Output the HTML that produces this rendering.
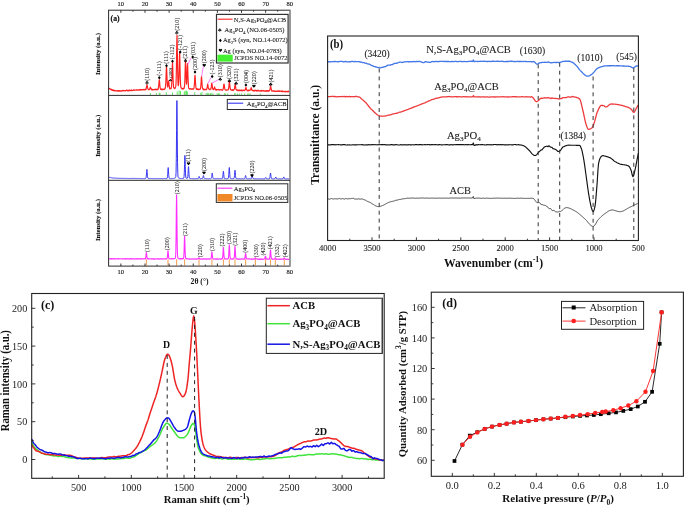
<!DOCTYPE html>
<html><head><meta charset="utf-8"><title>Figure</title>
<style>
html,body{margin:0;padding:0;background:#fff;}
body{width:685px;height:507px;overflow:hidden;font-family:"Liberation Serif",serif;}
svg{display:block;will-change:transform;}
</style></head>
<body>
<svg width="685" height="507" viewBox="0 0 685 507">
<rect x="0" y="0" width="685" height="507" fill="#fff"/>
<line x1="150.4" y1="93" x2="150.4" y2="94.9" stroke="#5fe85f" stroke-width="1.0"/>
<line x1="156.4" y1="93" x2="156.4" y2="94.9" stroke="#5fe85f" stroke-width="1.0"/>
<line x1="159.2" y1="92.6" x2="159.2" y2="94.9" stroke="#5fe85f" stroke-width="1.0"/>
<line x1="160" y1="93" x2="160" y2="94.9" stroke="#5fe85f" stroke-width="1.0"/>
<line x1="166.3" y1="92.2" x2="166.3" y2="94.9" stroke="#5fe85f" stroke-width="1.0"/>
<line x1="172.5" y1="92.4" x2="172.5" y2="94.9" stroke="#5fe85f" stroke-width="1.0"/>
<line x1="177.2" y1="91.5" x2="177.2" y2="94.9" stroke="#5fe85f" stroke-width="1.0"/>
<line x1="179.1" y1="90.4" x2="179.1" y2="94.9" stroke="#5fe85f" stroke-width="1.0"/>
<line x1="180.5" y1="91" x2="180.5" y2="94.9" stroke="#5fe85f" stroke-width="1.0"/>
<line x1="184.3" y1="91.5" x2="184.3" y2="94.9" stroke="#5fe85f" stroke-width="1.0"/>
<line x1="185.2" y1="90.6" x2="185.2" y2="94.9" stroke="#5fe85f" stroke-width="1.0"/>
<line x1="186.5" y1="90.8" x2="186.5" y2="94.9" stroke="#5fe85f" stroke-width="1.0"/>
<line x1="187.4" y1="91.6" x2="187.4" y2="94.9" stroke="#5fe85f" stroke-width="1.0"/>
<line x1="194.7" y1="92.2" x2="194.7" y2="94.9" stroke="#5fe85f" stroke-width="1.0"/>
<line x1="200.8" y1="92.8" x2="200.8" y2="94.9" stroke="#5fe85f" stroke-width="1.0"/>
<line x1="201.9" y1="92.2" x2="201.9" y2="94.9" stroke="#5fe85f" stroke-width="1.0"/>
<line x1="206.2" y1="93.2" x2="206.2" y2="94.9" stroke="#5fe85f" stroke-width="1.0"/>
<line x1="207.3" y1="93" x2="207.3" y2="94.9" stroke="#5fe85f" stroke-width="1.0"/>
<line x1="208.4" y1="93.2" x2="208.4" y2="94.9" stroke="#5fe85f" stroke-width="1.0"/>
<line x1="210" y1="93.4" x2="210" y2="94.9" stroke="#5fe85f" stroke-width="1.0"/>
<line x1="210.6" y1="93.2" x2="210.6" y2="94.9" stroke="#5fe85f" stroke-width="1.0"/>
<line x1="211.8" y1="93.3" x2="211.8" y2="94.9" stroke="#5fe85f" stroke-width="1.0"/>
<line x1="213" y1="93.4" x2="213" y2="94.9" stroke="#5fe85f" stroke-width="1.0"/>
<line x1="217.2" y1="93.3" x2="217.2" y2="94.9" stroke="#5fe85f" stroke-width="1.0"/>
<line x1="218.4" y1="93.3" x2="218.4" y2="94.9" stroke="#5fe85f" stroke-width="1.0"/>
<line x1="219.6" y1="93.5" x2="219.6" y2="94.9" stroke="#5fe85f" stroke-width="1.0"/>
<line x1="224.4" y1="93.2" x2="224.4" y2="94.9" stroke="#5fe85f" stroke-width="1.0"/>
<line x1="225.6" y1="93.5" x2="225.6" y2="94.9" stroke="#5fe85f" stroke-width="1.0"/>
<line x1="227.7" y1="93.4" x2="227.7" y2="94.9" stroke="#5fe85f" stroke-width="1.0"/>
<line x1="234.5" y1="93.4" x2="234.5" y2="94.9" stroke="#5fe85f" stroke-width="1.0"/>
<line x1="235.7" y1="93.4" x2="235.7" y2="94.9" stroke="#5fe85f" stroke-width="1.0"/>
<line x1="237.5" y1="93.5" x2="237.5" y2="94.9" stroke="#5fe85f" stroke-width="1.0"/>
<line x1="239.3" y1="93.5" x2="239.3" y2="94.9" stroke="#5fe85f" stroke-width="1.0"/>
<line x1="241.7" y1="93.4" x2="241.7" y2="94.9" stroke="#5fe85f" stroke-width="1.0"/>
<line x1="244.7" y1="93.5" x2="244.7" y2="94.9" stroke="#5fe85f" stroke-width="1.0"/>
<line x1="247.7" y1="93.5" x2="247.7" y2="94.9" stroke="#5fe85f" stroke-width="1.0"/>
<line x1="248.9" y1="93.5" x2="248.9" y2="94.9" stroke="#5fe85f" stroke-width="1.0"/>
<line x1="250.1" y1="93.5" x2="250.1" y2="94.9" stroke="#5fe85f" stroke-width="1.0"/>
<line x1="260.3" y1="93.6" x2="260.3" y2="94.9" stroke="#5fe85f" stroke-width="1.0"/>
<line x1="146.4" y1="259.2" x2="146.4" y2="265.6" stroke="#f4a257" stroke-width="1.1"/>
<line x1="168" y1="259.2" x2="168" y2="265.6" stroke="#f4a257" stroke-width="1.1"/>
<line x1="176.6" y1="259.2" x2="176.6" y2="265.6" stroke="#f4a257" stroke-width="1.1"/>
<line x1="184.6" y1="259.2" x2="184.6" y2="265.6" stroke="#f4a257" stroke-width="1.1"/>
<line x1="199" y1="259.2" x2="199" y2="265.6" stroke="#f4a257" stroke-width="1.1"/>
<line x1="211.9" y1="259.2" x2="211.9" y2="265.6" stroke="#f4a257" stroke-width="1.1"/>
<line x1="223.4" y1="259.2" x2="223.4" y2="265.6" stroke="#f4a257" stroke-width="1.1"/>
<line x1="229.3" y1="259.2" x2="229.3" y2="265.6" stroke="#f4a257" stroke-width="1.1"/>
<line x1="235" y1="259.2" x2="235" y2="265.6" stroke="#f4a257" stroke-width="1.1"/>
<line x1="245.6" y1="259.2" x2="245.6" y2="265.6" stroke="#f4a257" stroke-width="1.1"/>
<line x1="255.4" y1="259.2" x2="255.4" y2="265.6" stroke="#f4a257" stroke-width="1.1"/>
<line x1="265.5" y1="259.2" x2="265.5" y2="265.6" stroke="#f4a257" stroke-width="1.1"/>
<line x1="270.5" y1="259.2" x2="270.5" y2="265.6" stroke="#f4a257" stroke-width="1.1"/>
<line x1="275.3" y1="259.2" x2="275.3" y2="265.6" stroke="#f4a257" stroke-width="1.1"/>
<line x1="284.3" y1="259.2" x2="284.3" y2="265.6" stroke="#f4a257" stroke-width="1.1"/>
<path d="M108.8 87.97 L109.05 88.75 L109.3 88.8 L109.55 88.48 L109.8 88.83 L110.05 88.92 L110.3 89.23 L110.55 89.49 L110.8 89 L111.05 89.07 L111.3 89.93 L111.55 89.7 L111.8 90.13 L112.05 89.56 L112.3 90.03 L112.55 90.34 L112.8 89.96 L113.05 90.66 L113.3 90.69 L113.55 89.96 L113.8 90.02 L114.05 90.55 L114.3 90.97 L114.55 90.53 L114.8 90.44 L115.05 90.69 L115.3 90.4 L115.55 90.64 L115.8 90.89 L116.05 90.99 L116.3 90.75 L116.55 90.73 L116.8 90.71 L117.05 90.92 L117.3 90.75 L117.55 90.5 L117.8 91.22 L118.05 90.96 L118.3 91.03 L118.55 90.6 L118.8 91.32 L119.05 91.19 L119.3 90.51 L119.55 90.69 L119.8 91.03 L120.05 91.01 L120.3 91.2 L120.55 90.73 L120.8 91.08 L121.05 90.93 L121.3 90.59 L121.55 90.83 L121.8 91.08 L122.05 91.04 L122.3 90.72 L122.55 90.79 L122.8 90.28 L123.05 90.45 L123.3 90.94 L123.55 90.59 L123.8 90.36 L124.05 90.68 L124.3 90.81 L124.55 90.78 L124.8 90.49 L125.05 90.54 L125.3 90.59 L125.55 90.82 L125.8 90.58 L126.05 90.45 L126.3 90.53 L126.55 90.1 L126.8 90.1 L127.05 90.68 L127.3 90.92 L127.55 90.56 L127.8 90.37 L128.05 90.16 L128.3 90.44 L128.55 90.86 L128.8 90.66 L129.05 90.44 L129.3 90.72 L129.55 90.14 L129.8 90.38 L130.05 90.77 L130.3 90.42 L130.55 90.3 L130.8 90.12 L131.05 90.36 L131.3 90.71 L131.55 89.84 L131.8 90.53 L132.05 90.55 L132.3 90.6 L132.55 90.46 L132.8 90.51 L133.05 90.23 L133.3 90.26 L133.55 90.13 L133.8 89.78 L134.05 90.5 L134.3 90.22 L134.55 89.88 L134.8 90.14 L135.05 90.11 L135.3 89.98 L135.55 89.96 L135.8 90.12 L136.05 90.19 L136.3 90.16 L136.55 90.01 L136.8 89.61 L137.05 89.78 L137.3 89.72 L137.55 90.08 L137.8 90.31 L138.05 90.24 L138.3 90.23 L138.55 90.24 L138.8 89.72 L139.05 90.23 L139.3 90.07 L139.55 89.53 L139.8 89.45 L140.05 89.44 L140.3 90.1 L140.55 89.64 L140.8 89.51 L141.05 89.97 L141.3 89.71 L141.55 89.46 L141.8 89.54 L142.05 89.86 L142.3 89.53 L142.55 89.62 L142.8 90.01 L143.05 89.77 L143.3 89.64 L143.55 89.77 L143.8 89.36 L144.05 89.67 L144.3 89.69 L144.55 89.47 L144.8 89.38 L145.05 90.06 L145.3 89.68 L145.55 89.35 L145.8 89.58 L146.05 89.43 L146.3 87.88 L146.5 86.73 L146.55 86.51 L146.75 85.65 L146.8 84.85 L147 84.75 L147.05 84.76 L147.25 85.49 L147.3 85.52 L147.5 87.58 L147.55 87.73 L147.8 88.69 L148.05 89.01 L148.3 89.61 L148.55 89.45 L148.8 89.63 L149.05 89.39 L149.3 89.59 L149.55 88.85 L149.8 88.56 L149.9 88.87 L150.05 88.3 L150.15 87.47 L150.3 87.63 L150.4 87.06 L150.55 87.79 L150.65 87.87 L150.8 88.06 L150.9 88.23 L151.05 88.43 L151.3 89.66 L151.55 89.09 L151.8 89.86 L152.05 90.02 L152.3 89.67 L152.55 89.32 L152.8 89.95 L153.05 90.04 L153.3 89.8 L153.55 89.62 L153.8 89.5 L154.05 89.47 L154.3 89.34 L154.55 89.75 L154.8 89.53 L155.05 89.3 L155.3 89.21 L155.55 89.71 L155.8 89.36 L156.05 89.53 L156.3 89.36 L156.55 89.83 L156.8 89.83 L157.05 89.01 L157.3 89.13 L157.55 89.19 L157.8 89.69 L158.05 89.3 L158.3 88.36 L158.55 86.87 L158.8 84.64 L159.05 81.46 L159.3 79.81 L159.55 81.01 L159.8 84.81 L160.05 87.26 L160.3 88.44 L160.55 89.42 L160.8 88.93 L161.05 89.45 L161.3 88.92 L161.55 89.02 L161.8 89.7 L162.05 89.08 L162.3 89.57 L162.55 89.43 L162.8 89.63 L163.05 89.19 L163.3 89.15 L163.55 89.07 L163.8 89.55 L164.05 89.27 L164.3 89.52 L164.55 89.36 L164.8 88.55 L165.05 88.69 L165.3 87.74 L165.55 86.16 L165.8 82.51 L166 78.16 L166.05 76.59 L166.25 70.52 L166.3 68.77 L166.5 66.34 L166.55 66.67 L166.75 70.04 L166.8 71.65 L167 77.43 L167.05 78.71 L167.3 84.17 L167.55 87.03 L167.8 86.83 L168.05 85.68 L168.1 84.82 L168.3 82.71 L168.35 82.7 L168.55 81.54 L168.6 80.76 L168.8 82.28 L168.85 82.21 L169.05 84.3 L169.1 85.5 L169.3 86.45 L169.55 87.85 L169.8 89.01 L170.05 88.64 L170.3 88.38 L170.55 88.37 L170.8 88.32 L171.05 88.53 L171.3 87.34 L171.55 86.34 L171.8 81.64 L172 76.36 L172.05 74.58 L172.25 67.02 L172.3 65.48 L172.5 62.61 L172.55 62.48 L172.75 67.3 L172.8 68.41 L173 75.43 L173.05 77.93 L173.3 83.53 L173.55 86.8 L173.8 87.76 L174.05 87.99 L174.3 87.88 L174.55 88.65 L174.8 88.63 L175.05 88.48 L175.3 87.44 L175.55 87.03 L175.8 86.15 L176.05 82.98 L176.3 74.07 L176.5 62.47 L176.55 58.96 L176.75 44.45 L176.8 41.67 L177 35.27 L177.05 35.62 L177.25 44.16 L177.3 47.68 L177.5 62.46 L177.55 65.26 L177.8 77.88 L178.05 83.73 L178.3 85.74 L178.55 84.54 L178.8 80.74 L179.05 72.53 L179.1 70.34 L179.3 61.37 L179.35 59.18 L179.55 52.86 L179.6 52.62 L179.8 57.02 L179.85 59.11 L180.05 68.68 L180.1 70.71 L180.3 78.43 L180.55 84.4 L180.8 86.62 L181.05 87.91 L181.3 87.85 L181.55 88.05 L181.8 88.69 L182.05 88.47 L182.3 88.98 L182.55 88.74 L182.8 89.07 L183.05 88.41 L183.3 88.67 L183.55 88.85 L183.8 88.05 L184.05 88.57 L184.3 87.21 L184.55 85.91 L184.8 81.62 L185 75.32 L185.05 73.03 L185.25 65.41 L185.3 64.18 L185.5 61.27 L185.55 60.9 L185.75 65.92 L185.8 66.97 L186 74.94 L186.05 75.81 L186.3 82.08 L186.55 84.2 L186.8 81.35 L187 76.36 L187.05 74.74 L187.25 68.24 L187.3 66.81 L187.5 63.59 L187.55 64.04 L187.75 67.96 L187.8 70.05 L188 76.71 L188.05 77.9 L188.3 83.66 L188.55 87.38 L188.8 88.35 L189.05 88.55 L189.3 88.75 L189.55 89.16 L189.8 88.9 L190.05 88.92 L190.3 88.92 L190.55 88.89 L190.8 88.71 L191.05 89.3 L191.3 89.11 L191.55 89.26 L191.8 88.81 L192.05 89.08 L192.3 88.88 L192.55 88.85 L192.8 88.94 L193.05 89.41 L193.3 88.96 L193.55 88.83 L193.8 88.69 L194.05 87.42 L194.3 84.95 L194.5 82.28 L194.55 81.32 L194.75 77.68 L194.8 76.68 L195 75.25 L195.05 75.41 L195.25 77.31 L195.3 78.44 L195.5 82.25 L195.55 82.91 L195.8 86.46 L196.05 88.25 L196.3 89.18 L196.55 89.42 L196.8 88.96 L197.05 89.36 L197.3 88.87 L197.55 88.92 L197.8 89.34 L198.05 89.68 L198.3 89.05 L198.55 89.59 L198.8 89.69 L199.05 89.17 L199.3 89.49 L199.55 89.59 L199.8 89.1 L200.05 89.28 L200.3 89.02 L200.55 88.08 L200.8 86.31 L201 83.59 L201.05 82.83 L201.25 79.15 L201.3 78.08 L201.5 76.7 L201.55 76.77 L201.75 79.15 L201.8 80.11 L202 82.84 L202.05 84.19 L202.3 87.2 L202.55 88.32 L202.8 89.02 L203.05 88.91 L203.3 89.52 L203.55 88.96 L203.8 89.85 L204.05 89.72 L204.3 89.58 L204.55 89.28 L204.8 89.87 L205.05 89.91 L205.3 89.18 L205.55 89.74 L205.8 89.79 L206.05 89.6 L206.3 89.58 L206.55 89.21 L206.8 89.21 L207.05 88.27 L207.2 86.81 L207.3 86.48 L207.45 85.08 L207.55 84.28 L207.7 84.06 L207.8 84.04 L207.95 85.51 L208.05 86.25 L208.2 86.58 L208.3 87.65 L208.55 88.61 L208.8 88.87 L209.05 89.21 L209.3 89.23 L209.55 89.71 L209.8 89.04 L210.05 89.2 L210.3 89.38 L210.55 88.89 L210.8 89.1 L211.05 88.22 L211.3 86.75 L211.55 84.06 L211.8 83.02 L212.05 84.36 L212.3 86.24 L212.55 88.2 L212.8 88.77 L213.05 89.48 L213.3 89.64 L213.55 89.53 L213.8 89.27 L214 88.3 L214.05 88.08 L214.25 87.68 L214.3 87.45 L214.5 86.96 L214.55 86.82 L214.75 87.19 L214.8 87.21 L215 88.59 L215.05 88.15 L215.3 89.39 L215.55 89.54 L215.8 90.05 L216.05 89.92 L216.3 90.14 L216.55 89.41 L216.8 89.75 L217.05 89.83 L217.3 89.61 L217.55 89.79 L217.8 89.67 L218.05 89.84 L218.3 89.37 L218.55 89.77 L218.8 89.79 L219.05 89.66 L219.3 89.75 L219.55 90.1 L219.8 90.02 L220.05 89.85 L220.3 89.99 L220.55 89.75 L220.8 89.6 L221.05 89.42 L221.3 89.66 L221.55 89.94 L221.8 90.19 L222.05 90.12 L222.3 89.81 L222.55 90.18 L222.8 89.58 L223.05 89.53 L223.3 88.19 L223.5 87.19 L223.55 87.01 L223.75 84.82 L223.8 84.36 L224 84.07 L224.05 84.04 L224.25 84.86 L224.3 84.92 L224.5 86.87 L224.55 87.28 L224.8 88.68 L225.05 89.78 L225.3 89.8 L225.55 90.03 L225.8 90.22 L226.05 90.12 L226.3 89.9 L226.55 90.14 L226.8 90.05 L227.05 90.05 L227.3 90.02 L227.55 89.79 L227.8 89.94 L228.05 89.84 L228.3 89.82 L228.55 88.86 L228.8 87.12 L228.9 86.02 L229.05 84.34 L229.15 83.04 L229.3 81.59 L229.4 81.25 L229.55 82.23 L229.65 83.28 L229.8 84.69 L229.9 85.48 L230.05 87.58 L230.3 88.86 L230.55 89.54 L230.8 89.41 L231.05 89.93 L231.3 90.2 L231.55 89.95 L231.8 89.91 L232.05 90.2 L232.3 89.64 L232.55 90.09 L232.8 90.49 L233.05 90.25 L233.3 89.98 L233.55 90.21 L233.8 90.08 L234.05 89.56 L234.3 89.1 L234.55 88.62 L234.7 87.04 L234.8 86.08 L234.95 85.59 L235.05 84.69 L235.2 84.15 L235.3 84.47 L235.45 85.51 L235.55 85.77 L235.7 87.41 L235.8 88.18 L236.05 89.53 L236.3 89.63 L236.55 90.15 L236.8 89.9 L237.05 90.24 L237.3 89.92 L237.55 90.5 L237.8 90.59 L238.05 90.13 L238.3 90.05 L238.55 90.73 L238.8 90.51 L239.05 90.64 L239.3 89.92 L239.55 90.71 L239.8 90.47 L240.05 90.2 L240.3 90.31 L240.55 90.61 L240.8 90.64 L241.05 90.11 L241.3 90.51 L241.55 90.1 L241.8 90.83 L242.05 90.36 L242.3 90.78 L242.55 90.62 L242.8 90.51 L243.05 90.2 L243.3 90.44 L243.55 90.09 L243.8 90.09 L244.05 90.6 L244.3 90.27 L244.55 90.58 L244.8 90.03 L245.05 90.18 L245.3 89.58 L245.4 88.86 L245.55 88.1 L245.65 87.99 L245.8 87.67 L245.9 87.22 L246.05 87.5 L246.15 87.68 L246.3 88.75 L246.4 89.4 L246.55 89.3 L246.8 89.67 L247.05 90.51 L247.3 90.7 L247.55 90.87 L247.8 90.58 L248.05 90.35 L248.3 90.8 L248.55 90.16 L248.8 90.68 L249.05 90.15 L249.3 90.42 L249.55 90.49 L249.8 90.36 L250.05 90.1 L250.3 89.94 L250.55 89.96 L250.7 89.16 L250.8 88.89 L250.95 88.01 L251.05 88.17 L251.2 87.63 L251.3 87.96 L251.45 88.64 L251.55 89.08 L251.7 88.8 L251.8 89.81 L252.05 90.46 L252.3 90.26 L252.55 90.42 L252.8 90.64 L253.05 90.97 L253.3 90.52 L253.55 90.97 L253.8 90.87 L254.05 90.33 L254.3 91.03 L254.55 90.23 L254.8 90.35 L255.05 90.83 L255.3 90.29 L255.55 90.58 L255.8 90.37 L256.05 90.67 L256.3 91.02 L256.55 91.08 L256.8 90.3 L257.05 90.33 L257.3 91.04 L257.55 90.33 L257.8 90.54 L258.05 90.41 L258.3 90.39 L258.55 90.34 L258.8 90.89 L259.05 90.99 L259.3 90.94 L259.55 91.09 L259.8 90.93 L260.05 90.69 L260.3 90.92 L260.55 91.22 L260.8 90.93 L261.05 90.58 L261.3 90.42 L261.55 91.21 L261.8 90.91 L262.05 90.7 L262.3 90.93 L262.55 90.9 L262.8 90.87 L263.05 90.46 L263.3 90.72 L263.55 90.78 L263.8 90.59 L264.05 91.21 L264.3 90.81 L264.55 91.02 L264.8 91.08 L265.05 91.11 L265.3 91.09 L265.55 91.12 L265.8 90.68 L266.05 91.34 L266.3 90.6 L266.55 91.29 L266.8 91.24 L267.05 91.24 L267.3 90.52 L267.55 90.56 L267.8 91.2 L268.05 90.89 L268.3 90.8 L268.55 91.34 L268.8 90.48 L269.05 90.89 L269.3 90.74 L269.55 90.27 L269.8 89.98 L270.05 89.18 L270.1 89.05 L270.3 87.05 L270.35 87.21 L270.55 86.07 L270.6 86.67 L270.8 86.56 L270.85 86.77 L271.05 88.31 L271.1 88.93 L271.3 89.57 L271.55 90.15 L271.8 91.06 L272.05 91.19 L272.3 91.28 L272.55 90.82 L272.8 90.95 L273.05 90.81 L273.3 91.1 L273.55 90.91 L273.8 90.93 L274.05 91.34 L274.3 91.51 L274.55 91.18 L274.8 90.76 L275.05 91.26 L275.3 91.08 L275.55 91.58 L275.8 91.34 L276.05 91.45 L276.3 91.34 L276.55 91.2 L276.8 91.53 L277.05 91.48 L277.3 91 L277.55 90.88 L277.8 91.08 L278.05 91.23 L278.3 90.85 L278.55 91.08 L278.8 91.29 L279.05 90.82 L279.3 91.52 L279.55 91.38 L279.8 91.08 L280.05 91.08 L280.3 91.13 L280.55 91.11 L280.8 91.5 L281.05 91.28 L281.3 91.31 L281.55 90.98 L281.8 91.67 L282.05 91.15 L282.3 91.16 L282.55 90.93 L282.8 91.76 L283.05 91.31 L283.3 91.71 L283.55 91.73 L283.8 91.77 L284.05 91.64 L284.3 91.74 L284.55 91.75 L284.8 91.64 L285.05 91.05 L285.3 91.41 L285.55 91.46 L285.8 91.84 L286.05 91.66 L286.3 91.59 L286.55 91.64 L286.8 91.3 L287.05 91.83 L287.3 91.56 L287.55 91.35 L287.8 91.41 L288.05 91.88 L288.3 91.49 L288.55 91.16 L288.8 91.15 L289.05 91.64 L289.3 91.54" fill="none" stroke="#ff2020" stroke-width="1.15" stroke-linejoin="round"/>
<path d="M108.8 177.51 L109.05 177.54 L109.3 177.36 L109.55 177.4 L109.8 177.61 L110.05 177.62 L110.3 177.63 L110.55 177.58 L110.8 177.68 L111.05 177.72 L111.3 177.74 L111.55 177.67 L111.8 177.77 L112.05 177.79 L112.3 177.91 L112.55 178 L112.8 178.02 L113.05 177.96 L113.3 177.97 L113.55 177.96 L113.8 177.93 L114.05 177.96 L114.3 178.1 L114.55 178.1 L114.8 178.15 L115.05 178.29 L115.3 178.21 L115.55 178.22 L115.8 178.15 L116.05 178.1 L116.3 178.18 L116.55 178.14 L116.8 178.23 L117.05 178.35 L117.3 178.28 L117.55 178.16 L117.8 178.34 L118.05 178.32 L118.3 178.31 L118.55 178.35 L118.8 178.32 L119.05 178.33 L119.3 178.23 L119.55 178.39 L119.8 178.39 L120.05 178.2 L120.3 178.35 L120.55 178.34 L120.8 178.28 L121.05 178.3 L121.3 178.3 L121.55 178.41 L121.8 178.31 L122.05 178.39 L122.3 178.28 L122.55 178.41 L122.8 178.42 L123.05 178.32 L123.3 178.35 L123.55 178.44 L123.8 178.39 L124.05 178.34 L124.3 178.28 L124.55 178.31 L124.8 178.4 L125.05 178.28 L125.3 178.46 L125.55 178.31 L125.8 178.47 L126.05 178.33 L126.3 178.49 L126.55 178.43 L126.8 178.39 L127.05 178.4 L127.3 178.43 L127.55 178.42 L127.8 178.36 L128.05 178.34 L128.3 178.41 L128.55 178.52 L128.8 178.45 L129.05 178.32 L129.3 178.5 L129.55 178.49 L129.8 178.53 L130.05 178.37 L130.3 178.5 L130.55 178.34 L130.8 178.49 L131.05 178.4 L131.3 178.39 L131.55 178.55 L131.8 178.37 L132.05 178.48 L132.3 178.56 L132.55 178.42 L132.8 178.41 L133.05 178.58 L133.3 178.47 L133.55 178.55 L133.8 178.39 L134.05 178.47 L134.3 178.43 L134.55 178.55 L134.8 178.41 L135.05 178.63 L135.3 178.41 L135.55 178.58 L135.8 178.42 L136.05 178.48 L136.3 178.61 L136.55 178.46 L136.8 178.47 L137.05 178.6 L137.3 178.53 L137.55 178.45 L137.8 178.68 L138.05 178.48 L138.3 178.46 L138.55 178.54 L138.8 178.6 L139.05 178.64 L139.3 178.49 L139.55 178.55 L139.8 178.48 L140.05 178.58 L140.3 178.66 L140.55 178.65 L140.8 178.69 L141.05 178.66 L141.3 178.68 L141.55 178.64 L141.8 178.59 L142.05 178.53 L142.3 178.63 L142.55 178.55 L142.8 178.49 L143.05 178.58 L143.3 178.67 L143.55 178.49 L143.8 178.6 L144.05 178.55 L144.3 178.57 L144.55 178.48 L144.8 178.66 L145.05 178.48 L145.3 178.54 L145.55 178.46 L145.8 178.25 L146.05 177.89 L146.3 176.16 L146.4 175 L146.55 172.84 L146.65 171.38 L146.8 169.68 L146.9 169.43 L147.05 170.22 L147.15 171.58 L147.3 173.81 L147.4 175.22 L147.55 176.65 L147.8 178.02 L148.05 178.34 L148.3 178.51 L148.55 178.56 L148.8 178.62 L149.05 178.61 L149.3 178.51 L149.55 178.56 L149.8 178.59 L150.05 178.47 L150.3 178.48 L150.55 178.57 L150.8 178.5 L151.05 178.65 L151.3 178.54 L151.55 178.51 L151.8 178.53 L152.05 178.54 L152.3 178.54 L152.55 178.61 L152.8 178.6 L153.05 178.56 L153.3 178.64 L153.55 178.54 L153.8 178.71 L154.05 178.72 L154.3 178.67 L154.55 178.6 L154.8 178.62 L155.05 178.63 L155.3 178.51 L155.55 178.6 L155.8 178.62 L156.05 178.54 L156.3 178.52 L156.55 178.69 L156.8 178.58 L157.05 178.62 L157.3 178.72 L157.55 178.64 L157.8 178.57 L158.05 178.73 L158.3 178.59 L158.55 178.5 L158.8 178.66 L159.05 178.52 L159.3 178.57 L159.55 178.7 L159.8 178.66 L160.05 178.5 L160.3 178.61 L160.55 178.6 L160.8 178.62 L161.05 178.55 L161.3 178.64 L161.55 178.52 L161.8 178.57 L162.05 178.59 L162.3 178.72 L162.55 178.51 L162.8 178.68 L163.05 178.54 L163.3 178.63 L163.55 178.59 L163.8 178.6 L164.05 178.67 L164.3 178.58 L164.55 178.51 L164.8 178.51 L165.05 178.49 L165.3 178.67 L165.55 178.62 L165.8 178.68 L166.05 178.61 L166.3 178.43 L166.55 178.56 L166.8 178.55 L167.05 178.43 L167.3 177.93 L167.55 176.31 L167.7 174.41 L167.8 172.81 L167.95 169.99 L168.05 168.56 L168.2 167.56 L168.3 168.13 L168.45 170.12 L168.55 171.94 L168.7 174.49 L168.8 175.74 L169.05 177.67 L169.3 178.31 L169.55 178.4 L169.8 178.48 L170.05 178.56 L170.3 178.64 L170.55 178.56 L170.8 178.63 L171.05 178.45 L171.3 178.52 L171.55 178.67 L171.8 178.46 L172.05 178.52 L172.3 178.43 L172.55 178.43 L172.8 178.61 L173.05 178.62 L173.3 178.52 L173.55 178.37 L173.8 178.38 L174.05 178.33 L174.3 178.39 L174.55 178.32 L174.8 178.18 L175.05 178.08 L175.3 177.79 L175.55 177.57 L175.8 176.69 L176.05 172.53 L176.3 158.57 L176.4 148.96 L176.55 130.78 L176.65 118.04 L176.8 103.86 L176.9 100.57 L177.05 107.57 L177.15 118.07 L177.3 137.23 L177.4 149.02 L177.55 162.6 L177.8 173.71 L178.05 176.88 L178.3 177.53 L178.55 177.95 L178.8 178.19 L179.05 178.13 L179.3 178.29 L179.55 178.35 L179.8 178.37 L180.05 178.48 L180.3 178.56 L180.55 178.52 L180.8 178.48 L181.05 178.61 L181.3 178.47 L181.55 178.57 L181.8 178.55 L182.05 178.57 L182.3 178.59 L182.55 178.42 L182.8 178.5 L183.05 178.41 L183.3 178.42 L183.55 178.41 L183.8 178.04 L184.05 176.67 L184.3 172.7 L184.4 169.89 L184.55 164.55 L184.65 160.75 L184.8 156.56 L184.9 155.43 L185.05 157.7 L185.15 160.77 L185.3 166.36 L185.4 169.93 L185.55 173.95 L185.8 177.08 L186.05 178.16 L186.3 178.36 L186.55 178.29 L186.8 178.45 L187.05 178.41 L187.3 178.25 L187.55 178.06 L187.8 176.54 L188 174.07 L188.05 173.15 L188.25 169.26 L188.3 168.46 L188.5 166.63 L188.55 166.69 L188.75 169.44 L188.8 170.18 L189 173.95 L189.05 174.86 L189.3 177.5 L189.55 178.3 L189.8 178.52 L190.05 178.52 L190.3 178.6 L190.55 178.54 L190.8 178.54 L191.05 178.61 L191.3 178.51 L191.55 178.53 L191.8 178.69 L192.05 178.56 L192.3 178.7 L192.55 178.71 L192.8 178.63 L193.05 178.69 L193.3 178.72 L193.55 178.74 L193.8 178.57 L194.05 178.58 L194.3 178.63 L194.55 178.66 L194.8 178.62 L195.05 178.55 L195.3 178.68 L195.55 178.78 L195.8 178.64 L196.05 178.68 L196.3 178.64 L196.55 178.65 L196.8 178.76 L197.05 178.62 L197.3 178.7 L197.55 178.65 L197.8 178.66 L198.05 178.71 L198.3 178.36 L198.55 178.07 L198.6 177.8 L198.8 177.19 L198.85 177.05 L199.05 176.54 L199.1 176.46 L199.3 176.9 L199.35 176.88 L199.55 177.72 L199.6 177.82 L199.8 178.33 L200.05 178.66 L200.3 178.71 L200.55 178.69 L200.8 178.61 L201.05 178.6 L201.3 178.65 L201.55 178.6 L201.8 178.6 L202.05 178.76 L202.3 178.51 L202.55 178.52 L202.8 177.87 L202.9 177.48 L203.05 176.74 L203.15 176.18 L203.3 175.7 L203.4 175.51 L203.55 175.85 L203.65 176.24 L203.8 177.14 L203.9 177.62 L204.05 178.04 L204.3 178.54 L204.55 178.73 L204.8 178.62 L205.05 178.58 L205.3 178.62 L205.55 178.61 L205.8 178.73 L206.05 178.66 L206.3 178.66 L206.55 178.77 L206.8 178.63 L207.05 178.77 L207.3 178.73 L207.55 178.67 L207.8 178.78 L208.05 178.66 L208.3 178.79 L208.55 178.8 L208.8 178.7 L209.05 178.74 L209.3 178.8 L209.55 178.75 L209.8 178.75 L210.05 178.77 L210.3 178.78 L210.55 178.73 L210.8 178.76 L211.05 178.54 L211.3 178.39 L211.55 177.58 L211.7 176.51 L211.8 175.65 L211.95 174.2 L212.05 173.61 L212.2 172.96 L212.3 173.22 L212.45 174.37 L212.55 175.13 L212.7 176.65 L212.8 177.17 L213.05 178.16 L213.3 178.54 L213.55 178.61 L213.8 178.77 L214.05 178.77 L214.3 178.76 L214.55 178.68 L214.8 178.71 L215.05 178.65 L215.3 178.79 L215.55 178.69 L215.8 178.66 L216.05 178.75 L216.3 178.64 L216.55 178.68 L216.8 178.82 L217.05 178.63 L217.3 178.64 L217.55 178.65 L217.8 178.66 L218.05 178.7 L218.3 178.66 L218.55 178.69 L218.8 178.66 L219.05 178.66 L219.3 178.75 L219.55 178.68 L219.8 178.69 L220.05 178.78 L220.3 178.61 L220.55 178.63 L220.8 178.79 L221.05 178.69 L221.3 178.76 L221.55 178.6 L221.8 178.67 L222.05 178.72 L222.3 178.5 L222.55 178.21 L222.8 176.83 L222.9 175.84 L223.05 174.22 L223.15 172.86 L223.3 171.49 L223.4 171.22 L223.55 171.81 L223.65 172.96 L223.8 174.74 L223.9 175.89 L224.05 177.19 L224.3 178.39 L224.55 178.69 L224.8 178.72 L225.05 178.66 L225.3 178.66 L225.55 178.7 L225.8 178.59 L226.05 178.6 L226.3 178.82 L226.55 178.61 L226.8 178.8 L227.05 178.73 L227.3 178.77 L227.55 178.55 L227.8 178.58 L228.05 178.63 L228.3 178.19 L228.55 177.21 L228.8 174.47 L229.05 170.01 L229.3 167.5 L229.55 170.13 L229.8 174.41 L230.05 177.42 L230.3 178.35 L230.55 178.45 L230.8 178.72 L231.05 178.6 L231.3 178.67 L231.55 178.71 L231.8 178.61 L232.05 178.7 L232.3 178.6 L232.55 178.63 L232.8 178.8 L233.05 178.77 L233.3 178.68 L233.55 178.7 L233.8 178.68 L234.05 178.26 L234.3 177.37 L234.5 175.45 L234.55 174.83 L234.75 172.09 L234.8 171.5 L235 170.18 L235.05 170.31 L235.25 172.16 L235.3 172.89 L235.5 175.63 L235.55 176.2 L235.8 177.96 L236.05 178.5 L236.3 178.74 L236.55 178.6 L236.8 178.61 L237.05 178.8 L237.3 178.76 L237.55 178.67 L237.8 178.72 L238.05 178.71 L238.3 178.74 L238.55 178.74 L238.8 178.74 L239.05 178.84 L239.3 178.84 L239.55 178.79 L239.8 178.77 L240.05 178.72 L240.3 178.84 L240.55 178.89 L240.8 178.71 L241.05 178.83 L241.3 178.83 L241.55 178.82 L241.8 178.67 L242.05 178.79 L242.3 178.71 L242.55 178.7 L242.8 178.8 L243.05 178.81 L243.3 178.8 L243.55 178.83 L243.8 178.81 L244.05 178.75 L244.3 178.63 L244.55 178.76 L244.8 178.55 L245.05 177.87 L245.1 177.6 L245.3 176.46 L245.35 176.24 L245.55 175.53 L245.6 175.63 L245.8 176.09 L245.85 176.24 L246.05 177.45 L246.1 177.69 L246.3 178.37 L246.55 178.63 L246.8 178.69 L247.05 178.69 L247.3 178.85 L247.55 178.83 L247.8 178.73 L248.05 178.88 L248.3 178.8 L248.55 178.77 L248.8 178.77 L249.05 178.84 L249.3 178.78 L249.55 178.83 L249.8 178.7 L250.05 178.84 L250.3 178.73 L250.55 178.88 L250.8 178.7 L251.05 178.7 L251.3 178.62 L251.55 178.12 L251.7 177.59 L251.8 177.2 L251.95 176.25 L252.05 175.95 L252.2 175.64 L252.3 175.8 L252.45 176.3 L252.55 176.83 L252.7 177.55 L252.8 177.98 L253.05 178.5 L253.3 178.66 L253.55 178.76 L253.8 178.71 L254.05 178.79 L254.3 178.82 L254.55 178.76 L254.8 178.73 L255.05 178.83 L255.3 178.9 L255.55 178.75 L255.8 178.84 L256.05 178.85 L256.3 178.91 L256.55 178.86 L256.8 178.77 L257.05 178.75 L257.3 178.9 L257.55 178.77 L257.8 178.71 L258.05 178.91 L258.3 178.75 L258.55 178.78 L258.8 178.78 L259.05 178.77 L259.3 178.88 L259.55 178.79 L259.8 178.81 L260.05 178.81 L260.3 178.91 L260.55 178.71 L260.8 178.85 L261.05 178.74 L261.3 178.75 L261.55 178.86 L261.8 178.8 L262.05 178.73 L262.3 178.85 L262.55 178.93 L262.8 178.87 L263.05 178.83 L263.3 178.9 L263.55 178.93 L263.8 178.74 L264.05 178.78 L264.3 178.93 L264.55 178.91 L264.8 178.68 L265.05 178.59 L265.2 178.38 L265.3 178.09 L265.45 177.77 L265.55 177.53 L265.7 177.33 L265.8 177.38 L265.95 177.61 L266.05 177.99 L266.2 178.2 L266.3 178.5 L266.55 178.7 L266.8 178.78 L267.05 178.93 L267.3 178.79 L267.55 178.81 L267.8 178.79 L268.05 178.75 L268.3 178.75 L268.55 178.81 L268.8 178.87 L269.05 178.68 L269.3 178.84 L269.55 178.6 L269.8 177.79 L270 176.67 L270.05 176.17 L270.25 174.31 L270.3 173.79 L270.5 173 L270.55 173.06 L270.75 174.38 L270.8 174.79 L271 176.67 L271.05 177.07 L271.3 178.19 L271.55 178.55 L271.8 178.76 L272.05 178.71 L272.3 178.72 L272.55 178.78 L272.8 178.84 L273.05 178.86 L273.3 178.87 L273.55 178.94 L273.8 178.74 L274.05 178.85 L274.3 178.73 L274.55 178.86 L274.8 178.77 L275.05 178.53 L275.3 178.1 L275.55 177.45 L275.8 176.99 L276.05 177.52 L276.3 178.12 L276.55 178.58 L276.8 178.89 L277.05 178.86 L277.3 178.75 L277.55 178.92 L277.8 178.82 L278.05 178.97 L278.3 178.89 L278.55 178.94 L278.8 178.96 L279.05 178.87 L279.3 178.98 L279.55 178.75 L279.8 178.83 L280.05 178.95 L280.3 178.75 L280.55 178.91 L280.8 178.99 L281.05 178.92 L281.3 178.96 L281.55 178.77 L281.8 178.88 L282.05 178.89 L282.3 178.84 L282.55 178.83 L282.8 178.87 L283.05 178.53 L283.3 177.98 L283.55 177.29 L283.8 176.91 L284.05 177.34 L284.3 178.13 L284.55 178.57 L284.8 178.9 L285.05 178.74 L285.3 178.8 L285.55 178.94 L285.8 178.97 L286.05 178.86 L286.3 178.98 L286.55 178.79 L286.8 178.91 L287.05 178.78 L287.3 178.82 L287.55 178.82 L287.8 178.77 L288.05 178.87 L288.3 178.89 L288.55 178.84 L288.8 178.93 L289.05 178.79 L289.3 178.9" fill="none" stroke="#3535f2" stroke-width="1.0" stroke-linejoin="round"/>
<path d="M108.8 258.67 L109.05 258.82 L109.3 258.74 L109.55 258.85 L109.8 258.87 L110.05 258.59 L110.3 258.56 L110.55 258.97 L110.8 258.68 L111.05 258.67 L111.3 259.05 L111.55 258.79 L111.8 258.97 L112.05 258.8 L112.3 258.88 L112.55 258.63 L112.8 258.88 L113.05 258.99 L113.3 258.82 L113.55 258.93 L113.8 258.9 L114.05 258.59 L114.3 258.94 L114.55 258.86 L114.8 258.71 L115.05 258.58 L115.3 259 L115.55 258.8 L115.8 258.92 L116.05 259.01 L116.3 258.92 L116.55 259.03 L116.8 258.76 L117.05 258.97 L117.3 258.79 L117.55 259.04 L117.8 259.01 L118.05 258.62 L118.3 258.64 L118.55 258.68 L118.8 259.05 L119.05 258.79 L119.3 258.89 L119.55 258.72 L119.8 258.83 L120.05 258.77 L120.3 258.75 L120.55 258.87 L120.8 258.87 L121.05 259.03 L121.3 258.92 L121.55 259.04 L121.8 259.01 L122.05 259.07 L122.3 258.92 L122.55 258.66 L122.8 259.01 L123.05 259.06 L123.3 259.03 L123.55 258.87 L123.8 258.94 L124.05 258.69 L124.3 259 L124.55 258.87 L124.8 258.73 L125.05 258.62 L125.3 259.01 L125.55 259.08 L125.8 258.63 L126.05 258.99 L126.3 258.79 L126.55 258.66 L126.8 258.74 L127.05 258.97 L127.3 259.03 L127.55 258.61 L127.8 258.9 L128.05 258.61 L128.3 258.95 L128.55 258.76 L128.8 259.03 L129.05 259.08 L129.3 258.85 L129.55 259.09 L129.8 258.75 L130.05 258.63 L130.3 258.9 L130.55 258.61 L130.8 258.7 L131.05 258.8 L131.3 258.9 L131.55 258.68 L131.8 258.62 L132.05 259.03 L132.3 258.76 L132.55 259.08 L132.8 259.05 L133.05 258.79 L133.3 258.83 L133.55 258.86 L133.8 258.93 L134.05 258.9 L134.3 258.88 L134.55 258.92 L134.8 259.08 L135.05 258.86 L135.3 258.82 L135.55 258.97 L135.8 258.73 L136.05 258.76 L136.3 259.1 L136.55 258.87 L136.8 258.88 L137.05 258.62 L137.3 258.82 L137.55 258.9 L137.8 258.62 L138.05 258.92 L138.3 258.93 L138.55 258.64 L138.8 258.93 L139.05 258.85 L139.3 258.95 L139.55 258.79 L139.8 258.97 L140.05 258.98 L140.3 258.63 L140.55 258.65 L140.8 258.95 L141.05 259.1 L141.3 258.74 L141.55 258.84 L141.8 258.91 L142.05 258.77 L142.3 258.8 L142.55 258.77 L142.8 258.8 L143.05 258.91 L143.3 258.76 L143.55 258.79 L143.8 258.99 L144.05 258.61 L144.3 258.87 L144.55 258.95 L144.8 258.72 L145.05 258.65 L145.3 258.86 L145.55 258.25 L145.8 257.12 L145.9 256.46 L146.05 255.12 L146.15 253.81 L146.3 252.76 L146.4 252.51 L146.55 253.32 L146.65 253.98 L146.8 255.72 L146.9 256.33 L147.05 257.51 L147.3 258.57 L147.55 258.93 L147.8 258.78 L148.05 258.69 L148.3 258.65 L148.55 258.87 L148.8 258.7 L149.05 259.02 L149.3 259.04 L149.55 258.71 L149.8 258.76 L150.05 259.03 L150.3 258.95 L150.55 259.03 L150.8 258.8 L151.05 258.7 L151.3 258.78 L151.55 259.03 L151.8 258.77 L152.05 258.81 L152.3 258.85 L152.55 258.85 L152.8 258.84 L153.05 259.1 L153.3 258.72 L153.55 258.64 L153.8 259.11 L154.05 259.08 L154.3 259.14 L154.55 258.86 L154.8 259.12 L155.05 259.11 L155.3 258.76 L155.55 259.02 L155.8 259.06 L156.05 258.98 L156.3 258.91 L156.55 258.79 L156.8 258.82 L157.05 258.76 L157.3 258.68 L157.55 258.94 L157.8 258.79 L158.05 259.05 L158.3 258.67 L158.55 259.1 L158.8 259 L159.05 259.11 L159.3 259.1 L159.55 259.1 L159.8 258.94 L160.05 258.66 L160.3 259.02 L160.55 258.74 L160.8 258.8 L161.05 258.98 L161.3 258.91 L161.55 258.86 L161.8 259.12 L162.05 258.96 L162.3 258.82 L162.55 258.78 L162.8 259.08 L163.05 258.89 L163.3 259.04 L163.55 258.82 L163.8 258.75 L164.05 258.91 L164.3 259.05 L164.55 258.73 L164.8 259.03 L165.05 259.1 L165.3 259.03 L165.55 259.04 L165.8 258.62 L166.05 258.92 L166.3 259.02 L166.55 258.59 L166.8 258.64 L167.05 258.39 L167.3 257.59 L167.5 255.78 L167.55 255.21 L167.75 252.74 L167.8 251.76 L168 250.55 L168.05 250.67 L168.25 252.41 L168.3 253.03 L168.5 256.05 L168.55 256.52 L168.8 257.87 L169.05 258.64 L169.3 258.68 L169.55 258.72 L169.8 258.76 L170.05 258.92 L170.3 258.89 L170.55 258.78 L170.8 258.7 L171.05 258.77 L171.3 258.67 L171.55 258.88 L171.8 258.96 L172.05 258.78 L172.3 258.62 L172.55 258.66 L172.8 258.75 L173.05 258.85 L173.3 258.92 L173.55 258.69 L173.8 258.87 L174.05 258.74 L174.3 258.59 L174.55 258.48 L174.8 258.44 L175.05 258.37 L175.3 257.92 L175.55 256.99 L175.8 252.43 L176.05 238.65 L176.1 234.55 L176.3 214.38 L176.35 208.96 L176.55 195.42 L176.6 194.75 L176.8 204.68 L176.85 209.39 L177.05 229.78 L177.1 234.73 L177.3 248.58 L177.55 255.67 L177.8 257.68 L178.05 257.99 L178.3 258.54 L178.55 258.59 L178.8 258.79 L179.05 258.81 L179.3 258.79 L179.55 258.86 L179.8 258.8 L180.05 258.59 L180.3 258.85 L180.55 258.57 L180.8 258.64 L181.05 258.96 L181.3 258.6 L181.55 258.62 L181.8 258.62 L182.05 259 L182.3 258.64 L182.55 258.54 L182.8 258.91 L183.05 258.5 L183.3 258.75 L183.55 258.29 L183.8 256.81 L184.05 252.04 L184.1 250.35 L184.3 243.31 L184.35 241.12 L184.55 236.64 L184.6 236.28 L184.8 239.81 L184.85 241.16 L185.05 248.79 L185.1 250.54 L185.3 255.02 L185.55 257.75 L185.8 258.54 L186.05 258.85 L186.3 258.63 L186.55 258.64 L186.8 258.71 L187.05 258.92 L187.3 259 L187.55 258.84 L187.8 258.84 L188.05 258.86 L188.3 258.84 L188.55 258.88 L188.8 258.72 L189.05 258.94 L189.3 259.18 L189.55 258.9 L189.8 259.07 L190.05 258.78 L190.3 259.05 L190.55 259.08 L190.8 259.04 L191.05 258.97 L191.3 258.95 L191.55 259.03 L191.8 259.16 L192.05 258.79 L192.3 258.76 L192.55 259.09 L192.8 259.18 L193.05 258.98 L193.3 258.94 L193.55 259.08 L193.8 258.82 L194.05 258.86 L194.3 258.82 L194.55 259.02 L194.8 258.88 L195.05 258.84 L195.3 259.07 L195.55 259.2 L195.8 258.88 L196.05 259.08 L196.3 258.93 L196.55 259.16 L196.8 259.02 L197.05 258.86 L197.3 258.83 L197.55 258.73 L197.8 258.95 L198.05 258.87 L198.3 258.63 L198.5 258.46 L198.55 258.36 L198.75 258.2 L198.8 257.79 L199 258.04 L199.05 257.79 L199.25 258.11 L199.3 258.14 L199.5 258.7 L199.55 258.78 L199.8 258.9 L200.05 258.95 L200.3 259.09 L200.55 259.16 L200.8 258.94 L201.05 259.11 L201.3 259.22 L201.55 258.98 L201.8 258.86 L202.05 258.86 L202.3 259.1 L202.55 259.08 L202.8 259.23 L203.05 259.17 L203.3 258.87 L203.55 258.84 L203.8 258.88 L204.05 258.84 L204.3 259.1 L204.55 259.18 L204.8 259.2 L205.05 258.88 L205.3 259.18 L205.55 258.91 L205.8 258.96 L206.05 259.12 L206.3 258.8 L206.55 258.8 L206.8 259.17 L207.05 258.9 L207.3 258.93 L207.55 259.04 L207.8 259.09 L208.05 258.75 L208.3 258.92 L208.55 258.97 L208.8 258.99 L209.05 258.85 L209.3 259.03 L209.55 259.21 L209.8 258.92 L210.05 258.99 L210.3 258.76 L210.55 258.81 L210.8 258.91 L211.05 258.25 L211.3 257.34 L211.4 256.44 L211.55 254.32 L211.65 253.56 L211.8 251.93 L211.9 251.83 L212.05 252.47 L212.15 253.24 L212.3 255.21 L212.4 256.31 L212.55 257.67 L212.8 258.45 L213.05 258.99 L213.3 259.16 L213.55 259.04 L213.8 258.99 L214.05 258.79 L214.3 258.99 L214.55 258.93 L214.8 259.11 L215.05 259.1 L215.3 259.04 L215.55 258.85 L215.8 259.09 L216.05 259.08 L216.3 258.86 L216.55 259.21 L216.8 259.1 L217.05 258.83 L217.3 259.24 L217.55 258.84 L217.8 258.94 L218.05 259.13 L218.3 259.07 L218.55 259.05 L218.8 259.09 L219.05 259 L219.3 258.92 L219.55 258.85 L219.8 258.8 L220.05 259.12 L220.3 259.13 L220.55 259.02 L220.8 259.11 L221.05 258.91 L221.3 258.85 L221.55 258.89 L221.8 259.11 L222.05 258.65 L222.3 258.73 L222.55 257.98 L222.8 256.16 L222.9 254.5 L223.05 251.74 L223.15 249.87 L223.3 247.79 L223.4 247.42 L223.55 248.26 L223.65 250.09 L223.8 252.59 L223.9 254.45 L224.05 256.42 L224.3 258.11 L224.55 258.91 L224.8 259 L225.05 258.77 L225.3 258.79 L225.55 258.92 L225.8 259.09 L226.05 259.13 L226.3 259.1 L226.55 259.02 L226.8 258.79 L227.05 258.91 L227.3 258.79 L227.55 258.93 L227.8 258.91 L228.05 258.65 L228.3 258.35 L228.55 257.32 L228.8 253.31 L229.05 247.98 L229.3 244.78 L229.55 248.05 L229.8 253.48 L230.05 257.2 L230.3 258.52 L230.55 258.86 L230.8 259.12 L231.05 259.02 L231.3 258.85 L231.55 259.14 L231.8 258.97 L232.05 259.03 L232.3 259.09 L232.55 258.73 L232.8 259.11 L233.05 259.04 L233.3 258.93 L233.55 258.91 L233.8 258.79 L234.05 258.28 L234.3 257 L234.5 254.01 L234.55 253.31 L234.75 249.3 L234.8 248.27 L235 246.42 L235.05 246.75 L235.25 249.43 L235.3 250.06 L235.5 254.39 L235.55 255.14 L235.8 257.56 L236.05 258.59 L236.3 258.74 L236.55 258.73 L236.8 258.99 L237.05 259.21 L237.3 258.92 L237.55 259.21 L237.8 259.13 L238.05 258.86 L238.3 259.23 L238.55 259.1 L238.8 259.27 L239.05 259.17 L239.3 259.18 L239.55 258.98 L239.8 259.22 L240.05 259.28 L240.3 259.25 L240.55 259.04 L240.8 259.2 L241.05 259.06 L241.3 258.88 L241.55 258.84 L241.8 258.86 L242.05 258.92 L242.3 258.9 L242.55 259.07 L242.8 259.17 L243.05 259.08 L243.3 259.02 L243.55 259.13 L243.8 258.95 L244.05 259.02 L244.3 259.13 L244.55 258.86 L244.8 258.37 L245.05 257.53 L245.1 257.07 L245.3 255.13 L245.35 254.69 L245.55 253.57 L245.6 253.54 L245.8 254.2 L245.85 254.5 L246.05 256.41 L246.1 257.11 L246.3 258 L246.55 258.8 L246.8 258.84 L247.05 258.89 L247.3 258.89 L247.55 259.02 L247.8 258.91 L248.05 258.84 L248.3 258.89 L248.55 258.92 L248.8 259.09 L249.05 258.87 L249.3 258.86 L249.55 259.07 L249.8 259.05 L250.05 259.2 L250.3 258.88 L250.55 259.05 L250.8 259.05 L251.05 258.87 L251.3 259.34 L251.55 258.96 L251.8 258.9 L252.05 259.09 L252.3 258.94 L252.55 259.17 L252.8 259.03 L253.05 258.92 L253.3 258.88 L253.55 259.22 L253.8 258.99 L254.05 259.24 L254.3 259.06 L254.55 259.23 L254.8 258.68 L254.9 258.49 L255.05 258.19 L255.15 258.25 L255.3 257.91 L255.4 257.72 L255.55 257.71 L255.65 258.18 L255.8 258.65 L255.9 258.66 L256.05 258.6 L256.3 258.8 L256.55 258.89 L256.8 258.94 L257.05 258.88 L257.3 258.89 L257.55 259.19 L257.8 259.32 L258.05 258.97 L258.3 259.36 L258.55 259.11 L258.8 259.27 L259.05 259.33 L259.3 259.34 L259.55 258.89 L259.8 259.03 L260.05 259.18 L260.3 259.35 L260.55 258.92 L260.8 259.02 L261.05 259.3 L261.3 258.93 L261.55 259.07 L261.8 259.04 L262.05 259.22 L262.3 259.34 L262.55 258.96 L262.8 259.24 L263.05 259.24 L263.3 259.29 L263.55 259.14 L263.8 259.32 L264.05 259.03 L264.3 259.04 L264.55 258.86 L264.8 258.79 L265 258.01 L265.05 257.68 L265.25 256.69 L265.3 256.75 L265.5 256.24 L265.55 256.32 L265.75 256.79 L265.8 257.08 L266 257.84 L266.05 258.31 L266.3 258.6 L266.55 259.02 L266.8 259.21 L267.05 259.19 L267.3 258.9 L267.55 258.97 L267.8 259.27 L268.05 259.17 L268.3 259.28 L268.55 259.27 L268.8 259.04 L269.05 259.24 L269.3 259.09 L269.55 258.62 L269.8 257.59 L270 255.45 L270.05 254.95 L270.25 252.28 L270.3 251.18 L270.5 250.03 L270.55 249.9 L270.75 251.84 L270.8 252.85 L271 255.54 L271.05 256.05 L271.3 258.05 L271.55 258.93 L271.8 259.06 L272.05 258.82 L272.3 258.95 L272.55 259.33 L272.8 258.97 L273.05 259.15 L273.3 259.08 L273.55 259.27 L273.8 259.18 L274.05 259.27 L274.3 259.11 L274.55 258.82 L274.8 258.47 L275.05 257.88 L275.3 257.95 L275.55 257.9 L275.8 258.4 L276.05 259.22 L276.3 258.96 L276.55 259.34 L276.8 258.94 L277.05 259.14 L277.3 259.02 L277.55 259.32 L277.8 259.22 L278.05 259.23 L278.3 259.3 L278.55 259.35 L278.8 259.09 L279.05 259.22 L279.3 259.14 L279.55 258.98 L279.8 259.34 L280.05 259.22 L280.3 259.33 L280.55 259.03 L280.8 259.19 L281.05 259.16 L281.3 259.29 L281.55 258.96 L281.8 259.1 L282.05 259.16 L282.3 258.96 L282.55 259.2 L282.8 259.28 L283.05 259.12 L283.3 259.2 L283.55 259.06 L283.8 258.51 L284.05 258.03 L284.3 258.05 L284.55 258.03 L284.8 258.62 L285.05 258.8 L285.3 258.99 L285.55 259 L285.8 259.39 L286.05 259.29 L286.3 259.37 L286.55 259.43 L286.8 259.24 L287.05 259.4 L287.3 259.21 L287.55 259.15 L287.8 259.41 L288.05 259.39 L288.3 259.42 L288.55 259.19 L288.8 259.33 L289.05 259.15 L289.3 259.44" fill="none" stroke="#ff30ff" stroke-width="1.1" stroke-linejoin="round"/>
<rect x="108.6" y="10.2" width="181.4" height="255.9" fill="none" stroke="#2a2a2a" stroke-width="1"/>
<line x1="290.1" y1="10.2" x2="290.1" y2="266.1" stroke="#9a9a9a" stroke-width="1.7"/>
<line x1="108.6" y1="95.4" x2="290" y2="95.4" stroke="#2a2a2a" stroke-width="1"/>
<line x1="108.6" y1="180.3" x2="290" y2="180.3" stroke="#2a2a2a" stroke-width="1"/>
<line x1="120.86" y1="10.2" x2="120.86" y2="12.8" stroke="#222" stroke-width="0.9"/>
<line x1="120.86" y1="266.1" x2="120.86" y2="263.5" stroke="#222" stroke-width="0.9"/>
<line x1="132.93" y1="10.2" x2="132.93" y2="11.7" stroke="#222" stroke-width="0.9"/>
<line x1="132.93" y1="266.1" x2="132.93" y2="264.6" stroke="#222" stroke-width="0.9"/>
<line x1="145" y1="10.2" x2="145" y2="12.8" stroke="#222" stroke-width="0.9"/>
<line x1="145" y1="266.1" x2="145" y2="263.5" stroke="#222" stroke-width="0.9"/>
<line x1="157.06" y1="10.2" x2="157.06" y2="11.7" stroke="#222" stroke-width="0.9"/>
<line x1="157.06" y1="266.1" x2="157.06" y2="264.6" stroke="#222" stroke-width="0.9"/>
<line x1="169.12" y1="10.2" x2="169.12" y2="12.8" stroke="#222" stroke-width="0.9"/>
<line x1="169.12" y1="266.1" x2="169.12" y2="263.5" stroke="#222" stroke-width="0.9"/>
<line x1="181.19" y1="10.2" x2="181.19" y2="11.7" stroke="#222" stroke-width="0.9"/>
<line x1="181.19" y1="266.1" x2="181.19" y2="264.6" stroke="#222" stroke-width="0.9"/>
<line x1="193.25" y1="10.2" x2="193.25" y2="12.8" stroke="#222" stroke-width="0.9"/>
<line x1="193.25" y1="266.1" x2="193.25" y2="263.5" stroke="#222" stroke-width="0.9"/>
<line x1="205.32" y1="10.2" x2="205.32" y2="11.7" stroke="#222" stroke-width="0.9"/>
<line x1="205.32" y1="266.1" x2="205.32" y2="264.6" stroke="#222" stroke-width="0.9"/>
<line x1="217.38" y1="10.2" x2="217.38" y2="12.8" stroke="#222" stroke-width="0.9"/>
<line x1="217.38" y1="266.1" x2="217.38" y2="263.5" stroke="#222" stroke-width="0.9"/>
<line x1="229.45" y1="10.2" x2="229.45" y2="11.7" stroke="#222" stroke-width="0.9"/>
<line x1="229.45" y1="266.1" x2="229.45" y2="264.6" stroke="#222" stroke-width="0.9"/>
<line x1="241.51" y1="10.2" x2="241.51" y2="12.8" stroke="#222" stroke-width="0.9"/>
<line x1="241.51" y1="266.1" x2="241.51" y2="263.5" stroke="#222" stroke-width="0.9"/>
<line x1="253.58" y1="10.2" x2="253.58" y2="11.7" stroke="#222" stroke-width="0.9"/>
<line x1="253.58" y1="266.1" x2="253.58" y2="264.6" stroke="#222" stroke-width="0.9"/>
<line x1="265.64" y1="10.2" x2="265.64" y2="12.8" stroke="#222" stroke-width="0.9"/>
<line x1="265.64" y1="266.1" x2="265.64" y2="263.5" stroke="#222" stroke-width="0.9"/>
<line x1="277.71" y1="10.2" x2="277.71" y2="11.7" stroke="#222" stroke-width="0.9"/>
<line x1="277.71" y1="266.1" x2="277.71" y2="264.6" stroke="#222" stroke-width="0.9"/>
<text x="120.86" y="5.6" font-family="Liberation Serif" font-size="6.5" text-anchor="middle" fill="#222" stroke="#222" stroke-width="0.15">10</text>
<text x="120.86" y="273.6" font-family="Liberation Serif" font-size="6.5" text-anchor="middle" fill="#222" stroke="#222" stroke-width="0.15">10</text>
<text x="145" y="5.6" font-family="Liberation Serif" font-size="6.5" text-anchor="middle" fill="#222" stroke="#222" stroke-width="0.15">20</text>
<text x="145" y="273.6" font-family="Liberation Serif" font-size="6.5" text-anchor="middle" fill="#222" stroke="#222" stroke-width="0.15">20</text>
<text x="169.12" y="5.6" font-family="Liberation Serif" font-size="6.5" text-anchor="middle" fill="#222" stroke="#222" stroke-width="0.15">30</text>
<text x="169.12" y="273.6" font-family="Liberation Serif" font-size="6.5" text-anchor="middle" fill="#222" stroke="#222" stroke-width="0.15">30</text>
<text x="193.25" y="5.6" font-family="Liberation Serif" font-size="6.5" text-anchor="middle" fill="#222" stroke="#222" stroke-width="0.15">40</text>
<text x="193.25" y="273.6" font-family="Liberation Serif" font-size="6.5" text-anchor="middle" fill="#222" stroke="#222" stroke-width="0.15">40</text>
<text x="217.38" y="5.6" font-family="Liberation Serif" font-size="6.5" text-anchor="middle" fill="#222" stroke="#222" stroke-width="0.15">50</text>
<text x="217.38" y="273.6" font-family="Liberation Serif" font-size="6.5" text-anchor="middle" fill="#222" stroke="#222" stroke-width="0.15">50</text>
<text x="241.51" y="5.6" font-family="Liberation Serif" font-size="6.5" text-anchor="middle" fill="#222" stroke="#222" stroke-width="0.15">60</text>
<text x="241.51" y="273.6" font-family="Liberation Serif" font-size="6.5" text-anchor="middle" fill="#222" stroke="#222" stroke-width="0.15">60</text>
<text x="265.64" y="5.6" font-family="Liberation Serif" font-size="6.5" text-anchor="middle" fill="#222" stroke="#222" stroke-width="0.15">70</text>
<text x="265.64" y="273.6" font-family="Liberation Serif" font-size="6.5" text-anchor="middle" fill="#222" stroke="#222" stroke-width="0.15">70</text>
<text x="289.77" y="5.6" font-family="Liberation Serif" font-size="6.5" text-anchor="middle" fill="#222" stroke="#222" stroke-width="0.15">80</text>
<text x="289.77" y="273.6" font-family="Liberation Serif" font-size="6.5" text-anchor="middle" fill="#222" stroke="#222" stroke-width="0.15">80</text>
<text x="110.6" y="20.9" font-family="Liberation Serif" font-size="7.6" font-weight="bold" text-anchor="start" fill="#111" stroke="#111" stroke-width="0.15" textLength="9.1" lengthAdjust="spacingAndGlyphs">(a)</text>
<text x="199.6" y="284" font-family="Liberation Serif" font-size="7.7" font-weight="bold" text-anchor="middle" fill="#111">2θ (°)</text>
<text x="99.9" y="54.05" font-family="Liberation Serif" font-size="7" font-weight="bold" text-anchor="middle" fill="#111" stroke="#111" stroke-width="0.15" textLength="42.1" lengthAdjust="spacingAndGlyphs" transform="rotate(-90 99.9 54.05)">Intensity (a.u.)</text>
<text x="99.9" y="135.75" font-family="Liberation Serif" font-size="7" font-weight="bold" text-anchor="middle" fill="#111" stroke="#111" stroke-width="0.15" textLength="42.1" lengthAdjust="spacingAndGlyphs" transform="rotate(-90 99.9 135.75)">Intensity (a.u.)</text>
<text x="99.9" y="220" font-family="Liberation Serif" font-size="7" font-weight="bold" text-anchor="middle" fill="#111" stroke="#111" stroke-width="0.15" textLength="42.1" lengthAdjust="spacingAndGlyphs" transform="rotate(-90 99.9 220)">Intensity (a.u.)</text>
<rect x="216.5" y="14.4" width="71.6" height="48.6" fill="#fff" stroke="#333" stroke-width="1.2"/>
<line x1="217.7" y1="19.2" x2="232.5" y2="19.2" stroke="#ff2020" stroke-width="1.1"/>
<text x="233.8" y="21.6" font-family="Liberation Serif" font-size="7" text-anchor="start" fill="#222" stroke="#222" stroke-width="0.1" textLength="52.4" lengthAdjust="spacingAndGlyphs">N,S-Ag<tspan dy="1.54" font-size="4.76">3</tspan><tspan dy="-1.54">PO</tspan><tspan dy="1.54" font-size="4.76">4</tspan><tspan dy="-1.54">@ACB</tspan></text>
<g fill="#000"><circle cx="219.8" cy="29.19" r="0.81"/><circle cx="218.9" cy="30.27" r="0.81"/><circle cx="220.7" cy="30.27" r="0.81"/><path d="M219.35 31.71 L219.8 29.82 L220.25 31.71Z"/></g>
<text x="224.6" y="32.3" font-family="Liberation Serif" font-size="7" text-anchor="start" fill="#222" stroke="#222" stroke-width="0.1" textLength="59.9" lengthAdjust="spacingAndGlyphs">Ag<tspan dy="1.54" font-size="4.76">3</tspan><tspan dy="-1.54">PO</tspan><tspan dy="1.54" font-size="4.76">4</tspan><tspan dy="-1.54"> (NO.06-0505)</tspan></text>
<path d="M220.35 38.7 L221.75 40.45 L220.35 42.2 L218.95 40.45Z" fill="#000"/>
<text x="222.9" y="42.4" font-family="Liberation Serif" font-size="7" text-anchor="start" fill="#222" stroke="#222" stroke-width="0.1" textLength="64.9" lengthAdjust="spacingAndGlyphs">Ag<tspan dy="1.54" font-size="4.76">2</tspan><tspan dy="-1.54">S (syn, NO.14-0072)</tspan></text>
<path d="M220.4 51.95 L218.75 50.13 A0.82 0.82 0 0 1 220.4 49.39 A0.82 0.82 0 0 1 222.05 50.13Z" fill="#000"/>
<text x="222.9" y="52.7" font-family="Liberation Serif" font-size="7" text-anchor="start" fill="#222" stroke="#222" stroke-width="0.1" textLength="58.9" lengthAdjust="spacingAndGlyphs">Ag (syn, NO.04-0783)</text>
<rect x="217.4" y="54.7" width="15.3" height="6.9" fill="#44f030" stroke="none" stroke-width="0"/>
<text x="234.2" y="60.4" font-family="Liberation Serif" font-size="7" text-anchor="start" fill="#222" stroke="#222" stroke-width="0.1" textLength="53.3" lengthAdjust="spacingAndGlyphs">JCPDS NO.14-0072</text>
<rect x="227.3" y="99.4" width="60.3" height="10.1" fill="#fff" stroke="#2a2a2a" stroke-width="1.0"/>
<line x1="228.1" y1="103.2" x2="243.2" y2="103.2" stroke="#3535f2" stroke-width="1.1"/>
<text x="246.8" y="106" font-family="Liberation Serif" font-size="7" text-anchor="start" fill="#222" stroke="#222" stroke-width="0.1" textLength="39.9" lengthAdjust="spacingAndGlyphs">Ag<tspan dy="1.54" font-size="4.76">3</tspan><tspan dy="-1.54">PO</tspan><tspan dy="1.54" font-size="4.76">4</tspan><tspan dy="-1.54">@ACB</tspan></text>
<rect x="216.3" y="183.8" width="71.5" height="18.6" fill="#fff" stroke="#2a2a2a" stroke-width="1.0"/>
<line x1="217.4" y1="188.2" x2="232.3" y2="188.2" stroke="#ff30ff" stroke-width="1.1"/>
<text x="233.8" y="190.7" font-family="Liberation Serif" font-size="7" text-anchor="start" fill="#222" stroke="#222" stroke-width="0.1" textLength="21.2" lengthAdjust="spacingAndGlyphs">Ag<tspan dy="1.54" font-size="4.76">3</tspan><tspan dy="-1.54">PO</tspan><tspan dy="1.54" font-size="4.76">4</tspan></text>
<rect x="217.4" y="194" width="15.1" height="7.4" fill="#f08828" stroke="none" stroke-width="0"/>
<text x="233.8" y="200.3" font-family="Liberation Serif" font-size="7" text-anchor="start" fill="#222" stroke="#222" stroke-width="0.1" textLength="53.7" lengthAdjust="spacingAndGlyphs">JCPDS NO.06-0505</text>
<line x1="187.6" y1="64.8" x2="191.2" y2="57.8" stroke="#ff44ff" stroke-width="0.7"/>
<line x1="201.6" y1="76.4" x2="203.4" y2="66.5" stroke="#ff44ff" stroke-width="0.7"/>
<line x1="207.9" y1="83.6" x2="211" y2="77.5" stroke="#ff44ff" stroke-width="0.7"/>
<line x1="212.2" y1="83" x2="218.6" y2="79.6" stroke="#ff44ff" stroke-width="0.7"/>
<g fill="#000"><circle cx="147" cy="81.89" r="0.81"/><circle cx="146.1" cy="82.97" r="0.81"/><circle cx="147.9" cy="82.97" r="0.81"/><path d="M146.55 84.41 L147 82.52 L147.45 84.41Z"/></g>
<text x="147" y="80.7" font-family="Liberation Serif" font-size="6" text-anchor="start" fill="#222" stroke="#222" stroke-width="0.05" transform="rotate(-90 147 80.7)" dominant-baseline="central">(110)</text>
<path d="M159.3 75.95 L160.7 77.7 L159.3 79.45 L157.9 77.7Z" fill="#000"/>
<text x="159.3" y="75.7" font-family="Liberation Serif" font-size="6" text-anchor="start" fill="#222" stroke="#222" stroke-width="0.05" transform="rotate(-90 159.3 75.7)" dominant-baseline="central">(-111)</text>
<path d="M166.5 63.95 L167.9 65.7 L166.5 67.45 L165.1 65.7Z" fill="#000"/>
<text x="166.5" y="63.7" font-family="Liberation Serif" font-size="6" text-anchor="start" fill="#222" stroke="#222" stroke-width="0.05" transform="rotate(-90 166.5 63.7)" dominant-baseline="central">(111)</text>
<g fill="#000"><circle cx="170.4" cy="79.55" r="0.65"/><circle cx="169.68" cy="80.42" r="0.65"/><circle cx="171.12" cy="80.42" r="0.65"/><path d="M170.04 81.57 L170.4 80.06 L170.76 81.57Z"/></g>
<text x="170.4" y="78.2" font-family="Liberation Serif" font-size="4.8" text-anchor="start" fill="#222" stroke="#222" stroke-width="0.05" transform="rotate(-90 170.4 78.2)" dominant-baseline="central">(200)</text>
<path d="M172.5 59.45 L173.9 61.2 L172.5 62.95 L171.1 61.2Z" fill="#000"/>
<text x="172.5" y="59.2" font-family="Liberation Serif" font-size="6" text-anchor="start" fill="#222" stroke="#222" stroke-width="0.05" transform="rotate(-90 172.5 59.2)" dominant-baseline="central">(-112)</text>
<g fill="#000"><circle cx="176.8" cy="31.89" r="0.81"/><circle cx="175.9" cy="32.97" r="0.81"/><circle cx="177.7" cy="32.97" r="0.81"/><path d="M176.35 34.41 L176.8 32.52 L177.25 34.41Z"/></g>
<text x="176.8" y="30.7" font-family="Liberation Serif" font-size="6" text-anchor="start" fill="#222" stroke="#222" stroke-width="0.05" transform="rotate(-90 176.8 30.7)" dominant-baseline="central">(210)</text>
<path d="M180.2 50.25 L181.6 52 L180.2 53.75 L178.8 52Z" fill="#000"/>
<text x="180.2" y="50" font-family="Liberation Serif" font-size="6" text-anchor="start" fill="#222" stroke="#222" stroke-width="0.05" transform="rotate(-90 180.2 50)" dominant-baseline="central">(-121)</text>
<g fill="#000"><circle cx="185.5" cy="59.89" r="0.81"/><circle cx="184.6" cy="60.97" r="0.81"/><circle cx="186.4" cy="60.97" r="0.81"/><path d="M185.05 62.41 L185.5 60.52 L185.95 62.41Z"/></g>
<text x="185.5" y="58.7" font-family="Liberation Serif" font-size="6" text-anchor="start" fill="#222" stroke="#222" stroke-width="0.05" transform="rotate(-90 185.5 58.7)" dominant-baseline="central">(211)</text>
<path d="M192.7 55.15 L194.1 56.9 L192.7 58.65 L191.3 56.9Z" fill="#000"/>
<text x="192.7" y="54.9" font-family="Liberation Serif" font-size="6" text-anchor="start" fill="#222" stroke="#222" stroke-width="0.05" transform="rotate(-90 192.7 54.9)" dominant-baseline="central">(031)</text>
<path d="M195 70.35 L196.4 72.1 L195 73.85 L193.6 72.1Z" fill="#000"/>
<text x="195" y="70.1" font-family="Liberation Serif" font-size="6" text-anchor="start" fill="#222" stroke="#222" stroke-width="0.05" transform="rotate(-90 195 70.1)" dominant-baseline="central">(200)</text>
<path d="M204.2 66.95 L202.55 65.13 A0.82 0.82 0 0 1 204.2 64.39 A0.82 0.82 0 0 1 205.85 65.13Z" fill="#000"/>
<text x="204.2" y="63.3" font-family="Liberation Serif" font-size="6" text-anchor="start" fill="#222" stroke="#222" stroke-width="0.05" transform="rotate(-90 204.2 63.3)" dominant-baseline="central">(200)</text>
<path d="M212.2 74.75 L213.6 76.5 L212.2 78.25 L210.8 76.5Z" fill="#000"/>
<text x="212.2" y="74.5" font-family="Liberation Serif" font-size="6" text-anchor="start" fill="#222" stroke="#222" stroke-width="0.05" transform="rotate(-90 212.2 74.5)" dominant-baseline="central">(-123)</text>
<g fill="#000"><circle cx="220.2" cy="78.39" r="0.81"/><circle cx="219.3" cy="79.47" r="0.81"/><circle cx="221.1" cy="79.47" r="0.81"/><path d="M219.75 80.91 L220.2 79.02 L220.65 80.91Z"/></g>
<text x="220.2" y="77.2" font-family="Liberation Serif" font-size="6" text-anchor="start" fill="#222" stroke="#222" stroke-width="0.05" transform="rotate(-90 220.2 77.2)" dominant-baseline="central">(310)</text>
<g fill="#000"><circle cx="229.4" cy="80.09" r="0.81"/><circle cx="228.5" cy="81.17" r="0.81"/><circle cx="230.3" cy="81.17" r="0.81"/><path d="M228.95 82.61 L229.4 80.72 L229.85 82.61Z"/></g>
<text x="229.4" y="78.9" font-family="Liberation Serif" font-size="6" text-anchor="start" fill="#222" stroke="#222" stroke-width="0.05" transform="rotate(-90 229.4 78.9)" dominant-baseline="central">(320)</text>
<g fill="#000"><circle cx="236.1" cy="82.59" r="0.81"/><circle cx="235.2" cy="83.67" r="0.81"/><circle cx="237" cy="83.67" r="0.81"/><path d="M235.65 85.11 L236.1 83.22 L236.55 85.11Z"/></g>
<text x="236.1" y="81.4" font-family="Liberation Serif" font-size="6" text-anchor="start" fill="#222" stroke="#222" stroke-width="0.05" transform="rotate(-90 236.1 81.4)" dominant-baseline="central">(321)</text>
<path d="M245.9 83.15 L247.3 84.9 L245.9 86.65 L244.5 84.9Z" fill="#000"/>
<text x="245.9" y="82.9" font-family="Liberation Serif" font-size="6" text-anchor="start" fill="#222" stroke="#222" stroke-width="0.05" transform="rotate(-90 245.9 82.9)" dominant-baseline="central">(004)</text>
<path d="M253.9 87.85 L252.25 86.03 A0.82 0.82 0 0 1 253.9 85.29 A0.82 0.82 0 0 1 255.55 86.03Z" fill="#000"/>
<text x="253.9" y="84.2" font-family="Liberation Serif" font-size="6" text-anchor="start" fill="#222" stroke="#222" stroke-width="0.05" transform="rotate(-90 253.9 84.2)" dominant-baseline="central">(220)</text>
<g fill="#000"><circle cx="270.7" cy="83.59" r="0.81"/><circle cx="269.8" cy="84.67" r="0.81"/><circle cx="271.6" cy="84.67" r="0.81"/><path d="M270.25 86.11 L270.7 84.22 L271.15 86.11Z"/></g>
<text x="270.7" y="82.4" font-family="Liberation Serif" font-size="6" text-anchor="start" fill="#222" stroke="#222" stroke-width="0.05" transform="rotate(-90 270.7 82.4)" dominant-baseline="central">(421)</text>
<path d="M188.5 165.35 L186.85 163.53 A0.82 0.82 0 0 1 188.5 162.79 A0.82 0.82 0 0 1 190.15 163.53Z" fill="#000"/>
<text x="188.5" y="161.7" font-family="Liberation Serif" font-size="6" text-anchor="start" fill="#222" stroke="#222" stroke-width="0.05" transform="rotate(-90 188.5 161.7)" dominant-baseline="central">(111)</text>
<path d="M204 174.55 L202.35 172.73 A0.82 0.82 0 0 1 204 171.99 A0.82 0.82 0 0 1 205.65 172.73Z" fill="#000"/>
<text x="204" y="170.9" font-family="Liberation Serif" font-size="6" text-anchor="start" fill="#222" stroke="#222" stroke-width="0.05" transform="rotate(-90 204 170.9)" dominant-baseline="central">(200)</text>
<path d="M252 177.15 L250.35 175.34 A0.82 0.82 0 0 1 252 174.59 A0.82 0.82 0 0 1 253.65 175.34Z" fill="#000"/>
<text x="252" y="173.5" font-family="Liberation Serif" font-size="6" text-anchor="start" fill="#222" stroke="#222" stroke-width="0.05" transform="rotate(-90 252 173.5)" dominant-baseline="central">(220)</text>
<text x="146.7" y="252" font-family="Liberation Serif" font-size="6" text-anchor="start" fill="#222" stroke="#222" stroke-width="0.05" transform="rotate(-90 146.7 252)" dominant-baseline="central">(110)</text>
<text x="166.8" y="250.2" font-family="Liberation Serif" font-size="6" text-anchor="start" fill="#222" stroke="#222" stroke-width="0.05" transform="rotate(-90 166.8 250.2)" dominant-baseline="central">(200)</text>
<text x="176.6" y="194.2" font-family="Liberation Serif" font-size="6" text-anchor="start" fill="#222" stroke="#222" stroke-width="0.05" transform="rotate(-90 176.6 194.2)" dominant-baseline="central">(210)</text>
<text x="185.3" y="236" font-family="Liberation Serif" font-size="6" text-anchor="start" fill="#222" stroke="#222" stroke-width="0.05" transform="rotate(-90 185.3 236)" dominant-baseline="central">(211)</text>
<text x="200" y="257.3" font-family="Liberation Serif" font-size="6" text-anchor="start" fill="#222" stroke="#222" stroke-width="0.05" transform="rotate(-90 200 257.3)" dominant-baseline="central">(220)</text>
<text x="211.9" y="251" font-family="Liberation Serif" font-size="6" text-anchor="start" fill="#222" stroke="#222" stroke-width="0.05" transform="rotate(-90 211.9 251)" dominant-baseline="central">(310)</text>
<text x="222.5" y="246.6" font-family="Liberation Serif" font-size="6" text-anchor="start" fill="#222" stroke="#222" stroke-width="0.05" transform="rotate(-90 222.5 246.6)" dominant-baseline="central">(222)</text>
<text x="228.7" y="244" font-family="Liberation Serif" font-size="6" text-anchor="start" fill="#222" stroke="#222" stroke-width="0.05" transform="rotate(-90 228.7 244)" dominant-baseline="central">(320)</text>
<text x="235.5" y="245.7" font-family="Liberation Serif" font-size="6" text-anchor="start" fill="#222" stroke="#222" stroke-width="0.05" transform="rotate(-90 235.5 245.7)" dominant-baseline="central">(321)</text>
<text x="245.3" y="252.8" font-family="Liberation Serif" font-size="6" text-anchor="start" fill="#222" stroke="#222" stroke-width="0.05" transform="rotate(-90 245.3 252.8)" dominant-baseline="central">(400)</text>
<text x="255.7" y="257.3" font-family="Liberation Serif" font-size="6" text-anchor="start" fill="#222" stroke="#222" stroke-width="0.05" transform="rotate(-90 255.7 257.3)" dominant-baseline="central">(330)</text>
<text x="263.4" y="255.5" font-family="Liberation Serif" font-size="6" text-anchor="start" fill="#222" stroke="#222" stroke-width="0.05" transform="rotate(-90 263.4 255.5)" dominant-baseline="central">(420)</text>
<text x="270.5" y="249.3" font-family="Liberation Serif" font-size="6" text-anchor="start" fill="#222" stroke="#222" stroke-width="0.05" transform="rotate(-90 270.5 249.3)" dominant-baseline="central">(421)</text>
<text x="277.1" y="257.3" font-family="Liberation Serif" font-size="6" text-anchor="start" fill="#222" stroke="#222" stroke-width="0.05" transform="rotate(-90 277.1 257.3)" dominant-baseline="central">(332)</text>
<text x="284.7" y="257.3" font-family="Liberation Serif" font-size="6" text-anchor="start" fill="#222" stroke="#222" stroke-width="0.05" transform="rotate(-90 284.7 257.3)" dominant-baseline="central">(422)</text>
<path d="M327.6 61.67 L328 61.69 L328.41 61.71 L328.81 61.74 L329.22 61.82 L329.62 61.9 L330.03 61.97 L330.43 61.86 L330.84 61.75 L331.24 61.65 L331.65 61.66 L332.05 61.67 L332.46 61.67 L332.86 61.69 L333.27 61.71 L333.67 61.7 L334.07 61.6 L334.48 61.51 L334.88 61.44 L335.29 61.52 L335.69 61.59 L336.1 61.65 L336.5 61.68 L336.91 61.7 L337.31 61.73 L337.72 61.77 L338.12 61.8 L338.53 61.78 L338.93 61.61 L339.33 61.44 L339.74 61.35 L340.14 61.4 L340.55 61.44 L340.95 61.45 L341.36 61.4 L341.76 61.35 L342.17 61.39 L342.57 61.56 L342.98 61.73 L343.38 61.81 L343.79 61.78 L344.19 61.75 L344.6 61.66 L345 61.51 L345.41 61.35 L345.81 61.4 L346.22 61.62 L346.62 61.84 L347.03 61.94 L347.43 61.94 L347.84 61.94 L348.24 61.9 L348.65 61.83 L349.05 61.77 L349.46 61.74 L349.86 61.74 L350.27 61.74 L350.68 61.67 L351.08 61.57 L351.49 61.47 L351.89 61.42 L352.3 61.4 L352.7 61.38 L353.11 61.47 L353.51 61.61 L353.92 61.74 L354.32 61.69 L354.73 61.59 L355.14 61.5 L355.54 61.52 L355.95 61.57 L356.35 61.61 L356.76 61.64 L357.16 61.67 L357.57 61.7 L357.97 61.68 L358.38 61.64 L358.78 61.61 L359.19 61.73 L359.59 61.85 L360 61.97 L360.4 62 L360.8 62.03 L361.2 62.07 L361.6 62.22 L362 62.38 L362.4 62.54 L362.8 62.55 L363.2 62.56 L363.6 62.58 L364 62.71 L364.4 62.85 L364.8 62.99 L365.2 63.07 L365.6 63.15 L366 63.24 L366.4 63.41 L366.8 63.57 L367.2 63.74 L367.6 63.82 L368 63.9 L368.4 63.98 L368.8 64.06 L369.2 64.14 L369.6 64.22 L370 64.51 L370.42 64.82 L370.84 65.13 L371.25 65.29 L371.67 65.47 L372.09 65.64 L372.51 65.8 L372.93 65.95 L373.35 66.12 L373.76 66.29 L374.18 66.46 L374.6 66.59 L375.02 66.68 L375.44 66.77 L375.85 66.89 L376.27 67.04 L376.69 67.16 L377.11 67.3 L377.53 67.42 L377.95 67.53 L378.36 67.55 L378.78 67.54 L379.2 67.5 L379.6 67.65 L380 67.79 L380.4 67.9 L380.8 67.76 L381.2 67.6 L381.6 67.43 L382 67.44 L382.4 67.43 L382.8 67.42 L383.2 67.19 L383.6 66.95 L384 66.71 L384.4 66.71 L384.8 66.7 L385.2 66.69 L385.6 66.53 L386 66.37 L386.4 66.21 L386.8 65.88 L387.2 65.57 L387.6 65.25 L388 65.2 L388.4 65.15 L388.8 65.09 L389.2 65.15 L389.6 65.2 L390 65.25 L390.4 65.04 L390.8 64.82 L391.2 64.6 L391.6 64.6 L392 64.6 L392.4 64.61 L392.8 64.35 L393.2 64.1 L393.6 63.85 L394 63.65 L394.4 63.46 L394.8 63.28 L395.2 63.3 L395.6 63.32 L396 63.34 L396.4 63.27 L396.8 63.21 L397.2 63.15 L397.6 62.94 L398 62.73 L398.4 62.53 L398.8 62.41 L399.2 62.29 L399.6 62.18 L400 62.18 L400.4 62.18 L400.8 62.19 L401.2 62.29 L401.6 62.41 L402 62.52 L402.4 62.45 L402.8 62.38 L403.2 62.31 L403.6 62.14 L404 61.97 L404.4 61.79 L404.8 61.8 L405.2 61.81 L405.6 61.82 L406 61.77 L406.4 61.71 L406.8 61.66 L407.2 61.63 L407.6 61.6 L408 61.58 L408.4 61.73 L408.8 61.88 L409.2 62.04 L409.6 61.88 L410 61.72 L410.4 61.56 L410.8 61.63 L411.2 61.71 L411.6 61.79 L412 61.75 L412.4 61.71 L412.8 61.67 L413.2 61.6 L413.6 61.53 L414 61.46 L414.4 61.58 L414.8 61.69 L415.2 61.81 L415.6 61.66 L416 61.52 L416.4 61.37 L416.8 61.48 L417.2 61.6 L417.6 61.71 L418 61.59 L418.4 61.46 L418.8 61.33 L419.2 61.4 L419.6 61.47 L420 61.57 L420.43 61.59 L420.86 61.71 L421.29 61.88 L421.71 62.1 L422.14 62.3 L422.57 62.49 L423 62.65 L423.42 62.68 L423.83 62.54 L424.25 62.3 L424.67 62.06 L425.08 61.84 L425.5 61.7 L425.9 61.66 L426.3 61.75 L426.7 61.91 L427.1 62.08 L427.5 62.14 L427.9 62.15 L428.3 62.16 L428.7 62.23 L429.1 62.31 L429.5 62.35 L429.92 62.35 L430.33 62.27 L430.75 62.14 L431.17 61.93 L431.58 61.75 L432 61.66 L432.4 61.58 L432.8 61.5 L433.21 61.43 L433.61 61.54 L434.01 61.66 L434.41 61.76 L434.81 61.66 L435.22 61.55 L435.62 61.44 L436.02 61.45 L436.42 61.45 L436.82 61.46 L437.23 61.52 L437.63 61.59 L438.03 61.64 L438.43 61.58 L438.83 61.52 L439.24 61.46 L439.64 61.46 L440.04 61.45 L440.44 61.44 L440.84 61.41 L441.25 61.38 L441.65 61.35 L442.05 61.35 L442.45 61.35 L442.85 61.36 L443.26 61.43 L443.66 61.49 L444.06 61.54 L444.46 61.49 L444.86 61.45 L445.27 61.42 L445.67 61.46 L446.07 61.51 L446.47 61.54 L446.87 61.51 L447.28 61.48 L447.68 61.46 L448.08 61.47 L448.48 61.48 L448.88 61.5 L449.29 61.57 L449.69 61.64 L450.09 61.67 L450.49 61.61 L450.89 61.55 L451.3 61.5 L451.7 61.51 L452.1 61.53 L452.5 61.54 L452.9 61.58 L453.3 61.62 L453.71 61.63 L454.11 61.53 L454.51 61.44 L454.91 61.38 L455.31 61.37 L455.72 61.37 L456.12 61.39 L456.52 61.49 L456.92 61.6 L457.32 61.66 L457.73 61.65 L458.13 61.64 L458.53 61.6 L458.93 61.52 L459.33 61.45 L459.74 61.39 L460.14 61.38 L460.54 61.38 L460.94 61.4 L461.34 61.47 L461.75 61.54 L462.15 61.59 L462.55 61.62 L462.95 61.65 L463.35 61.62 L463.76 61.52 L464.16 61.42 L464.56 61.4 L464.96 61.5 L465.36 61.59 L465.77 61.65 L466.17 61.63 L466.57 61.62 L466.97 61.6 L467.37 61.56 L467.78 61.52 L468.18 61.48 L468.58 61.45 L468.98 61.43 L469.38 61.39 L469.79 61.34 L470.19 61.3 L470.59 61.26 L470.99 61.25 L471.39 61.24 L471.8 61.29 L472.2 61.41 L472.6 61.52 L473.3 59.96 L474 61.5 L474.5 61.47 L475 61.45 L475.4 61.45 L475.8 61.39 L476.2 61.33 L476.6 61.34 L477 61.42 L477.4 61.49 L477.8 61.51 L478.21 61.48 L478.61 61.45 L479.01 61.42 L479.41 61.38 L479.81 61.34 L480.21 61.31 L480.61 61.29 L481.01 61.28 L481.41 61.31 L481.81 61.38 L482.21 61.45 L482.61 61.44 L483.01 61.36 L483.41 61.27 L483.82 61.24 L484.22 61.26 L484.62 61.28 L485.02 61.32 L485.42 61.36 L485.82 61.4 L486.22 61.45 L486.62 61.49 L487.02 61.52 L487.42 61.53 L487.82 61.49 L488.22 61.46 L488.62 61.42 L489.02 61.38 L489.42 61.33 L489.83 61.36 L490.23 61.45 L490.63 61.53 L491.03 61.52 L491.43 61.42 L491.83 61.33 L492.23 61.27 L492.63 61.25 L493.03 61.22 L493.43 61.23 L493.83 61.26 L494.23 61.3 L494.63 61.33 L495.03 61.35 L495.43 61.37 L495.84 61.35 L496.24 61.3 L496.64 61.25 L497.04 61.24 L497.44 61.26 L497.84 61.27 L498.24 61.29 L498.64 61.32 L499.04 61.35 L499.44 61.37 L499.84 61.4 L500.24 61.43 L500.64 61.4 L501.04 61.35 L501.45 61.29 L501.85 61.28 L502.25 61.31 L502.65 61.35 L503.05 61.4 L503.45 61.47 L503.85 61.54 L504.25 61.58 L504.65 61.59 L505.05 61.6 L505.45 61.58 L505.85 61.54 L506.25 61.5 L506.65 61.48 L507.05 61.49 L507.46 61.49 L507.86 61.49 L508.26 61.47 L508.66 61.46 L509.06 61.42 L509.46 61.36 L509.86 61.3 L510.26 61.27 L510.66 61.26 L511.06 61.24 L511.46 61.24 L511.86 61.24 L512.26 61.24 L512.66 61.32 L513.07 61.44 L513.47 61.56 L513.87 61.58 L514.27 61.55 L514.67 61.52 L515.07 61.54 L515.47 61.57 L515.87 61.61 L516.27 61.54 L516.67 61.41 L517.07 61.29 L517.47 61.31 L517.87 61.39 L518.27 61.47 L518.67 61.48 L519.08 61.47 L519.48 61.45 L519.88 61.46 L520.28 61.5 L520.68 61.53 L521.08 61.51 L521.48 61.45 L521.88 61.4 L522.28 61.45 L522.68 61.54 L523.08 61.63 L523.48 61.57 L523.88 61.45 L524.28 61.33 L524.68 61.34 L525.09 61.4 L525.49 61.47 L525.89 61.5 L526.29 61.53 L526.69 61.56 L527.09 61.58 L527.49 61.61 L527.89 61.63 L528.29 61.62 L528.69 61.6 L529.09 61.58 L529.49 61.57 L529.89 61.57 L530.29 61.67 L530.7 61.69 L531.1 61.72 L531.5 61.75 L531.9 61.78 L532.3 61.82 L532.7 61.86 L533.1 61.75 L533.5 61.58 L533.91 61.48 L534.32 61.74 L534.73 62.15 L535.14 62.61 L535.56 63.07 L535.97 63.5 L536.38 63.87 L536.79 64.07 L537.2 64.14 L537.62 64.07 L538.04 63.79 L538.47 63.45 L538.89 63.12 L539.31 62.99 L539.73 62.88 L540.16 62.76 L540.58 62.64 L541 62.62 L541.41 62.58 L541.82 62.49 L542.23 62.4 L542.64 62.38 L543.04 62.39 L543.45 62.41 L543.86 62.37 L544.27 62.3 L544.68 62.23 L545.09 62.25 L545.5 62.31 L545.91 62.38 L546.32 62.4 L546.72 62.41 L547.13 62.42 L547.54 62.29 L547.95 62.13 L548.36 61.97 L548.77 62.12 L549.18 62.29 L549.59 62.46 L550 62.58 L550.4 62.69 L550.81 62.8 L551.22 62.77 L551.63 62.73 L552.04 62.7 L552.45 62.66 L552.86 62.62 L553.27 62.56 L553.68 62.46 L554.08 62.36 L554.49 62.31 L554.9 62.42 L555.31 62.52 L555.72 62.59 L556.13 62.54 L556.54 62.5 L556.95 62.45 L557.36 62.41 L557.76 62.37 L558.17 62.4 L558.58 62.52 L558.99 62.64 L559.4 62.59 L559.82 62.33 L560.24 62.25 L560.65 62.15 L561.07 62.08 L561.49 61.98 L561.91 61.81 L562.33 61.62 L562.75 61.44 L563.16 61.36 L563.58 61.32 L564 61.32 L564.42 61.3 L564.83 61.27 L565.25 61.25 L565.67 61.22 L566.08 61.2 L566.5 61.18 L566.92 61.21 L567.33 61.23 L567.75 61.24 L568.17 61.22 L568.58 61.21 L569 61.2 L569.43 61.24 L569.86 61.34 L570.29 61.49 L570.71 61.67 L571.14 61.88 L571.57 62.04 L572 62.2 L572.44 62.37 L572.88 62.62 L573.31 62.9 L573.75 63.22 L574.19 63.59 L574.62 63.98 L575.06 64.39 L575.5 64.8 L575.92 65.23 L576.35 65.65 L576.77 66.1 L577.19 66.57 L577.62 67.1 L578.04 67.64 L578.46 68.19 L578.88 68.78 L579.31 69.37 L579.73 69.91 L580.15 70.38 L580.58 70.82 L581 71.22 L581.41 71.6 L581.81 71.99 L582.22 72.42 L582.62 72.87 L583.03 73.32 L583.44 73.72 L583.84 74.09 L584.25 74.44 L584.66 74.8 L585.06 75.15 L585.47 75.47 L585.88 75.71 L586.28 75.89 L586.69 76.02 L587.09 76.12 L587.5 76.17 L587.91 76.15 L588.32 76.09 L588.73 75.99 L589.14 75.84 L589.55 75.64 L589.95 75.42 L590.36 75.17 L590.77 74.9 L591.18 74.62 L591.59 74.35 L592 74.04 L592.4 73.72 L592.8 73.34 L593.2 72.96 L593.6 72.54 L594 72.09 L594.4 71.59 L594.8 71.08 L595.2 70.57 L595.6 70.08 L596 69.61 L596.4 69.17 L596.8 68.8 L597.2 68.48 L597.6 68.22 L598 68.02 L598.41 67.86 L598.82 67.71 L599.24 67.54 L599.65 67.38 L600.06 67.23 L600.47 67.07 L600.88 66.92 L601.29 66.79 L601.71 66.68 L602.12 66.59 L602.53 66.48 L602.94 66.34 L603.35 66.21 L603.76 66.11 L604.18 66.04 L604.59 65.98 L605 65.94 L605.41 65.93 L605.83 65.91 L606.24 65.88 L606.66 65.84 L607.07 65.8 L607.49 65.76 L607.9 65.74 L608.31 65.71 L608.73 65.7 L609.14 65.7 L609.56 65.7 L609.97 65.7 L610.39 65.71 L610.8 65.73 L611.21 65.72 L611.61 65.71 L612.02 65.7 L612.43 65.69 L612.83 65.68 L613.24 65.68 L613.65 65.72 L614.05 65.75 L614.46 65.79 L614.87 65.81 L615.27 65.82 L615.68 65.83 L616.08 65.8 L616.49 65.77 L616.9 65.75 L617.3 65.73 L617.71 65.72 L618.12 65.71 L618.52 65.71 L618.93 65.72 L619.34 65.75 L619.74 65.82 L620.15 65.89 L620.56 65.92 L620.96 65.88 L621.37 65.84 L621.78 65.85 L622.18 65.91 L622.59 65.97 L623 66.01 L623.4 66.02 L623.81 66.03 L624.22 66.04 L624.62 66.05 L625.03 66.05 L625.43 66.09 L625.84 66.15 L626.25 66.2 L626.65 66.21 L627.06 66.19 L627.47 66.16 L627.87 66.18 L628.28 66.22 L628.69 66.26 L629.09 66.31 L629.5 66.36 L629.91 66.46 L630.32 66.59 L630.73 66.75 L631.14 66.94 L631.56 67.2 L631.97 67.47 L632.38 67.7 L632.79 67.78 L633.2 67.79 L633.67 67.65 L634.13 67.39 L634.6 67.04 L635.07 66.66 L635.53 66.33 L636 66.11 L636.48 66.03 L636.96 65.97 L637.44 65.9 L637.92 65.8 L638.4 65.69" fill="none" stroke="#4478e8" stroke-width="1.35" stroke-linejoin="round"/>
<path d="M327.6 96.58 L328 96.62 L328.4 96.66 L328.8 96.7 L329.21 96.7 L329.61 96.7 L330.01 96.7 L330.41 96.6 L330.81 96.5 L331.21 96.39 L331.61 96.37 L332.01 96.34 L332.42 96.32 L332.82 96.4 L333.22 96.47 L333.62 96.54 L334.02 96.52 L334.42 96.5 L334.82 96.49 L335.23 96.6 L335.63 96.7 L336.03 96.8 L336.43 96.78 L336.83 96.76 L337.23 96.73 L337.63 96.72 L338.03 96.7 L338.44 96.68 L338.84 96.68 L339.24 96.67 L339.64 96.66 L340.04 96.68 L340.44 96.71 L340.84 96.71 L341.25 96.61 L341.65 96.51 L342.05 96.42 L342.45 96.48 L342.85 96.54 L343.25 96.59 L343.65 96.53 L344.05 96.48 L344.46 96.45 L344.86 96.6 L345.26 96.75 L345.66 96.86 L346.06 96.69 L346.46 96.52 L346.86 96.4 L347.27 96.56 L347.67 96.71 L348.07 96.81 L348.47 96.66 L348.87 96.52 L349.27 96.42 L349.67 96.54 L350.07 96.67 L350.48 96.75 L350.88 96.69 L351.28 96.62 L351.68 96.57 L352.08 96.58 L352.48 96.6 L352.88 96.63 L353.29 96.72 L353.69 96.81 L354.09 96.84 L354.49 96.68 L354.89 96.52 L355.29 96.39 L355.69 96.41 L356.09 96.42 L356.5 96.47 L356.9 96.64 L357.3 96.82 L357.7 96.93 L358.11 96.88 L358.51 96.88 L358.92 96.93 L359.32 97.02 L359.73 97.16 L360.13 97.48 L360.54 97.89 L360.94 98.32 L361.35 98.74 L361.76 99.09 L362.16 99.46 L362.57 99.8 L362.97 100.08 L363.38 100.37 L363.78 100.72 L364.19 101.15 L364.59 101.58 L365 101.95 L365.41 102.29 L365.82 102.67 L366.24 103.12 L366.65 103.61 L367.06 104.13 L367.47 104.67 L367.88 105.23 L368.29 105.79 L368.71 106.28 L369.12 106.74 L369.53 107.19 L369.94 107.75 L370.35 108.31 L370.76 108.84 L371.18 109.21 L371.59 109.53 L372 109.82 L372.41 110.2 L372.82 110.58 L373.23 110.98 L373.64 111.45 L374.05 111.93 L374.45 112.38 L374.86 112.7 L375.27 113.02 L375.68 113.34 L376.09 113.7 L376.5 114.04 L376.91 114.38 L377.32 114.71 L377.73 115.02 L378.14 115.29 L378.55 115.51 L378.95 115.7 L379.36 115.86 L379.77 115.98 L380.18 116.07 L380.59 116.11 L381 116.08 L381.4 116.03 L381.8 116.04 L382.2 116.12 L382.6 116.19 L383 116.22 L383.4 116.22 L383.8 116.21 L384.2 116.18 L384.6 116.12 L385 116.07 L385.4 115.98 L385.8 115.88 L386.2 115.76 L386.6 115.65 L387 115.53 L387.4 115.41 L387.8 115.3 L388.2 115.21 L388.6 115.12 L389 115.05 L389.4 115 L389.8 114.95 L390.2 114.87 L390.6 114.77 L391 114.67 L391.4 114.53 L391.8 114.35 L392.2 114.18 L392.6 114.05 L393 113.96 L393.4 113.88 L393.8 113.79 L394.2 113.71 L394.6 113.63 L395 113.56 L395.41 113.48 L395.81 113.4 L396.22 113.33 L396.62 113.26 L397.03 113.19 L397.43 113.08 L397.84 112.92 L398.24 112.76 L398.65 112.59 L399.05 112.41 L399.46 112.22 L399.86 112.14 L400.27 112.13 L400.67 112.1 L401.08 111.97 L401.48 111.79 L401.89 111.6 L402.29 111.46 L402.7 111.33 L403.1 111.21 L403.51 111.04 L403.91 110.85 L404.32 110.67 L404.72 110.54 L405.13 110.42 L405.53 110.3 L405.94 110.16 L406.34 110 L406.75 109.85 L407.16 109.74 L407.56 109.64 L407.97 109.54 L408.37 109.31 L408.78 109.06 L409.18 108.82 L409.59 108.71 L409.99 108.62 L410.4 108.52 L410.8 108.32 L411.21 108.11 L411.61 107.91 L412.02 107.82 L412.42 107.73 L412.83 107.63 L413.23 107.39 L413.64 107.14 L414.04 106.91 L414.45 106.78 L414.85 106.66 L415.26 106.53 L415.66 106.39 L416.07 106.24 L416.47 106.1 L416.88 105.99 L417.28 105.88 L417.69 105.74 L418.09 105.51 L418.5 105.28 L418.9 105.08 L419.3 104.99 L419.71 104.88 L420.11 104.75 L420.51 104.56 L420.91 104.36 L421.32 104.17 L421.72 104.01 L422.12 103.85 L422.52 103.69 L422.92 103.54 L423.33 103.39 L423.73 103.25 L424.13 103.13 L424.53 103.02 L424.93 102.86 L425.34 102.62 L425.74 102.37 L426.14 102.17 L426.54 102.06 L426.95 101.94 L427.35 101.76 L427.75 101.48 L428.15 101.2 L428.55 101 L428.96 100.93 L429.36 100.86 L429.76 100.72 L430.16 100.48 L430.57 100.25 L430.97 100.03 L431.37 99.85 L431.77 99.68 L432.17 99.55 L432.58 99.47 L432.98 99.41 L433.38 99.32 L433.78 99.21 L434.18 99.1 L434.59 98.94 L434.99 98.7 L435.39 98.46 L435.79 98.31 L436.2 98.24 L436.6 98.18 L437 98.14 L437.41 98.12 L437.83 98.1 L438.24 98 L438.65 97.85 L439.07 97.7 L439.48 97.58 L439.89 97.48 L440.3 97.38 L440.72 97.27 L441.13 97.15 L441.54 97.04 L441.96 96.96 L442.37 96.9 L442.78 96.83 L443.2 96.85 L443.61 96.87 L444.02 96.9 L444.43 96.91 L444.85 96.92 L445.26 96.93 L445.67 96.91 L446.09 96.9 L446.5 96.88 L446.9 96.82 L447.3 96.75 L447.7 96.69 L448.11 96.62 L448.51 96.56 L448.91 96.52 L449.31 96.56 L449.71 96.6 L450.11 96.65 L450.52 96.72 L450.92 96.78 L451.32 96.83 L451.72 96.83 L452.12 96.84 L452.52 96.84 L452.92 96.81 L453.33 96.79 L453.73 96.76 L454.13 96.7 L454.53 96.65 L454.93 96.63 L455.33 96.67 L455.73 96.71 L456.14 96.74 L456.54 96.73 L456.94 96.73 L457.34 96.73 L457.74 96.76 L458.14 96.78 L458.55 96.78 L458.95 96.73 L459.35 96.68 L459.75 96.69 L460.15 96.78 L460.55 96.88 L460.95 96.93 L461.36 96.93 L461.76 96.92 L462.16 96.88 L462.56 96.79 L462.96 96.69 L463.36 96.64 L463.77 96.66 L464.17 96.68 L464.57 96.73 L464.97 96.81 L465.37 96.88 L465.77 96.9 L466.17 96.82 L466.58 96.74 L466.98 96.74 L467.38 96.83 L467.78 96.92 L468.18 96.94 L468.58 96.89 L468.98 96.83 L469.39 96.81 L469.79 96.84 L470.19 96.86 L470.59 96.88 L470.99 96.88 L471.39 96.88 L471.8 96.85 L472.2 96.78 L472.6 96.72 L473 96.69 L473.5 95.5 L474 96.81 L474.4 96.81 L474.8 96.81 L475.2 96.8 L475.6 96.86 L476 96.92 L476.4 96.97 L476.8 96.97 L477.2 96.97 L477.6 96.98 L478 96.9 L478.4 96.83 L478.8 96.75 L479.2 96.85 L479.6 96.95 L480 97.05 L480.4 96.99 L480.8 96.92 L481.2 96.86 L481.6 96.84 L482 96.81 L482.4 96.79 L482.8 96.81 L483.2 96.84 L483.6 96.86 L484 96.93 L484.4 97.01 L484.8 97.08 L485.2 97.02 L485.6 96.96 L486 96.91 L486.4 96.91 L486.8 96.92 L487.2 96.93 L487.6 96.97 L488 97.01 L488.4 97.04 L488.8 97.05 L489.2 97.05 L489.6 97.06 L490 97.03 L490.4 97 L490.8 96.97 L491.2 96.93 L491.6 96.88 L492 96.83 L492.4 96.85 L492.8 96.88 L493.2 96.9 L493.6 96.94 L494 96.98 L494.4 97.02 L494.8 97 L495.2 96.99 L495.6 96.97 L496 96.94 L496.4 96.91 L496.8 96.88 L497.2 96.85 L497.6 96.82 L498 96.79 L498.4 96.79 L498.8 96.79 L499.2 96.79 L499.6 96.84 L500 96.89 L500.4 96.93 L500.8 96.91 L501.2 96.88 L501.6 96.86 L502 96.79 L502.4 96.71 L502.8 96.64 L503.2 96.73 L503.6 96.82 L504 96.91 L504.4 96.94 L504.8 96.96 L505.2 96.99 L505.6 96.97 L506 96.96 L506.4 96.94 L506.8 96.95 L507.2 96.96 L507.6 96.98 L508 96.98 L508.4 96.98 L508.8 96.98 L509.2 96.93 L509.6 96.88 L510 96.83 L510.4 96.86 L510.8 96.89 L511.2 96.93 L511.6 96.87 L512 96.81 L512.4 96.76 L512.8 96.72 L513.2 96.68 L513.6 96.64 L514 96.68 L514.4 96.71 L514.8 96.74 L515.2 96.74 L515.6 96.73 L516 96.73 L516.4 96.81 L516.8 96.89 L517.2 96.97 L517.6 96.94 L518 96.91 L518.4 96.88 L518.8 96.86 L519.2 96.84 L519.6 96.82 L520 96.83 L520.41 96.84 L520.81 96.85 L521.22 96.78 L521.63 96.71 L522.04 96.66 L522.44 96.72 L522.85 96.78 L523.26 96.83 L523.66 96.86 L524.07 96.88 L524.48 96.9 L524.89 96.86 L525.29 96.83 L525.7 96.8 L526.11 96.78 L526.51 96.77 L526.92 96.77 L527.33 96.8 L527.74 96.83 L528.14 96.85 L528.55 96.85 L528.96 96.85 L529.36 96.88 L529.77 96.94 L530.18 97.06 L530.59 97.06 L530.99 96.91 L531.4 96.76 L531.8 96.76 L532.2 96.96 L532.6 97.26 L533 97.69 L533.4 98.21 L533.8 98.77 L534.2 99.37 L534.6 99.97 L535 100.54 L535.4 101 L535.8 101.33 L536.2 101.55 L536.6 101.62 L537.02 101.5 L537.45 101.23 L537.88 100.93 L538.3 100.62 L538.73 100.29 L539.15 99.76 L539.58 99.26 L540 98.88 L540.4 98.66 L540.8 98.44 L541.2 98.23 L541.6 98.26 L542 98.29 L542.4 98.34 L542.8 98.24 L543.2 98.14 L543.6 98.06 L544 97.92 L544.4 97.79 L544.8 97.67 L545.2 97.78 L545.6 97.91 L546 98.05 L546.4 97.95 L546.81 97.86 L547.21 97.78 L547.61 97.77 L548.02 97.76 L548.42 97.75 L548.82 97.81 L549.23 97.87 L549.63 97.94 L550.03 98.17 L550.44 98.39 L550.84 98.57 L551.24 98.33 L551.65 98.09 L552.05 97.9 L552.45 98.05 L552.85 98.2 L553.26 98.33 L553.66 98.35 L554.06 98.36 L554.47 98.38 L554.87 98.39 L555.27 98.4 L555.68 98.43 L556.08 98.53 L556.48 98.62 L556.89 98.68 L557.29 98.64 L557.69 98.59 L558.1 98.6 L558.5 98.81 L558.91 99.01 L559.31 99.1 L559.72 98.92 L560.12 98.73 L560.53 98.58 L560.94 98.55 L561.34 98.51 L561.75 98.38 L562.16 98.11 L562.56 97.84 L562.97 97.67 L563.38 97.66 L563.78 97.65 L564.19 97.63 L564.59 97.6 L565 97.57 L565.42 97.58 L565.83 97.59 L566.25 97.6 L566.67 97.45 L567.08 97.2 L567.5 96.96 L567.92 96.9 L568.33 96.91 L568.75 96.92 L569.17 96.99 L569.58 97.07 L570 97.15 L570.42 97.1 L570.83 97.07 L571.25 97.01 L571.67 96.8 L572.08 96.6 L572.5 96.48 L572.91 96.58 L573.32 96.7 L573.74 96.82 L574.15 96.94 L574.56 97.07 L574.97 97.14 L575.38 97.07 L575.79 97.15 L576.21 97.27 L576.62 97.42 L577.03 97.6 L577.44 97.77 L577.85 97.95 L578.26 98.15 L578.68 98.38 L579.09 98.62 L579.5 98.89 L579.94 99.41 L580.38 100.41 L580.81 101.79 L581.25 103.49 L581.69 105.37 L582.12 107.32 L582.56 109.21 L583 110.98 L583.43 112.77 L583.86 114.78 L584.29 116.88 L584.71 118.93 L585.14 120.85 L585.57 122.55 L586 123.98 L586.42 125.21 L586.83 126.46 L587.25 127.58 L587.67 128.51 L588.08 129.14 L588.5 129.37 L588.91 129.34 L589.33 129.25 L589.74 129.11 L590.15 128.94 L590.56 128.72 L590.97 128.49 L591.39 128.23 L591.8 127.96 L592.25 127.48 L592.7 126.71 L593.15 125.68 L593.6 124.49 L594.05 123.22 L594.5 121.93 L594.92 120.57 L595.33 118.95 L595.75 117.26 L596.17 115.59 L596.58 114.06 L597 112.81 L597.44 111.71 L597.88 110.67 L598.32 109.69 L598.76 108.76 L599.2 107.85 L599.64 107.04 L600.08 106.35 L600.52 105.83 L600.96 105.5 L601.4 105.39 L601.82 105.43 L602.24 105.48 L602.66 105.51 L603.08 105.54 L603.5 105.58 L603.96 105.73 L604.42 106.06 L604.88 106.45 L605.34 106.8 L605.8 106.93 L606.2 106.89 L606.6 106.79 L607 106.61 L607.4 106.36 L607.8 106.06 L608.2 105.73 L608.6 105.39 L609 105.04 L609.4 104.71 L609.8 104.43 L610.2 104.23 L610.6 104.1 L611 104.04 L611.4 104.02 L611.8 104 L612.2 104.01 L612.6 104.04 L613 104.07 L613.4 104.09 L613.8 104.09 L614.2 104.1 L614.6 104.13 L615 104.18 L615.4 104.23 L615.8 104.28 L616.2 104.33 L616.6 104.38 L617 104.44 L617.4 104.5 L617.8 104.57 L618.2 104.64 L618.6 104.71 L619 104.79 L619.4 104.88 L619.8 104.99 L620.2 105.1 L620.6 105.18 L621 105.23 L621.4 105.28 L621.8 105.36 L622.2 105.46 L622.6 105.57 L623 105.68 L623.4 105.79 L623.8 105.91 L624.2 106.05 L624.6 106.21 L625 106.38 L625.4 106.51 L625.8 106.61 L626.2 106.71 L626.6 106.8 L627 106.91 L627.4 107.01 L627.8 107.16 L628.2 107.35 L628.6 107.54 L629.01 107.74 L629.43 107.97 L629.84 108.23 L630.26 108.53 L630.67 108.85 L631.09 109.2 L631.5 109.54 L631.96 110.07 L632.42 110.79 L632.88 111.58 L633.34 112.2 L633.8 112.43 L634.24 112.17 L634.68 111.53 L635.12 110.68 L635.56 109.77 L636 108.93 L636.44 108.21 L636.88 107.45 L637.32 106.65 L637.76 105.8 L638.2 104.97" fill="none" stroke="#ee3a3c" stroke-width="1.3" stroke-linejoin="round"/>
<path d="M327.6 144.81 L328 144.89 L328.4 144.89 L328.8 144.89 L329.2 144.91 L329.6 144.94 L330 144.97 L330.4 144.84 L330.8 144.71 L331.2 144.65 L331.61 144.65 L332.01 144.66 L332.41 144.65 L332.81 144.63 L333.21 144.63 L333.61 144.64 L334.01 144.66 L334.41 144.76 L334.81 144.86 L335.21 144.85 L335.61 144.73 L336.01 144.61 L336.41 144.69 L336.81 144.77 L337.21 144.78 L337.61 144.71 L338.01 144.65 L338.41 144.67 L338.82 144.68 L339.22 144.71 L339.62 144.73 L340.02 144.76 L340.42 144.84 L340.82 144.92 L341.22 144.94 L341.62 144.89 L342.02 144.84 L342.42 144.72 L342.82 144.6 L343.22 144.58 L343.62 144.63 L344.02 144.68 L344.42 144.65 L344.82 144.63 L345.22 144.7 L345.62 144.84 L346.03 144.97 L346.43 144.96 L346.83 144.95 L347.23 144.94 L347.63 144.94 L348.03 144.94 L348.43 144.95 L348.83 144.95 L349.23 144.94 L349.63 144.93 L350.03 144.91 L350.43 144.95 L350.83 145 L351.23 144.99 L351.63 144.96 L352.03 144.93 L352.43 144.82 L352.83 144.71 L353.24 144.74 L353.64 144.85 L354.04 144.96 L354.44 144.88 L354.84 144.81 L355.24 144.81 L355.64 144.87 L356.04 144.91 L356.44 144.87 L356.84 144.83 L357.24 144.8 L357.64 144.77 L358.04 144.75 L358.44 144.74 L358.84 144.72 L359.24 144.73 L359.64 144.74 L360.04 144.75 L360.45 144.72 L360.85 144.7 L361.25 144.67 L361.65 144.63 L362.05 144.61 L362.45 144.75 L362.85 144.89 L363.25 144.94 L363.65 144.94 L364.05 144.94 L364.45 144.98 L364.85 145.01 L365.25 144.99 L365.65 144.93 L366.05 144.88 L366.45 144.85 L366.85 144.82 L367.25 144.84 L367.66 144.87 L368.06 144.89 L368.46 144.77 L368.86 144.64 L369.26 144.67 L369.66 144.78 L370.06 144.86 L370.46 144.82 L370.86 144.77 L371.26 144.72 L371.66 144.67 L372.06 144.62 L372.46 144.63 L372.86 144.63 L373.26 144.68 L373.66 144.74 L374.06 144.78 L374.46 144.73 L374.87 144.68 L375.27 144.69 L375.67 144.73 L376.07 144.77 L376.47 144.8 L376.87 144.82 L377.27 144.81 L377.67 144.76 L378.07 144.72 L378.47 144.67 L378.87 144.61 L379.27 144.64 L379.67 144.72 L380.07 144.77 L380.47 144.72 L380.87 144.66 L381.27 144.65 L381.67 144.65 L382.08 144.65 L382.48 144.64 L382.88 144.63 L383.28 144.65 L383.68 144.69 L384.08 144.7 L384.48 144.64 L384.88 144.58 L385.28 144.65 L385.68 144.76 L386.08 144.87 L386.48 144.93 L386.88 144.99 L387.28 144.93 L387.68 144.81 L388.08 144.74 L388.48 144.8 L388.88 144.87 L389.29 144.92 L389.69 144.96 L390.09 144.96 L390.49 144.78 L390.89 144.6 L391.29 144.56 L391.69 144.58 L392.09 144.63 L392.49 144.76 L392.89 144.89 L393.29 144.93 L393.69 144.94 L394.09 144.94 L394.49 144.9 L394.89 144.86 L395.29 144.78 L395.69 144.68 L396.09 144.62 L396.5 144.67 L396.9 144.72 L397.3 144.8 L397.7 144.89 L398.1 144.96 L398.5 144.96 L398.9 144.97 L399.3 144.96 L399.7 144.94 L400.1 144.9 L400.5 144.78 L400.9 144.66 L401.3 144.72 L401.7 144.85 L402.1 144.93 L402.5 144.83 L402.9 144.73 L403.3 144.76 L403.7 144.83 L404.11 144.85 L404.51 144.73 L404.91 144.62 L405.31 144.72 L405.71 144.89 L406.11 144.99 L406.51 144.91 L406.91 144.84 L407.31 144.84 L407.71 144.87 L408.11 144.85 L408.51 144.75 L408.91 144.65 L409.31 144.69 L409.71 144.77 L410.11 144.83 L410.51 144.82 L410.91 144.81 L411.32 144.81 L411.72 144.81 L412.12 144.8 L412.52 144.76 L412.92 144.71 L413.32 144.76 L413.72 144.83 L414.12 144.86 L414.52 144.78 L414.92 144.7 L415.32 144.68 L415.72 144.67 L416.12 144.66 L416.52 144.63 L416.92 144.6 L417.32 144.68 L417.72 144.79 L418.12 144.82 L418.53 144.71 L418.93 144.59 L419.33 144.59 L419.73 144.61 L420.13 144.62 L420.53 144.59 L420.93 144.56 L421.33 144.64 L421.73 144.76 L422.13 144.83 L422.53 144.81 L422.93 144.79 L423.33 144.79 L423.73 144.79 L424.13 144.75 L424.53 144.65 L424.93 144.55 L425.33 144.6 L425.74 144.68 L426.14 144.72 L426.54 144.71 L426.94 144.69 L427.34 144.64 L427.74 144.59 L428.14 144.55 L428.54 144.53 L428.94 144.51 L429.34 144.68 L429.74 144.88 L430.14 144.95 L430.54 144.77 L430.94 144.59 L431.34 144.6 L431.74 144.63 L432.14 144.66 L432.54 144.65 L432.95 144.64 L433.35 144.7 L433.75 144.76 L434.15 144.77 L434.55 144.66 L434.95 144.56 L435.35 144.61 L435.75 144.69 L436.15 144.73 L436.55 144.71 L436.95 144.69 L437.35 144.77 L437.75 144.86 L438.15 144.86 L438.55 144.69 L438.95 144.52 L439.35 144.56 L439.75 144.63 L440.16 144.68 L440.56 144.71 L440.96 144.74 L441.36 144.83 L441.76 144.92 L442.16 144.95 L442.56 144.85 L442.96 144.76 L443.36 144.75 L443.76 144.74 L444.16 144.75 L444.56 144.79 L444.96 144.82 L445.36 144.76 L445.76 144.69 L446.16 144.62 L446.56 144.57 L446.96 144.51 L447.37 144.59 L447.77 144.69 L448.17 144.77 L448.57 144.86 L448.97 144.94 L449.37 144.91 L449.77 144.88 L450.17 144.82 L450.57 144.72 L450.97 144.62 L451.37 144.69 L451.77 144.78 L452.17 144.84 L452.57 144.87 L452.97 144.91 L453.37 144.8 L453.77 144.68 L454.17 144.64 L454.58 144.71 L454.98 144.77 L455.38 144.73 L455.78 144.68 L456.18 144.65 L456.58 144.62 L456.98 144.6 L457.38 144.61 L457.78 144.62 L458.18 144.61 L458.58 144.59 L458.98 144.58 L459.38 144.6 L459.78 144.63 L460.18 144.62 L460.58 144.56 L460.98 144.49 L461.38 144.56 L461.79 144.63 L462.19 144.64 L462.59 144.58 L462.99 144.51 L463.39 144.64 L463.79 144.77 L464.19 144.83 L464.59 144.8 L464.99 144.77 L465.39 144.65 L465.79 144.53 L466.19 144.54 L466.59 144.69 L466.99 144.84 L467.39 144.73 L467.79 144.61 L468.19 144.58 L468.59 144.64 L469 144.7 L469.4 144.71 L469.8 144.73 L470.2 144.71 L470.6 144.67 L471 144.62 L471.4 144.61 L471.8 144.6 L472.2 144.61 L472.6 144.64 L473.3 142.92 L474 145.42 L474.5 145.44 L475 145.38 L475.5 145.02 L476 144.68 L476.5 144.78 L476.9 144.92 L477.31 144.86 L477.71 144.74 L478.11 144.65 L478.51 144.67 L478.92 144.68 L479.32 144.7 L479.72 144.71 L480.13 144.7 L480.53 144.63 L480.93 144.55 L481.33 144.55 L481.74 144.57 L482.14 144.6 L482.54 144.64 L482.95 144.69 L483.35 144.7 L483.75 144.72 L484.16 144.76 L484.56 144.85 L484.96 144.93 L485.36 144.96 L485.77 144.98 L486.17 144.91 L486.57 144.72 L486.98 144.53 L487.38 144.61 L487.78 144.7 L488.18 144.72 L488.59 144.64 L488.99 144.55 L489.39 144.68 L489.8 144.82 L490.2 144.84 L490.6 144.74 L491 144.64 L491.41 144.76 L491.81 144.87 L492.21 144.89 L492.62 144.81 L493.02 144.74 L493.42 144.66 L493.83 144.57 L494.23 144.52 L494.63 144.49 L495.03 144.48 L495.44 144.52 L495.84 144.57 L496.24 144.67 L496.65 144.79 L497.05 144.88 L497.45 144.74 L497.85 144.59 L498.26 144.58 L498.66 144.65 L499.06 144.7 L499.47 144.68 L499.87 144.65 L500.27 144.64 L500.67 144.64 L501.08 144.65 L501.48 144.74 L501.88 144.83 L502.29 144.77 L502.69 144.65 L503.09 144.59 L503.5 144.69 L503.9 144.79 L504.3 144.81 L504.7 144.8 L505.11 144.8 L505.51 144.86 L505.91 144.91 L506.32 144.86 L506.72 144.77 L507.12 144.74 L507.52 144.82 L507.93 144.9 L508.33 144.83 L508.73 144.74 L509.14 144.68 L509.54 144.71 L509.94 144.73 L510.34 144.75 L510.75 144.76 L511.15 144.78 L511.55 144.82 L511.96 144.87 L512.36 144.88 L512.76 144.89 L513.17 144.83 L513.57 144.68 L513.97 144.52 L514.37 144.51 L514.78 144.52 L515.18 144.55 L515.58 144.63 L515.99 144.71 L516.39 144.77 L516.79 144.83 L517.19 144.83 L517.6 144.77 L518 144.72 L518.4 144.68 L518.8 144.65 L519.2 144.72 L519.6 144.9 L520 145.08 L520.4 144.91 L520.8 144.97 L521.2 145.04 L521.6 145.12 L522 145.2 L522.43 145.31 L522.86 145.46 L523.29 145.65 L523.71 145.86 L524.14 146.09 L524.57 146.34 L525 146.6 L525.43 146.89 L525.86 147.23 L526.29 147.6 L526.71 148 L527.14 148.41 L527.57 148.81 L528 149.2 L528.41 149.58 L528.82 150.01 L529.24 150.46 L529.65 150.93 L530.06 151.42 L530.47 151.91 L530.88 152.4 L531.29 152.89 L531.71 153.35 L532.12 153.79 L532.53 154.2 L532.94 154.56 L533.35 154.88 L533.76 155.14 L534.18 155.33 L534.59 155.46 L535 155.5 L535.42 155.43 L535.83 155.25 L536.25 154.96 L536.67 154.6 L537.08 154.17 L537.5 153.69 L537.92 153.2 L538.33 152.69 L538.75 152.2 L539.17 151.74 L539.58 151.34 L540 150.96 L540.42 150.54 L540.84 150.11 L541.26 149.93 L541.68 149.91 L542.1 149.77 L542.51 149.25 L542.93 148.74 L543.35 148.17 L543.77 147.6 L544.19 147.17 L544.61 146.91 L545.03 146.66 L545.45 146.55 L545.87 146.45 L546.29 146.32 L546.7 146.18 L547.12 146.16 L547.54 146.39 L547.96 146.66 L548.38 146.26 L548.8 145.84 L549.22 145.87 L549.64 146.33 L550.06 146.79 L550.48 147 L550.9 147.24 L551.32 147.3 L551.74 147.3 L552.16 147.54 L552.58 148.13 L553 148.69 L553.43 148.78 L553.85 148.89 L554.28 149.01 L554.71 149.12 L555.13 149.26 L555.56 149.42 L555.99 149.57 L556.41 149.96 L556.84 150.34 L557.27 150.79 L557.69 151.26 L558.12 151.56 L558.55 151.47 L558.97 151.34 L559.4 151.16 L559.8 150.84 L560.2 150.77 L560.6 150.28 L561 149.68 L561.4 149.03 L561.8 148.38 L562.2 147.77 L562.6 147.27 L563 146.94 L563.4 146.77 L563.8 146.61 L564.2 146.42 L564.6 146.2 L565 145.99 L565.4 145.9 L565.8 145.82 L566.2 145.7 L566.6 145.53 L567 145.38 L567.4 145.29 L567.8 145.21 L568.2 145.18 L568.6 145.19 L569 145.22 L569.4 145.2 L569.81 145.17 L570.21 145.19 L570.62 145.24 L571.02 145.28 L571.42 145.25 L571.83 145.22 L572.23 145.21 L572.63 145.22 L573.04 145.23 L573.44 145.26 L573.85 145.29 L574.25 145.27 L574.65 145.23 L575.06 145.2 L575.46 145.25 L575.87 145.3 L576.27 145.32 L576.67 145.33 L577.08 145.33 L577.48 145.33 L577.88 145.32 L578.29 145.36 L578.69 145.42 L579.1 145.45 L579.5 145.4 L579.9 145.55 L580.3 146.14 L580.7 147.02 L581.1 148.03 L581.5 149 L581.9 150.19 L582.3 151.85 L582.7 153.8 L583.1 155.91 L583.5 158 L583.92 160.36 L584.33 163.05 L584.75 165.94 L585.17 168.96 L585.58 172.02 L586 175 L586.43 178.07 L586.86 181.26 L587.29 184.42 L587.71 187.52 L588.14 190.52 L588.57 193.39 L589 196 L589.42 198.37 L589.83 200.68 L590.25 202.86 L590.67 204.83 L591.08 206.55 L591.5 207.98 L591.92 209.28 L592.35 210.44 L592.78 211.28 L593.2 211.62 L593.65 211.18 L594.1 209.93 L594.55 208.13 L595 206.05 L595.4 203.37 L595.8 199.52 L596.2 194.91 L596.6 189.92 L597 184.94 L597.5 177.4 L598 169.22 L598.5 163.98 L598.9 162.06 L599.3 160.46 L599.7 159.18 L600.1 158.21 L600.5 157.53 L600.95 156.91 L601.4 156.33 L601.85 155.91 L602.3 155.71 L602.71 155.67 L603.12 155.67 L603.54 155.78 L603.95 155.9 L604.36 155.98 L604.77 156.06 L605.18 156.15 L605.59 156.25 L606.01 156.35 L606.42 156.47 L606.83 156.6 L607.24 156.73 L607.65 156.85 L608.06 156.99 L608.48 157.14 L608.89 157.29 L609.3 157.44 L609.71 157.61 L610.11 157.82 L610.52 158.06 L610.93 158.33 L611.33 158.61 L611.74 158.91 L612.15 159.22 L612.55 159.56 L612.96 159.9 L613.37 160.28 L613.77 160.67 L614.18 161.01 L614.59 161.3 L614.99 161.57 L615.4 161.78 L615.84 161.98 L616.28 162.24 L616.72 162.53 L617.16 162.79 L617.6 163.01 L618.04 163.21 L618.48 163.4 L618.92 163.58 L619.36 163.77 L619.8 163.94 L620.2 164.08 L620.6 164.2 L621 164.31 L621.4 164.36 L621.8 164.4 L622.2 164.46 L622.6 164.57 L623 164.66 L623.4 164.7 L623.8 164.73 L624.2 164.78 L624.6 164.85 L625 164.92 L625.4 164.98 L625.8 165.05 L626.2 165.16 L626.6 165.3 L627 165.46 L627.4 165.55 L627.8 165.66 L628.2 165.82 L628.6 166.05 L629.08 166.47 L629.56 167.08 L630.04 167.9 L630.52 168.94 L631 170.03 L631.4 171.31 L631.8 173.04 L632.2 174.78 L632.6 176.11 L633 176.64 L633.4 176.18 L633.8 175.03 L634.2 173.43 L634.6 171.64 L635 169.92 L635.4 168.21 L635.8 166.27 L636.2 164.19 L636.6 162.05 L637 159.98 L637.47 157.69 L637.93 155.39 L638.4 153.06" fill="none" stroke="#111" stroke-width="1.15" stroke-linejoin="round"/>
<path d="M327.6 198.76 L328 199.04 L328.41 199.02 L328.81 198.99 L329.22 199.06 L329.62 199.2 L330.03 199.3 L330.44 198.98 L330.84 198.65 L331.25 198.52 L331.65 198.51 L332.06 198.54 L332.46 198.77 L332.87 199 L333.27 199.06 L333.68 199.02 L334.08 198.96 L334.49 198.78 L334.89 198.61 L335.3 198.7 L335.7 198.88 L336.11 198.98 L336.51 198.85 L336.92 198.71 L337.32 198.82 L337.73 199.01 L338.13 199.03 L338.54 198.71 L338.94 198.39 L339.35 198.39 L339.75 198.44 L340.16 198.59 L340.56 198.92 L340.97 199.25 L341.37 199.04 L341.78 198.78 L342.18 198.61 L342.59 198.56 L342.99 198.51 L343.4 198.77 L343.8 199.03 L344.2 199.12 L344.61 199.04 L345.01 198.95 L345.42 198.72 L345.82 198.48 L346.23 198.49 L346.63 198.69 L347.04 198.87 L347.44 198.92 L347.85 198.98 L348.25 198.84 L348.66 198.6 L349.06 198.44 L349.47 198.67 L349.88 198.91 L350.28 198.8 L350.69 198.55 L351.09 198.37 L351.5 198.47 L351.9 198.58 L352.31 198.51 L352.71 198.39 L353.12 198.32 L353.52 198.38 L353.93 198.43 L354.33 198.75 L354.74 199.13 L355.14 199.28 L355.55 199 L355.95 198.72 L356.36 198.93 L356.76 199.22 L357.17 199.28 L357.57 199.01 L357.98 198.74 L358.38 198.8 L358.79 198.89 L359.19 198.99 L359.6 199.12 L360 199.25 L360.4 199.17 L360.8 199.11 L361.2 198.98 L361.6 198.77 L362 198.89 L362.4 199.07 L362.8 199.26 L363.2 199.44 L363.6 199.59 L364 199.75 L364.4 199.84 L364.8 199.94 L365.2 200.07 L365.6 200.24 L366 200.42 L366.4 200.74 L366.8 201.06 L367.2 201.29 L367.6 201.43 L368 201.57 L368.4 201.72 L368.8 201.86 L369.2 202.04 L369.6 202.26 L370 202.48 L370.42 202.63 L370.84 202.81 L371.26 203.09 L371.68 203.44 L372.1 203.77 L372.52 203.99 L372.94 204.22 L373.36 204.44 L373.78 204.65 L374.2 204.95 L374.62 205.33 L375.04 205.68 L375.46 205.8 L375.88 205.89 L376.3 206.07 L376.72 206.27 L377.14 206.41 L377.56 206.47 L377.98 206.49 L378.4 206.63 L378.8 206.73 L379.2 206.7 L379.6 206.54 L380 206.35 L380.4 206.32 L380.8 206.26 L381.2 206.12 L381.6 205.9 L382 205.67 L382.4 205.55 L382.8 205.42 L383.2 205.27 L383.6 205.1 L384 204.92 L384.4 204.68 L384.8 204.44 L385.2 204.2 L385.6 203.97 L386 203.74 L386.4 203.53 L386.8 203.32 L387.2 203.11 L387.6 202.91 L388 202.72 L388.4 202.56 L388.8 202.43 L389.2 202.25 L389.6 202.03 L390 201.84 L390.4 201.79 L390.8 201.74 L391.21 201.64 L391.61 201.5 L392.01 201.35 L392.41 201.34 L392.81 201.33 L393.22 201.28 L393.62 201.18 L394.02 201.08 L394.42 200.83 L394.82 200.58 L395.23 200.42 L395.63 200.33 L396.03 200.24 L396.43 200.23 L396.83 200.22 L397.24 200.14 L397.64 200.02 L398.04 199.89 L398.44 199.71 L398.84 199.52 L399.25 199.47 L399.65 199.48 L400.05 199.5 L400.45 199.45 L400.86 199.4 L401.26 199.28 L401.66 199.12 L402.06 198.97 L402.46 198.89 L402.87 198.8 L403.27 198.75 L403.67 198.73 L404.07 198.7 L404.47 198.7 L404.88 198.71 L405.28 198.6 L405.68 198.45 L406.08 198.32 L406.48 198.28 L406.89 198.25 L407.29 198.21 L407.69 198.16 L408.09 198.14 L408.49 198.19 L408.9 198.25 L409.3 198.24 L409.7 198.21 L410.1 198.18 L410.5 198.14 L410.9 198.1 L411.3 198.11 L411.7 198.13 L412.1 198.12 L412.5 198.06 L412.91 198.01 L413.31 198.02 L413.71 198.07 L414.11 198.12 L414.51 198.23 L414.91 198.34 L415.31 198.31 L415.71 198.24 L416.11 198.18 L416.51 198.13 L416.91 198.08 L417.31 198.15 L417.71 198.25 L418.11 198.3 L418.51 198.21 L418.91 198.11 L419.32 198.08 L419.72 198.06 L420.12 198.03 L420.52 198 L420.92 197.96 L421.32 197.97 L421.72 197.99 L422.12 198 L422.52 198.01 L422.92 198.01 L423.32 198.02 L423.72 198.02 L424.12 198.06 L424.52 198.16 L424.92 198.26 L425.32 198.2 L425.73 198.1 L426.13 198.03 L426.53 198.03 L426.93 198.03 L427.33 198.07 L427.73 198.13 L428.13 198.18 L428.53 198.23 L428.93 198.28 L429.33 198.21 L429.73 198.11 L430.13 198.06 L430.53 198.14 L430.93 198.21 L431.33 198.17 L431.74 198.11 L432.14 198.08 L432.54 198.11 L432.94 198.14 L433.34 198.15 L433.74 198.15 L434.14 198.18 L434.54 198.23 L434.94 198.29 L435.34 198.27 L435.74 198.24 L436.14 198.21 L436.54 198.17 L436.94 198.13 L437.34 198.17 L437.74 198.22 L438.15 198.23 L438.55 198.15 L438.95 198.07 L439.35 198.06 L439.75 198.07 L440.15 198.1 L440.55 198.2 L440.95 198.29 L441.35 198.24 L441.75 198.17 L442.15 198.15 L442.55 198.18 L442.95 198.22 L443.35 198.16 L443.75 198.08 L444.15 198.08 L444.56 198.17 L444.96 198.27 L445.36 198.24 L445.76 198.19 L446.16 198.13 L446.56 198.07 L446.96 198.02 L447.36 198.11 L447.76 198.22 L448.16 198.25 L448.56 198.18 L448.96 198.1 L449.36 198.08 L449.76 198.06 L450.16 198.04 L450.56 198.02 L450.97 198.01 L451.37 197.99 L451.77 197.96 L452.17 197.95 L452.57 197.97 L452.97 197.98 L453.37 198.05 L453.77 198.13 L454.17 198.14 L454.57 198.05 L454.97 197.96 L455.37 197.97 L455.77 197.99 L456.17 198.01 L456.57 198.04 L456.98 198.07 L457.38 198.08 L457.78 198.1 L458.18 198.09 L458.58 198.07 L458.98 198.04 L459.38 198.1 L459.78 198.16 L460.18 198.16 L460.58 198.07 L460.98 197.98 L461.38 198 L461.78 198.01 L462.18 198.02 L462.58 198.03 L462.98 198.04 L463.39 197.99 L463.79 197.94 L464.19 197.92 L464.59 197.93 L464.99 197.95 L465.39 197.93 L465.79 197.92 L466.19 197.95 L466.59 198.04 L466.99 198.13 L467.39 198.04 L467.79 197.95 L468.19 197.94 L468.59 198.02 L468.99 198.1 L469.39 198.02 L469.8 197.95 L470.2 197.94 L470.6 198.01 L471 198.07 L471.4 198.07 L471.8 198.07 L472.2 198.04 L472.6 197.99 L473.3 196.41 L474 198.77 L474.5 198.52 L475 198.26 L475.4 198.25 L475.8 198.23 L476.2 198.18 L476.6 198.1 L477 198.02 L477.4 198.08 L477.8 198.13 L478.2 198.15 L478.6 198.13 L479 198.11 L479.4 198.14 L479.8 198.17 L480.2 198.23 L480.6 198.3 L481 198.37 L481.4 198.36 L481.8 198.35 L482.2 198.28 L482.6 198.15 L483 198.03 L483.4 198.12 L483.8 198.22 L484.2 198.29 L484.6 198.33 L485 198.37 L485.4 198.31 L485.8 198.25 L486.2 198.18 L486.6 198.11 L487 198.04 L487.4 198.16 L487.8 198.29 L488.2 198.31 L488.6 198.24 L489 198.17 L489.4 198.26 L489.8 198.35 L490.2 198.39 L490.6 198.37 L491 198.35 L491.4 198.35 L491.8 198.34 L492.2 198.34 L492.6 198.36 L493 198.38 L493.4 198.24 L493.8 198.1 L494.2 198.09 L494.6 198.21 L495 198.32 L495.4 198.24 L495.8 198.17 L496.2 198.11 L496.6 198.09 L497 198.06 L497.4 198.1 L497.8 198.14 L498.2 198.18 L498.6 198.21 L499 198.24 L499.4 198.15 L499.8 198.06 L500.2 198.05 L500.6 198.12 L501 198.19 L501.4 198.24 L501.8 198.3 L502.2 198.3 L502.6 198.26 L503 198.21 L503.4 198.22 L503.8 198.22 L504.2 198.21 L504.6 198.17 L505 198.13 L505.4 198.24 L505.8 198.35 L506.2 198.35 L506.6 198.23 L507 198.12 L507.4 198.19 L507.8 198.26 L508.2 198.29 L508.6 198.29 L509 198.28 L509.4 198.18 L509.8 198.08 L510.2 198.1 L510.6 198.26 L511 198.42 L511.4 198.3 L511.8 198.18 L512.2 198.18 L512.6 198.3 L513 198.43 L513.4 198.42 L513.8 198.41 L514.2 198.4 L514.6 198.4 L515 198.4 L515.4 198.39 L515.8 198.38 L516.2 198.34 L516.6 198.27 L517 198.2 L517.4 198.21 L517.8 198.22 L518.2 198.21 L518.6 198.2 L519 198.18 L519.4 198.28 L519.8 198.38 L520.2 198.35 L520.6 198.21 L521 198.06 L521.4 198.08 L521.8 198.1 L522.2 198.18 L522.6 198.31 L523 198.44 L523.4 198.42 L523.8 198.4 L524.2 198.38 L524.6 198.36 L525 198.35 L525.4 198.39 L525.8 198.43 L526.2 198.42 L526.6 198.35 L527 198.28 L527.4 198.33 L527.8 198.39 L528.2 198.38 L528.6 198.32 L529 198.26 L529.4 198.33 L529.8 198.41 L530.2 198.38 L530.6 198.25 L531 198.12 L531.4 198.18 L531.8 198.24 L532.2 198.28 L532.6 198.31 L533 198.33 L533.47 198.54 L533.93 199.01 L534.4 199.56 L534.87 200.14 L535.33 200.76 L535.8 201.41 L536.21 201.88 L536.62 202.34 L537.03 202.75 L537.44 202.65 L537.85 202.53 L538.25 202.53 L538.66 202.61 L539.07 202.68 L539.48 202.77 L539.89 202.86 L540.3 203.42 L540.71 204.15 L541.12 204.65 L541.53 204.58 L541.94 204.51 L542.35 204.6 L542.75 204.72 L543.16 204.9 L543.57 205.17 L543.98 205.44 L544.39 205.39 L544.8 205.32 L545.2 205.43 L545.61 205.7 L546.01 205.98 L546.41 206.22 L546.82 206.46 L547.22 206.7 L547.62 206.95 L548.02 207.23 L548.43 207.87 L548.83 208.5 L549.23 208.68 L549.64 208.53 L550.04 208.41 L550.44 208.55 L550.85 208.68 L551.25 209.19 L551.65 209.91 L552.06 210.53 L552.46 210.54 L552.86 210.54 L553.27 210.44 L553.67 210.28 L554.07 210.24 L554.48 210.81 L554.88 211.36 L555.28 211.62 L555.68 211.73 L556.09 211.82 L556.49 211.87 L556.89 211.9 L557.3 211.99 L557.7 212.08 L558.16 212.04 L558.62 211.75 L559.08 211.47 L559.54 211.27 L560 211.44 L560.43 211.39 L560.85 211.26 L561.28 211.03 L561.71 210.72 L562.13 210.39 L562.56 210.04 L562.99 209.67 L563.41 209.25 L563.84 208.84 L564.27 208.49 L564.69 208.2 L565.12 207.96 L565.55 207.79 L565.97 207.68 L566.4 207.61 L566.81 207.6 L567.22 207.64 L567.63 207.71 L568.04 207.81 L568.45 207.9 L568.86 208.01 L569.27 208.16 L569.68 208.33 L570.09 208.51 L570.5 208.65 L570.9 208.81 L571.31 209.01 L571.72 209.23 L572.13 209.46 L572.54 209.7 L572.95 209.95 L573.36 210.14 L573.77 210.32 L574.18 210.52 L574.59 210.73 L575 210.94 L575.4 211.19 L575.8 211.46 L576.2 211.7 L576.6 211.92 L577 212.16 L577.4 212.5 L577.8 212.85 L578.2 213.16 L578.6 213.43 L579 213.71 L579.4 214.09 L579.8 214.47 L580.2 214.82 L580.6 215.14 L581 215.46 L581.4 215.79 L581.8 216.11 L582.2 216.47 L582.6 216.86 L583 217.25 L583.4 217.62 L583.8 217.98 L584.2 218.33 L584.6 218.67 L585 219 L585.41 219.38 L585.82 219.8 L586.23 220.23 L586.64 220.67 L587.05 221.14 L587.46 221.68 L587.87 222.23 L588.28 222.7 L588.69 223.13 L589.1 223.57 L589.51 224.09 L589.92 224.58 L590.33 224.95 L590.74 225.27 L591.15 225.58 L591.56 225.9 L591.97 226.18 L592.38 226.32 L592.79 226.39 L593.2 226.42 L593.64 226.31 L594.07 226.01 L594.51 225.58 L594.95 225.01 L595.38 224.34 L595.82 223.61 L596.25 222.8 L596.69 221.96 L597.13 221.19 L597.56 220.53 L598 219.98 L598.4 219.54 L598.8 219.1 L599.2 218.68 L599.6 218.26 L600 217.85 L600.4 217.42 L600.8 217 L601.2 216.61 L601.6 216.23 L602 215.87 L602.4 215.56 L602.8 215.26 L603.2 214.95 L603.6 214.62 L604 214.31 L604.4 214.01 L604.8 213.71 L605.2 213.42 L605.6 213.17 L606 212.91 L606.4 212.63 L606.8 212.36 L607.2 212.06 L607.6 211.75 L608 211.44 L608.4 211.16 L608.8 210.9 L609.2 210.68 L609.6 210.52 L610 210.37 L610.4 210.28 L610.8 210.21 L611.2 210.12 L611.6 210.01 L612 209.93 L612.41 209.95 L612.82 209.99 L613.23 210.08 L613.64 210.21 L614.05 210.34 L614.46 210.4 L614.87 210.46 L615.28 210.62 L615.69 210.81 L616.11 210.97 L616.52 211.06 L616.93 211.13 L617.34 211.25 L617.75 211.38 L618.16 211.49 L618.57 211.59 L618.98 211.67 L619.39 211.67 L619.8 211.64 L620.2 211.64 L620.61 211.65 L621.01 211.64 L621.42 211.53 L621.82 211.39 L622.22 211.27 L622.63 211.15 L623.03 211.01 L623.43 210.84 L623.84 210.65 L624.24 210.41 L624.65 210.15 L625.05 209.89 L625.45 209.72 L625.86 209.55 L626.26 209.33 L626.67 209.09 L627.07 208.84 L627.47 208.55 L627.88 208.27 L628.28 208.04 L628.68 207.84 L629.09 207.63 L629.49 207.38 L629.9 207.14 L630.3 206.96 L630.71 206.8 L631.12 206.63 L631.53 206.45 L631.94 206.27 L632.36 206.04 L632.77 205.81 L633.18 205.6 L633.59 205.41 L634 205.22 L634.41 204.99 L634.82 204.75 L635.23 204.57 L635.64 204.43 L636.06 204.28 L636.47 204.05 L636.88 203.83 L637.29 203.64 L637.7 203.45" fill="none" stroke="#444" stroke-width="1.0" stroke-linejoin="round"/>
<line x1="379.2" y1="68.5" x2="379.2" y2="240.5" stroke="#333" stroke-width="1.0" stroke-dasharray="4 3.9"/>
<line x1="538.2" y1="64.3" x2="538.2" y2="240.5" stroke="#333" stroke-width="1.0" stroke-dasharray="4 3.9"/>
<line x1="559.7" y1="62.8" x2="559.7" y2="240.5" stroke="#333" stroke-width="1.0" stroke-dasharray="4 3.9"/>
<line x1="593.1" y1="76.5" x2="593.1" y2="240.5" stroke="#333" stroke-width="1.0" stroke-dasharray="4 3.9"/>
<line x1="633.8" y1="68" x2="633.8" y2="240.5" stroke="#333" stroke-width="1.0" stroke-dasharray="4 3.9"/>
<rect x="327.6" y="36" width="310.8" height="204.5" fill="none" stroke="#222" stroke-width="1.1"/>
<line x1="616.2" y1="240.5" x2="616.2" y2="238.7" stroke="#222" stroke-width="0.9"/>
<line x1="594" y1="240.5" x2="594" y2="237.3" stroke="#222" stroke-width="0.9"/>
<line x1="571.8" y1="240.5" x2="571.8" y2="238.7" stroke="#222" stroke-width="0.9"/>
<line x1="549.6" y1="240.5" x2="549.6" y2="237.3" stroke="#222" stroke-width="0.9"/>
<line x1="527.4" y1="240.5" x2="527.4" y2="238.7" stroke="#222" stroke-width="0.9"/>
<line x1="505.2" y1="240.5" x2="505.2" y2="237.3" stroke="#222" stroke-width="0.9"/>
<line x1="483" y1="240.5" x2="483" y2="238.7" stroke="#222" stroke-width="0.9"/>
<line x1="460.8" y1="240.5" x2="460.8" y2="237.3" stroke="#222" stroke-width="0.9"/>
<line x1="438.6" y1="240.5" x2="438.6" y2="238.7" stroke="#222" stroke-width="0.9"/>
<line x1="416.4" y1="240.5" x2="416.4" y2="237.3" stroke="#222" stroke-width="0.9"/>
<line x1="394.2" y1="240.5" x2="394.2" y2="238.7" stroke="#222" stroke-width="0.9"/>
<line x1="372" y1="240.5" x2="372" y2="237.3" stroke="#222" stroke-width="0.9"/>
<line x1="349.8" y1="240.5" x2="349.8" y2="238.7" stroke="#222" stroke-width="0.9"/>
<text x="638.4" y="251.2" font-family="Liberation Serif" font-size="8.6" text-anchor="middle" fill="#222" stroke="#222" stroke-width="0.1">500</text>
<text x="594" y="251.2" font-family="Liberation Serif" font-size="8.6" text-anchor="middle" fill="#222" stroke="#222" stroke-width="0.1">1000</text>
<text x="549.6" y="251.2" font-family="Liberation Serif" font-size="8.6" text-anchor="middle" fill="#222" stroke="#222" stroke-width="0.1">1500</text>
<text x="505.2" y="251.2" font-family="Liberation Serif" font-size="8.6" text-anchor="middle" fill="#222" stroke="#222" stroke-width="0.1">2000</text>
<text x="460.8" y="251.2" font-family="Liberation Serif" font-size="8.6" text-anchor="middle" fill="#222" stroke="#222" stroke-width="0.1">2500</text>
<text x="416.4" y="251.2" font-family="Liberation Serif" font-size="8.6" text-anchor="middle" fill="#222" stroke="#222" stroke-width="0.1">3000</text>
<text x="372" y="251.2" font-family="Liberation Serif" font-size="8.6" text-anchor="middle" fill="#222" stroke="#222" stroke-width="0.1">3500</text>
<text x="327.6" y="251.2" font-family="Liberation Serif" font-size="8.6" text-anchor="middle" fill="#222" stroke="#222" stroke-width="0.1">4000</text>
<text x="330" y="48.2" font-family="Liberation Serif" font-size="11.8" font-weight="bold" text-anchor="start" fill="#111" textLength="13.2" lengthAdjust="spacingAndGlyphs">(b)</text>
<text x="377.1" y="57" font-family="Liberation Serif" font-size="9.5" text-anchor="middle" fill="#222" stroke="#222" stroke-width="0.1">(3420)</text>
<text x="532.5" y="54.2" font-family="Liberation Serif" font-size="9.5" text-anchor="middle" fill="#222" stroke="#222" stroke-width="0.1">(1630)</text>
<text x="589.9" y="61.3" font-family="Liberation Serif" font-size="9.5" text-anchor="middle" fill="#222" stroke="#222" stroke-width="0.1">(1010)</text>
<text x="626.6" y="60.1" font-family="Liberation Serif" font-size="9.5" text-anchor="middle" fill="#222" stroke="#222" stroke-width="0.1">(545)</text>
<text x="573.2" y="139.4" font-family="Liberation Serif" font-size="9.5" text-anchor="middle" fill="#222" stroke="#222" stroke-width="0.1">(1384)</text>
<text x="468.5" y="52.6" font-family="Liberation Serif" font-size="10.5" text-anchor="middle" fill="#222" stroke="#222" stroke-width="0.1" textLength="84.7" lengthAdjust="spacingAndGlyphs">N,S-Ag<tspan dy="2.31" font-size="7.14">3</tspan><tspan dy="-2.31">PO</tspan><tspan dy="2.31" font-size="7.14">4</tspan><tspan dy="-2.31">@ACB</tspan></text>
<text x="466.5" y="89.8" font-family="Liberation Serif" font-size="10.5" text-anchor="middle" fill="#222" stroke="#222" stroke-width="0.1" textLength="64.5" lengthAdjust="spacingAndGlyphs">Ag<tspan dy="2.31" font-size="7.14">3</tspan><tspan dy="-2.31">PO</tspan><tspan dy="2.31" font-size="7.14">4</tspan><tspan dy="-2.31">@ACB</tspan></text>
<text x="463.9" y="138.6" font-family="Liberation Serif" font-size="10.5" text-anchor="middle" fill="#222" stroke="#222" stroke-width="0.1" textLength="34" lengthAdjust="spacingAndGlyphs">Ag<tspan dy="2.31" font-size="7.14">3</tspan><tspan dy="-2.31">PO</tspan><tspan dy="2.31" font-size="7.14">4</tspan></text>
<text x="460.2" y="194.4" font-family="Liberation Serif" font-size="10.3" text-anchor="middle" fill="#222" stroke="#222" stroke-width="0.1" textLength="21.5" lengthAdjust="spacingAndGlyphs">ACB</text>
<text x="493.6" y="266.9" font-family="Liberation Serif" font-size="11.7" font-weight="bold" text-anchor="middle" fill="#111" textLength="99.3" lengthAdjust="spacingAndGlyphs">Wavenumber (cm<tspan dy="-4.45" font-size="7.96">-1</tspan><tspan dy="4.45">)</tspan></text>
<text x="319" y="134.85" font-family="Liberation Serif" font-size="11.8" font-weight="bold" text-anchor="middle" fill="#111" textLength="99.9" lengthAdjust="spacingAndGlyphs" transform="rotate(-90 319 134.85)">Transmittance (a.u.)</text>
<path d="M31.7 441.58 L32.15 442.68 L32.6 443.74 L33.05 444.75 L33.5 445.6 L33.92 446.27 L34.33 446.87 L34.75 447.42 L35.17 447.92 L35.58 448.38 L36 448.79 L36.4 449.13 L36.8 449.45 L37.2 449.75 L37.6 450.02 L38 450.29 L38.4 450.65 L38.8 451.01 L39.2 451.35 L39.6 451.68 L40 452 L40.42 452.26 L40.83 452.51 L41.25 452.76 L41.67 453.01 L42.08 453.24 L42.5 453.42 L42.92 453.6 L43.33 453.75 L43.75 453.9 L44.17 454.04 L44.58 454.18 L45 454.31 L45.4 454.41 L45.8 454.51 L46.2 454.59 L46.6 454.64 L47 454.69 L47.4 454.74 L47.8 454.78 L48.2 454.82 L48.6 454.87 L49 454.91 L49.4 454.94 L49.8 454.97 L50.2 455.05 L50.6 455.16 L51 455.27 L51.4 455.38 L51.8 455.49 L52.2 455.58 L52.6 455.66 L53 455.74 L53.4 455.82 L53.8 455.9 L54.2 455.93 L54.6 455.9 L55 455.88 L55.4 455.85 L55.8 455.82 L56.2 455.88 L56.6 456.02 L57 456.16 L57.4 456.3 L57.8 456.44 L58.2 456.48 L58.6 456.44 L59 456.39 L59.4 456.35 L59.8 456.3 L60.2 456.29 L60.6 456.32 L61 456.36 L61.4 456.39 L61.8 456.42 L62.2 456.44 L62.6 456.45 L63 456.45 L63.4 456.46 L63.8 456.47 L64.2 456.57 L64.6 456.74 L65 456.91 L65.41 457.09 L65.81 457.28 L66.22 457.37 L66.62 457.39 L67.03 457.41 L67.44 457.43 L67.84 457.45 L68.25 457.51 L68.66 457.6 L69.06 457.68 L69.47 457.76 L69.88 457.85 L70.28 457.9 L70.69 457.92 L71.09 457.95 L71.5 457.98 L71.91 458.01 L72.31 458 L72.72 457.98 L73.12 457.96 L73.53 457.93 L73.94 457.91 L74.34 457.98 L74.75 458.07 L75.16 458.16 L75.56 458.25 L75.97 458.33 L76.38 458.4 L76.78 458.45 L77.19 458.51 L77.59 458.56 L78 458.6 L78.4 458.56 L78.8 458.52 L79.2 458.49 L79.6 458.45 L80 458.41 L80.4 458.54 L80.8 458.68 L81.2 458.81 L81.6 458.94 L82 459.07 L82.4 459 L82.8 458.93 L83.2 458.87 L83.6 458.8 L84 458.73 L84.4 458.71 L84.8 458.7 L85.2 458.68 L85.6 458.66 L86 458.64 L86.4 458.75 L86.8 458.85 L87.2 458.95 L87.6 459.06 L88 459.16 L88.4 459.07 L88.8 458.99 L89.2 458.9 L89.6 458.81 L90 458.72 L90.4 458.84 L90.8 458.97 L91.2 459.09 L91.6 459.21 L92 459.33 L92.4 459.27 L92.8 459.21 L93.2 459.15 L93.6 459.09 L94 459.02 L94.4 459.04 L94.8 459.06 L95.2 459.08 L95.6 459.1 L96 459.12 L96.4 459.09 L96.8 459.07 L97.2 459.04 L97.6 459.01 L98 458.99 L98.4 459.01 L98.8 459.03 L99.2 459.05 L99.6 459.07 L100 459.09 L100.41 459.05 L100.81 459 L101.22 458.96 L101.62 458.92 L102.03 458.87 L102.43 458.85 L102.84 458.83 L103.24 458.8 L103.65 458.78 L104.05 458.77 L104.46 458.89 L104.87 459 L105.27 459.11 L105.68 459.23 L106.08 459.3 L106.49 459.2 L106.89 459.11 L107.3 459.01 L107.7 458.91 L108.11 458.86 L108.52 458.93 L108.92 459 L109.33 459.07 L109.73 459.14 L110.14 459.15 L110.54 459.06 L110.95 458.97 L111.35 458.88 L111.76 458.79 L112.16 458.77 L112.57 458.87 L112.98 458.96 L113.38 459.06 L113.79 459.15 L114.19 459.19 L114.6 459.17 L115 459.14 L115.41 459.11 L115.81 459.09 L116.22 459.06 L116.62 459.02 L117.03 458.98 L117.44 458.95 L117.84 458.91 L118.25 458.89 L118.65 458.87 L119.06 458.85 L119.46 458.83 L119.87 458.81 L120.27 458.78 L120.68 458.73 L121.08 458.68 L121.49 458.63 L121.9 458.58 L122.3 458.57 L122.71 458.57 L123.11 458.57 L123.52 458.56 L123.92 458.56 L124.33 458.47 L124.73 458.36 L125.14 458.24 L125.55 458.13 L125.95 458.02 L126.36 458.02 L126.76 458.04 L127.17 458.07 L127.57 458.09 L127.98 458.11 L128.38 458.13 L128.79 458.14 L129.19 458.16 L129.6 458.18 L130 458.19 L130.4 458.03 L130.8 457.86 L131.2 457.67 L131.6 457.45 L132 457.23 L132.4 457.17 L132.8 457.1 L133.2 457.02 L133.6 456.92 L134 456.82 L134.4 456.6 L134.8 456.37 L135.2 456.13 L135.6 455.89 L136 455.64 L136.4 455.33 L136.8 455.02 L137.2 454.71 L137.6 454.39 L138 454.08 L138.4 453.84 L138.8 453.59 L139.2 453.36 L139.6 453.13 L140 452.91 L140.41 452.7 L140.83 452.5 L141.25 452.29 L141.66 452.09 L142.07 451.88 L142.49 451.65 L142.91 451.41 L143.32 451.18 L143.74 450.94 L144.15 450.74 L144.56 450.6 L144.98 450.45 L145.4 450.29 L145.81 450.13 L146.23 449.87 L146.64 449.52 L147.06 449.17 L147.47 448.81 L147.89 448.44 L148.3 448.08 L148.72 447.74 L149.13 447.38 L149.55 447.03 L149.96 446.67 L150.38 446.36 L150.79 446.04 L151.21 445.72 L151.62 445.4 L152.03 445.06 L152.45 444.8 L152.87 444.52 L153.28 444.22 L153.69 443.92 L154.11 443.58 L154.53 443.2 L154.94 442.79 L155.35 442.37 L155.77 441.94 L156.19 441.43 L156.6 440.84 L157.03 440.19 L157.45 439.46 L157.88 438.67 L158.3 437.89 L158.72 437.08 L159.15 436.24 L159.57 435.37 L160 434.49 L160.42 433.56 L160.84 432.52 L161.26 431.46 L161.68 430.44 L162.1 429.54 L162.5 428.79 L162.9 428.07 L163.3 427.39 L163.7 426.76 L164.1 426.17 L164.5 425.58 L164.9 425.02 L165.3 424.44 L165.7 423.91 L166.1 423.48 L166.5 423.27 L166.9 423.23 L167.43 423.37 L167.97 423.63 L168.5 423.87 L168.97 424.23 L169.45 424.8 L169.93 425.47 L170.4 426.15 L170.81 426.72 L171.22 427.34 L171.63 427.98 L172.04 428.63 L172.45 429.23 L172.86 429.82 L173.27 430.41 L173.68 430.97 L174.09 431.52 L174.5 432.07 L174.92 432.64 L175.34 433.23 L175.76 433.83 L176.18 434.44 L176.6 435.03 L177.02 435.59 L177.44 436.08 L177.86 436.5 L178.28 436.86 L178.7 437.14 L179.11 437.34 L179.52 437.53 L179.93 437.71 L180.34 437.75 L180.75 437.75 L181.16 437.73 L181.57 437.71 L181.98 437.66 L182.39 437.72 L182.8 437.76 L183.22 437.76 L183.64 437.69 L184.06 437.53 L184.48 437.25 L184.9 436.92 L185.32 436.55 L185.74 436.14 L186.16 435.71 L186.58 435.26 L187 434.79 L187.45 434.17 L187.9 433.34 L188.35 432.38 L188.8 431.33 L189.25 430.25 L189.7 429.2 L190.15 428.1 L190.6 426.96 L191.05 425.89 L191.5 425.09 L191.97 424.44 L192.43 423.79 L192.9 423.51 L193.45 423.71 L194 424.19 L194.5 425.16 L195 426.85 L195.53 430.24 L196.07 434.99 L196.6 439.18 L197.02 441.64 L197.44 443.96 L197.86 446.04 L198.28 447.75 L198.7 449.03 L199.14 450.05 L199.57 450.98 L200.01 451.82 L200.45 452.6 L200.89 453.27 L201.32 453.85 L201.76 454.33 L202.2 454.68 L202.62 454.95 L203.05 455.19 L203.47 455.41 L203.89 455.6 L204.32 455.71 L204.74 455.78 L205.16 455.84 L205.58 455.89 L206.01 455.94 L206.43 456.15 L206.85 456.35 L207.28 456.56 L207.7 456.78 L208.12 456.98 L208.54 457.11 L208.96 457.25 L209.38 457.39 L209.8 457.53 L210.22 457.64 L210.64 457.72 L211.06 457.79 L211.48 457.86 L211.9 457.92 L212.32 458.04 L212.74 458.17 L213.16 458.29 L213.58 458.39 L214 458.47 L214.4 458.44 L214.8 458.41 L215.21 458.38 L215.61 458.36 L216.01 458.33 L216.41 458.34 L216.81 458.35 L217.22 458.35 L217.62 458.36 L218.02 458.37 L218.42 458.38 L218.82 458.38 L219.23 458.39 L219.63 458.39 L220.03 458.4 L220.43 458.51 L220.84 458.63 L221.24 458.74 L221.64 458.84 L222.04 458.93 L222.44 458.85 L222.85 458.77 L223.25 458.69 L223.65 458.61 L224.05 458.54 L224.45 458.55 L224.86 458.55 L225.26 458.56 L225.66 458.56 L226.06 458.59 L226.46 458.71 L226.87 458.83 L227.27 458.95 L227.67 459.07 L228.07 459.17 L228.47 459.18 L228.88 459.19 L229.28 459.2 L229.68 459.21 L230.08 459.21 L230.49 459.18 L230.89 459.16 L231.29 459.13 L231.69 459.1 L232.09 459.1 L232.5 459.16 L232.9 459.22 L233.3 459.28 L233.7 459.34 L234.1 459.36 L234.51 459.26 L234.91 459.16 L235.31 459.06 L235.71 458.96 L236.11 458.9 L236.52 458.94 L236.92 458.98 L237.32 459.02 L237.72 459.06 L238.12 459.09 L238.53 459.1 L238.93 459.11 L239.33 459.12 L239.73 459.14 L240.14 459.15 L240.54 459.18 L240.94 459.2 L241.34 459.23 L241.74 459.25 L242.15 459.26 L242.55 459.23 L242.95 459.2 L243.35 459.17 L243.75 459.14 L244.16 459.12 L244.56 459.11 L244.96 459.1 L245.36 459.09 L245.76 459.08 L246.17 459.09 L246.57 459.13 L246.97 459.17 L247.37 459.21 L247.77 459.25 L248.18 459.31 L248.58 459.39 L248.98 459.47 L249.38 459.55 L249.79 459.63 L250.19 459.68 L250.59 459.69 L250.99 459.71 L251.39 459.72 L251.8 459.73 L252.2 459.72 L252.6 459.69 L253 459.65 L253.41 459.62 L253.81 459.58 L254.22 459.54 L254.62 459.49 L255.03 459.45 L255.43 459.4 L255.84 459.35 L256.24 459.3 L256.65 459.26 L257.05 459.21 L257.46 459.16 L257.86 459.11 L258.27 459.15 L258.67 459.23 L259.07 459.31 L259.48 459.39 L259.88 459.46 L260.29 459.43 L260.69 459.34 L261.1 459.26 L261.5 459.17 L261.91 459.08 L262.31 459.07 L262.72 459.07 L263.12 459.07 L263.53 459.07 L263.93 459.07 L264.33 458.97 L264.74 458.84 L265.14 458.71 L265.55 458.58 L265.95 458.46 L266.36 458.44 L266.76 458.44 L267.17 458.44 L267.57 458.43 L267.98 458.43 L268.38 458.49 L268.79 458.55 L269.19 458.61 L269.6 458.67 L270 458.74 L270.4 458.7 L270.8 458.67 L271.2 458.64 L271.6 458.61 L272 458.57 L272.4 458.56 L272.8 458.54 L273.2 458.52 L273.6 458.51 L274 458.49 L274.4 458.42 L274.8 458.35 L275.2 458.28 L275.6 458.21 L276 458.14 L276.4 458.09 L276.8 458.03 L277.2 457.97 L277.6 457.92 L278 457.86 L278.4 457.85 L278.8 457.83 L279.2 457.82 L279.6 457.81 L280 457.8 L280.4 457.8 L280.8 457.8 L281.2 457.81 L281.6 457.81 L282 457.81 L282.4 457.7 L282.8 457.59 L283.2 457.47 L283.6 457.36 L284 457.25 L284.4 457.24 L284.8 457.24 L285.2 457.23 L285.6 457.22 L286 457.22 L286.4 457.14 L286.8 457.07 L287.2 456.99 L287.6 456.92 L288 456.84 L288.4 456.87 L288.8 456.9 L289.2 456.93 L289.6 456.96 L290 456.99 L290.41 456.84 L290.81 456.69 L291.22 456.54 L291.62 456.38 L292.03 456.24 L292.43 456.29 L292.84 456.33 L293.24 456.38 L293.65 456.42 L294.05 456.45 L294.46 456.44 L294.86 456.42 L295.27 456.4 L295.68 456.39 L296.08 456.34 L296.49 456.15 L296.89 455.96 L297.3 455.77 L297.7 455.59 L298.11 455.46 L298.51 455.48 L298.92 455.51 L299.32 455.54 L299.73 455.57 L300.14 455.57 L300.54 455.53 L300.95 455.48 L301.35 455.44 L301.76 455.4 L302.16 455.38 L302.57 455.36 L302.97 455.35 L303.38 455.34 L303.78 455.33 L304.19 455.29 L304.59 455.22 L305 455.15 L305.41 455.08 L305.81 455.02 L306.22 454.95 L306.62 454.87 L307.03 454.8 L307.43 454.72 L307.84 454.65 L308.24 454.61 L308.65 454.61 L309.05 454.6 L309.46 454.6 L309.86 454.59 L310.27 454.62 L310.68 454.68 L311.08 454.73 L311.49 454.79 L311.89 454.84 L312.3 454.83 L312.7 454.8 L313.11 454.77 L313.51 454.75 L313.92 454.72 L314.32 454.61 L314.73 454.48 L315.14 454.35 L315.54 454.22 L315.95 454.09 L316.35 454.06 L316.76 454.04 L317.16 454.02 L317.57 454 L317.97 453.98 L318.38 453.96 L318.78 453.95 L319.19 453.94 L319.59 453.93 L320 453.92 L320.41 453.9 L320.81 453.88 L321.22 453.86 L321.63 453.84 L322.03 453.82 L322.44 453.87 L322.85 453.93 L323.25 453.98 L323.66 454.03 L324.06 454.06 L324.47 454.01 L324.88 453.96 L325.28 453.91 L325.69 453.86 L326.1 453.84 L326.5 453.94 L326.91 454.03 L327.32 454.13 L327.72 454.23 L328.13 454.28 L328.54 454.25 L328.94 454.21 L329.35 454.18 L329.75 454.14 L330.16 454.09 L330.57 454.01 L330.97 453.93 L331.38 453.86 L331.79 453.78 L332.19 453.77 L332.6 453.83 L333 453.89 L333.4 453.96 L333.81 454.03 L334.21 454.07 L334.61 454.07 L335.01 454.08 L335.41 454.09 L335.82 454.11 L336.22 454.16 L336.62 454.25 L337.02 454.34 L337.43 454.43 L337.83 454.53 L338.23 454.59 L338.63 454.63 L339.03 454.68 L339.44 454.73 L339.84 454.78 L340.24 454.85 L340.64 454.94 L341.04 455.03 L341.45 455.12 L341.85 455.22 L342.25 455.32 L342.65 455.42 L343.06 455.53 L343.46 455.63 L343.86 455.74 L344.26 455.86 L344.66 455.99 L345.07 456.12 L345.47 456.25 L345.87 456.38 L346.27 456.52 L346.67 456.67 L347.08 456.81 L347.48 456.95 L347.88 457.08 L348.28 457.17 L348.69 457.23 L349.09 457.29 L349.49 457.34 L349.89 457.39 L350.29 457.41 L350.7 457.4 L351.1 457.39 L351.5 457.37 L351.9 457.35 L352.3 457.45 L352.7 457.6 L353.1 457.74 L353.51 457.88 L353.91 458.02 L354.31 458.11 L354.71 458.18 L355.11 458.25 L355.51 458.32 L355.91 458.38 L356.31 458.42 L356.72 458.45 L357.12 458.48 L357.52 458.51 L357.92 458.54 L358.32 458.58 L358.72 458.62 L359.12 458.66 L359.52 458.71 L359.93 458.75 L360.33 458.7 L360.73 458.63 L361.13 458.55 L361.53 458.48 L361.93 458.41 L362.33 458.48 L362.73 458.58 L363.14 458.68 L363.54 458.78 L363.94 458.88 L364.34 458.88 L364.74 458.86 L365.14 458.84 L365.54 458.82 L365.94 458.8 L366.35 458.91 L366.75 459.04 L367.15 459.17 L367.55 459.3 L367.95 459.44 L368.35 459.41 L368.75 459.36 L369.15 459.31 L369.56 459.26 L369.96 459.21 L370.36 459.3 L370.76 459.41 L371.16 459.52 L371.56 459.62 L371.96 459.73 L372.36 459.71 L372.77 459.68 L373.17 459.65 L373.57 459.62 L373.97 459.58 L374.37 459.67 L374.77 459.76 L375.17 459.86 L375.57 459.95 L375.98 460.05 L376.38 460.03 L376.78 460.01 L377.18 459.99 L377.58 459.97 L377.98 459.95 L378.38 459.94 L378.78 459.94 L379.19 459.93 L379.59 459.93 L379.99 459.93 L380.39 460.01 L380.79 460.09 L381.19 460.17 L381.59 460.26 L381.99 460.34 L382.4 460.37 L382.8 460.39 L383.2 460.42 L383.6 460.44 L384 460.47" fill="none" stroke="#3fe33a" stroke-width="1.5" stroke-linejoin="round"/>
<path d="M31.7 444.81 L32.15 445.49 L32.6 446.29 L33.05 447.03 L33.5 447.64 L33.92 448.1 L34.33 448.66 L34.75 449.22 L35.17 449.75 L35.58 450.24 L36 450.7 L36.4 450.83 L36.8 450.96 L37.2 451.07 L37.6 451.16 L38 451.25 L38.4 451.44 L38.8 451.62 L39.2 451.79 L39.6 451.95 L40 452.1 L40.42 452.34 L40.83 452.59 L41.25 452.83 L41.67 453.07 L42.08 453.27 L42.5 453.36 L42.92 453.44 L43.33 453.5 L43.75 453.56 L44.17 453.66 L44.58 453.83 L45 453.99 L45.4 454.14 L45.8 454.28 L46.2 454.33 L46.6 454.27 L47 454.22 L47.4 454.16 L47.8 454.1 L48.2 454.15 L48.6 454.31 L49 454.46 L49.4 454.62 L49.8 454.77 L50.2 454.81 L50.6 454.74 L51 454.67 L51.4 454.6 L51.8 454.52 L52.2 454.52 L52.6 454.59 L53 454.66 L53.4 454.73 L53.8 454.8 L54.2 454.87 L54.6 454.94 L55 455.01 L55.41 455.09 L55.82 455.16 L56.24 455.17 L56.65 455.15 L57.06 455.12 L57.47 455.09 L57.88 455.06 L58.3 455.09 L58.71 455.14 L59.12 455.18 L59.53 455.23 L59.95 455.28 L60.36 455.26 L60.77 455.23 L61.18 455.2 L61.59 455.18 L62.01 455.15 L62.42 455.05 L62.83 454.94 L63.24 454.84 L63.65 454.74 L64.07 454.69 L64.48 454.83 L64.89 454.98 L65.3 455.13 L65.72 455.28 L66.13 455.38 L66.54 455.34 L66.95 455.31 L67.36 455.28 L67.78 455.25 L68.19 455.23 L68.6 455.2 L69 455.19 L69.4 455.2 L69.8 455.23 L70.2 455.29 L70.6 455.37 L71 455.46 L71.4 455.56 L71.8 455.67 L72.2 455.84 L72.6 456.08 L73 456.32 L73.4 456.56 L73.8 456.79 L74.2 456.94 L74.6 457.01 L75 457.07 L75.42 457.13 L75.83 457.2 L76.25 457.34 L76.67 457.52 L77.08 457.7 L77.5 457.88 L77.92 458.05 L78.33 458.13 L78.75 458.19 L79.17 458.22 L79.58 458.23 L80 458.22 L80.4 458.25 L80.8 458.28 L81.2 458.31 L81.6 458.34 L82 458.37 L82.4 458.3 L82.8 458.24 L83.2 458.17 L83.6 458.11 L84 458.04 L84.4 458.06 L84.8 458.08 L85.2 458.1 L85.6 458.12 L86 458.14 L86.4 458.12 L86.8 458.1 L87.2 458.09 L87.6 458.07 L88 458.05 L88.4 457.99 L88.8 457.93 L89.2 457.87 L89.6 457.81 L90 457.75 L90.4 457.86 L90.8 457.97 L91.2 458.07 L91.6 458.18 L92 458.29 L92.4 458.18 L92.8 458.07 L93.2 457.96 L93.6 457.85 L94 457.75 L94.4 457.82 L94.8 457.88 L95.2 457.95 L95.6 458.02 L96 458.09 L96.4 458.11 L96.8 458.13 L97.2 458.16 L97.6 458.18 L98 458.2 L98.4 458.14 L98.8 458.09 L99.2 458.03 L99.6 457.98 L100 457.92 L100.4 457.83 L100.8 457.74 L101.21 457.65 L101.61 457.55 L102.01 457.46 L102.41 457.56 L102.81 457.65 L103.22 457.74 L103.62 457.83 L104.02 457.91 L104.42 457.86 L104.82 457.82 L105.23 457.77 L105.63 457.71 L106.03 457.66 L106.43 457.55 L106.83 457.45 L107.24 457.34 L107.64 457.23 L108.04 457.12 L108.44 457.07 L108.84 457.01 L109.25 456.96 L109.65 456.9 L110.05 456.85 L110.45 456.9 L110.86 456.94 L111.26 456.97 L111.66 457.01 L112.06 457.03 L112.46 456.91 L112.87 456.79 L113.27 456.66 L113.67 456.54 L114.07 456.46 L114.47 456.56 L114.88 456.66 L115.28 456.76 L115.68 456.86 L116.08 456.92 L116.48 456.81 L116.89 456.7 L117.29 456.59 L117.69 456.48 L118.09 456.38 L118.49 456.34 L118.9 456.3 L119.3 456.25 L119.7 456.21 L120.12 456.16 L120.54 456.1 L120.96 456.03 L121.38 455.96 L121.8 455.89 L122.22 455.85 L122.64 455.84 L123.06 455.82 L123.48 455.8 L123.9 455.78 L124.32 455.76 L124.74 455.73 L125.16 455.7 L125.58 455.67 L126 455.63 L126.45 455.43 L126.9 455.23 L127.35 455.02 L127.8 454.79 L128.25 454.63 L128.7 454.5 L129.15 454.35 L129.6 454.19 L130.01 454 L130.42 453.79 L130.83 453.53 L131.24 453.23 L131.65 452.91 L132.06 452.54 L132.47 452.09 L132.88 451.62 L133.29 451.15 L133.7 450.67 L134.12 450.2 L134.54 449.77 L134.97 449.32 L135.39 448.84 L135.81 448.33 L136.23 447.77 L136.66 447.15 L137.08 446.51 L137.5 445.84 L137.91 445.16 L138.32 444.43 L138.73 443.66 L139.14 442.86 L139.56 442.02 L139.97 441.15 L140.38 440.3 L140.79 439.44 L141.2 438.56 L141.6 437.67 L142 436.73 L142.4 435.69 L142.8 434.61 L143.2 433.51 L143.6 432.39 L144 431.26 L144.4 430.07 L144.8 428.88 L145.23 427.59 L145.67 426.27 L146.1 424.98 L146.53 423.86 L146.97 422.72 L147.4 421.58 L147.83 420.44 L148.27 419.13 L148.7 417.72 L149.12 416.34 L149.54 414.96 L149.97 413.57 L150.39 412.29 L150.81 411.02 L151.23 409.75 L151.66 408.48 L152.08 407.21 L152.5 405.94 L152.91 404.72 L153.32 403.52 L153.73 402.33 L154.14 401.18 L154.56 400.08 L154.97 398.96 L155.38 397.81 L155.79 396.63 L156.2 395.35 L156.63 393.91 L157.06 392.42 L157.49 390.89 L157.91 389.31 L158.34 387.63 L158.77 385.9 L159.2 384.15 L159.65 382.27 L160.1 380.35 L160.55 378.42 L161 376.46 L161.45 374.46 L161.9 372.42 L162.32 370.4 L162.74 368.25 L163.16 366.09 L163.58 364.03 L164 362.18 L164.53 360.24 L165.07 358.49 L165.6 357.19 L166.03 356.37 L166.45 355.37 L166.88 354.61 L167.3 354.24 L167.8 354.22 L168.3 354.54 L168.8 355.06 L169.3 355.89 L169.8 357.14 L170.3 358.51 L170.74 359.81 L171.18 361.31 L171.62 363.01 L172.06 364.86 L172.5 366.88 L172.9 369.04 L173.3 371.59 L173.7 374.25 L174.1 376.77 L174.5 378.87 L174.9 380.61 L175.3 382.23 L175.7 383.72 L176.1 385.07 L176.5 386.27 L176.9 387.33 L177.34 388.38 L177.79 389.35 L178.23 390.24 L178.67 391.07 L179.11 391.82 L179.56 392.51 L180 393.13 L180.4 393.79 L180.8 394.48 L181.2 395.14 L181.6 395.74 L182 396.24 L182.4 396.57 L182.8 396.71 L183.25 396.63 L183.7 396.31 L184.15 395.76 L184.6 395 L185.05 394.12 L185.5 393.15 L185.93 391.85 L186.37 389.92 L186.8 387.46 L187.23 384.55 L187.67 381.29 L188.1 377.78 L188.5 373.54 L188.9 368.17 L189.3 363.02 L189.8 357.62 L190.3 352.08 L190.9 344.48 L191.5 336.77 L192.1 329.15 L192.7 322.74 L193.2 318.23 L193.7 315.89 L194.2 317.91 L194.7 322.05 L195.25 329.14 L195.8 338.23 L196.3 346.4 L196.8 355.29 L197.35 366.52 L197.9 378.33 L198.33 387.52 L198.77 396.66 L199.2 405.12 L199.67 413.73 L200.13 421.78 L200.6 428.06 L201.13 433.09 L201.67 437.1 L202.2 440.25 L202.6 442.2 L203 443.93 L203.4 445.39 L203.8 446.53 L204.24 447.56 L204.68 448.5 L205.12 449.3 L205.56 449.97 L206 450.52 L206.4 450.95 L206.8 451.34 L207.2 451.7 L207.6 452.04 L208 452.35 L208.4 452.69 L208.8 453.01 L209.2 453.31 L209.6 453.6 L210 453.89 L210.4 454.05 L210.82 454.23 L211.24 454.4 L211.65 454.56 L212.07 454.72 L212.49 454.88 L212.91 455.03 L213.32 455.17 L213.74 455.3 L214.16 455.46 L214.58 455.66 L214.99 455.86 L215.41 456.04 L215.83 456.21 L216.25 456.33 L216.66 456.41 L217.08 456.48 L217.5 456.53 L217.91 456.57 L218.31 456.59 L218.72 456.59 L219.13 456.6 L219.53 456.6 L219.94 456.61 L220.35 456.71 L220.76 456.83 L221.16 456.94 L221.57 457.06 L221.98 457.18 L222.38 457.23 L222.79 457.28 L223.2 457.32 L223.6 457.37 L224.01 457.41 L224.42 457.42 L224.83 457.42 L225.23 457.42 L225.64 457.42 L226.05 457.43 L226.45 457.51 L226.86 457.6 L227.27 457.68 L227.67 457.76 L228.08 457.8 L228.49 457.68 L228.9 457.55 L229.3 457.42 L229.71 457.29 L230.12 457.22 L230.52 457.32 L230.93 457.42 L231.34 457.51 L231.74 457.6 L232.15 457.67 L232.56 457.7 L232.97 457.73 L233.37 457.76 L233.78 457.79 L234.19 457.78 L234.59 457.74 L235 457.69 L235.41 457.64 L235.82 457.59 L236.23 457.56 L236.64 457.53 L237.05 457.5 L237.46 457.47 L237.87 457.45 L238.27 457.49 L238.68 457.58 L239.09 457.66 L239.5 457.75 L239.91 457.84 L240.32 457.82 L240.73 457.78 L241.14 457.74 L241.55 457.69 L241.96 457.65 L242.37 457.62 L242.78 457.6 L243.19 457.57 L243.6 457.54 L244 457.51 L244.41 457.48 L244.82 457.44 L245.23 457.4 L245.64 457.37 L246.05 457.35 L246.46 457.5 L246.87 457.66 L247.28 457.81 L247.69 457.96 L248.1 458.05 L248.51 457.95 L248.92 457.85 L249.33 457.75 L249.73 457.65 L250.14 457.57 L250.55 457.53 L250.96 457.49 L251.37 457.45 L251.78 457.41 L252.19 457.4 L252.6 457.42 L253 457.43 L253.41 457.45 L253.81 457.46 L254.22 457.47 L254.62 457.47 L255.03 457.47 L255.43 457.47 L255.84 457.47 L256.24 457.52 L256.65 457.61 L257.05 457.7 L257.46 457.78 L257.86 457.87 L258.27 457.82 L258.67 457.69 L259.07 457.56 L259.48 457.44 L259.88 457.31 L260.29 457.27 L260.69 457.26 L261.1 457.26 L261.5 457.25 L261.91 457.24 L262.31 457.2 L262.72 457.15 L263.12 457.09 L263.53 457.04 L263.93 456.98 L264.33 457 L264.74 457.03 L265.14 457.06 L265.55 457.09 L265.95 457.12 L266.36 457.06 L266.76 456.99 L267.17 456.91 L267.57 456.83 L267.98 456.76 L268.38 456.74 L268.79 456.72 L269.19 456.71 L269.6 456.69 L270 456.68 L270.41 456.69 L270.82 456.69 L271.23 456.67 L271.64 456.63 L272.05 456.58 L272.46 456.48 L272.87 456.37 L273.28 456.25 L273.69 456.12 L274.1 455.97 L274.51 455.77 L274.92 455.56 L275.33 455.35 L275.74 455.13 L276.15 454.86 L276.56 454.52 L276.97 454.17 L277.38 453.82 L277.79 453.47 L278.2 453.2 L278.61 453.04 L279.02 452.87 L279.43 452.71 L279.84 452.55 L280.25 452.41 L280.66 452.28 L281.07 452.16 L281.48 452.04 L281.89 451.93 L282.3 451.68 L282.71 451.38 L283.12 451.08 L283.52 450.78 L283.93 450.48 L284.34 450.31 L284.75 450.17 L285.15 450.04 L285.56 449.9 L285.97 449.76 L286.38 449.65 L286.78 449.53 L287.19 449.41 L287.6 449.3 L288.01 449.18 L288.42 449 L288.82 448.82 L289.23 448.64 L289.64 448.46 L290.05 448.28 L290.45 448.18 L290.86 448.07 L291.27 447.97 L291.68 447.86 L292.08 447.74 L292.49 447.56 L292.9 447.39 L293.31 447.21 L293.71 447.03 L294.12 446.83 L294.53 446.6 L294.93 446.37 L295.34 446.13 L295.75 445.89 L296.15 445.66 L296.56 445.42 L296.97 445.18 L297.37 444.95 L297.78 444.71 L298.19 444.49 L298.59 444.29 L299 444.09 L299.41 443.89 L299.81 443.69 L300.22 443.51 L300.63 443.33 L301.03 443.15 L301.44 442.98 L301.85 442.82 L302.25 442.63 L302.66 442.44 L303.07 442.26 L303.47 442.08 L303.88 441.91 L304.29 441.85 L304.69 441.83 L305.1 441.82 L305.5 441.81 L305.91 441.81 L306.31 441.68 L306.71 441.51 L307.11 441.34 L307.52 441.17 L307.92 441.01 L308.32 441 L308.72 441.04 L309.13 441.09 L309.53 441.13 L309.93 441.18 L310.34 441.09 L310.74 440.99 L311.14 440.88 L311.54 440.78 L311.95 440.67 L312.35 440.52 L312.75 440.36 L313.15 440.21 L313.56 440.05 L313.96 439.9 L314.36 439.89 L314.76 439.9 L315.17 439.91 L315.57 439.93 L315.97 439.94 L316.38 439.9 L316.78 439.85 L317.18 439.81 L317.58 439.76 L317.99 439.72 L318.39 439.57 L318.79 439.41 L319.19 439.25 L319.6 439.09 L320 438.93 L320.41 438.93 L320.82 438.92 L321.23 438.91 L321.64 438.89 L322.06 438.85 L322.47 438.68 L322.88 438.5 L323.29 438.33 L323.7 438.17 L324.11 438.06 L324.52 438.09 L324.93 438.14 L325.34 438.19 L325.76 438.26 L326.17 438.23 L326.58 438.07 L326.99 437.92 L327.4 437.79 L327.81 437.66 L328.22 437.67 L328.63 437.79 L329.04 437.91 L329.45 438.04 L329.86 438.18 L330.27 438.29 L330.68 438.39 L331.09 438.5 L331.51 438.6 L331.92 438.72 L332.33 438.77 L332.74 438.81 L333.15 438.85 L333.56 438.9 L333.97 438.95 L334.38 438.93 L334.79 438.9 L335.2 438.88 L335.61 438.89 L336.02 438.94 L336.43 439.17 L336.83 439.45 L337.24 439.75 L337.65 440.08 L338.06 440.42 L338.47 440.69 L338.88 440.97 L339.29 441.27 L339.7 441.58 L340.1 441.91 L340.51 442.33 L340.92 442.74 L341.33 443.15 L341.74 443.55 L342.15 443.95 L342.56 444.38 L342.97 444.78 L343.37 445.16 L343.78 445.51 L344.19 445.79 L344.6 445.98 L345.01 446.15 L345.41 446.31 L345.82 446.47 L346.23 446.54 L346.64 446.56 L347.04 446.57 L347.45 446.57 L347.86 446.57 L348.26 446.69 L348.67 446.87 L349.08 447.04 L349.49 447.22 L349.89 447.38 L350.3 447.54 L350.71 447.68 L351.11 447.82 L351.52 447.96 L351.93 448.1 L352.34 448.14 L352.74 448.16 L353.15 448.18 L353.56 448.2 L353.96 448.22 L354.37 448.4 L354.78 448.6 L355.19 448.8 L355.59 449 L356 449.21 L356.41 449.33 L356.81 449.45 L357.22 449.58 L357.63 449.71 L358.04 449.84 L358.44 449.91 L358.85 449.99 L359.26 450.07 L359.66 450.16 L360.07 450.26 L360.48 450.39 L360.89 450.52 L361.29 450.66 L361.7 450.81 L362.11 451.02 L362.52 451.34 L362.93 451.69 L363.34 452.07 L363.75 452.47 L364.16 452.84 L364.57 453.14 L364.98 453.46 L365.39 453.78 L365.8 454.11 L366.2 454.43 L366.61 454.76 L367.02 455.07 L367.43 455.38 L367.84 455.67 L368.25 455.98 L368.66 456.29 L369.07 456.58 L369.48 456.83 L369.89 457.05 L370.3 457.21 L370.7 457.33 L371.11 457.44 L371.51 457.55 L371.91 457.65 L372.31 457.85 L372.72 458.07 L373.12 458.29 L373.52 458.5 L373.93 458.71 L374.33 458.78 L374.73 458.82 L375.14 458.85 L375.54 458.89 L375.94 458.92 L376.34 459.01 L376.75 459.12 L377.15 459.23 L377.55 459.33 L377.96 459.43 L378.36 459.52 L378.76 459.61 L379.16 459.7 L379.57 459.79 L379.97 459.88 L380.37 459.98 L380.78 460.08 L381.18 460.17 L381.58 460.27 L381.99 460.37 L382.39 460.33 L382.79 460.28 L383.19 460.23 L383.6 460.19 L384 460.15" fill="none" stroke="#ee2424" stroke-width="1.5" stroke-linejoin="round"/>
<path d="M31.7 438.94 L32.15 439.98 L32.6 441.04 L33.05 442.03 L33.5 442.9 L33.92 443.43 L34.33 443.86 L34.75 444.25 L35.17 444.6 L35.58 445.22 L36 445.84 L36.43 446.45 L36.86 447.01 L37.29 447.39 L37.71 447.74 L38.14 448.07 L38.57 448.41 L39 448.76 L39.43 449.09 L39.86 449.41 L40.29 449.61 L40.71 449.75 L41.14 449.89 L41.57 450.01 L42 450.25 L42.43 450.49 L42.86 450.73 L43.29 450.97 L43.71 451.24 L44.14 451.51 L44.57 451.75 L45 451.92 L45.43 452 L45.86 452.07 L46.29 452.14 L46.71 452.29 L47.14 452.46 L47.57 452.61 L48 452.76 L48.41 452.71 L48.82 452.66 L49.24 452.61 L49.65 452.56 L50.06 452.63 L50.47 452.69 L50.88 452.75 L51.29 452.83 L51.71 453.04 L52.12 453.23 L52.53 453.43 L52.94 453.55 L53.35 453.52 L53.76 453.49 L54.18 453.46 L54.59 453.48 L55 453.56 L55.4 453.63 L55.8 453.71 L56.2 453.8 L56.6 453.91 L57 454.03 L57.4 454.14 L57.8 454.18 L58.2 454.15 L58.6 454.11 L59 454.08 L59.4 454.06 L59.8 454.05 L60.2 454.04 L60.6 454.03 L61 454.15 L61.4 454.39 L61.8 454.64 L62.2 454.89 L62.6 455.03 L63 455.05 L63.4 455.07 L63.8 455.09 L64.2 455.15 L64.6 455.24 L65 455.33 L65.4 455.42 L65.8 455.5 L66.2 455.57 L66.6 455.63 L67 455.7 L67.4 455.81 L67.8 455.97 L68.2 456.14 L68.6 456.3 L69 456.35 L69.4 456.28 L69.8 456.21 L70.2 456.14 L70.6 456.2 L71 456.38 L71.4 456.57 L71.8 456.76 L72.2 456.86 L72.6 456.86 L73 456.86 L73.4 456.87 L73.8 456.95 L74.2 457.11 L74.6 457.28 L75 457.45 L75.43 457.65 L75.86 457.88 L76.29 458.13 L76.71 458.38 L77.14 458.5 L77.57 458.54 L78 458.5 L78.4 458.41 L78.8 458.36 L79.2 458.3 L79.6 458.24 L80 458.19 L80.4 458.28 L80.8 458.38 L81.2 458.48 L81.6 458.57 L82 458.64 L82.4 458.7 L82.8 458.76 L83.2 458.82 L83.6 458.79 L84 458.75 L84.4 458.72 L84.8 458.69 L85.2 458.65 L85.6 458.62 L86 458.58 L86.4 458.55 L86.8 458.6 L87.2 458.64 L87.6 458.69 L88 458.74 L88.4 458.63 L88.8 458.51 L89.2 458.4 L89.6 458.28 L90 458.28 L90.4 458.28 L90.8 458.28 L91.2 458.28 L91.6 458.31 L92 458.35 L92.4 458.39 L92.8 458.42 L93.2 458.55 L93.6 458.67 L94 458.79 L94.4 458.92 L94.8 458.76 L95.2 458.61 L95.6 458.45 L96 458.3 L96.4 458.28 L96.8 458.25 L97.2 458.23 L97.6 458.21 L98 458.21 L98.4 458.21 L98.8 458.2 L99.2 458.2 L99.6 458.18 L100 458.17 L100.41 458.15 L100.81 458.14 L101.22 458.2 L101.62 458.25 L102.03 458.31 L102.43 458.36 L102.84 458.43 L103.24 458.5 L103.65 458.57 L104.05 458.64 L104.46 458.69 L104.87 458.74 L105.27 458.79 L105.68 458.81 L106.08 458.67 L106.49 458.53 L106.89 458.39 L107.3 458.29 L107.7 458.28 L108.11 458.27 L108.52 458.26 L108.92 458.24 L109.33 458.2 L109.73 458.16 L110.14 458.12 L110.54 458.09 L110.95 458.07 L111.35 458.05 L111.76 458.03 L112.16 458.05 L112.57 458.14 L112.98 458.24 L113.38 458.33 L113.79 458.34 L114.19 458.25 L114.6 458.16 L115 458.07 L115.41 457.98 L115.81 457.87 L116.22 457.76 L116.62 457.65 L117.03 457.57 L117.44 457.49 L117.84 457.42 L118.25 457.34 L118.65 457.4 L119.06 457.53 L119.46 457.66 L119.87 457.79 L120.27 457.79 L120.68 457.73 L121.08 457.67 L121.49 457.61 L121.9 457.58 L122.3 457.57 L122.71 457.55 L123.11 457.54 L123.52 457.38 L123.92 457.19 L124.33 456.99 L124.73 456.79 L125.14 456.78 L125.55 456.81 L125.95 456.84 L126.36 456.87 L126.76 456.91 L127.17 456.95 L127.57 456.99 L127.98 457.03 L128.38 456.91 L128.79 456.77 L129.19 456.63 L129.6 456.49 L130.01 456.52 L130.42 456.54 L130.83 456.54 L131.24 456.5 L131.66 456.19 L132.07 455.87 L132.48 455.55 L132.89 455.3 L133.3 455.37 L133.71 455.43 L134.12 455.49 L134.53 455.39 L134.94 455 L135.36 454.6 L135.77 454.19 L136.18 453.93 L136.59 453.86 L137 453.78 L137.41 453.7 L137.82 453.51 L138.23 453.23 L138.64 452.94 L139.06 452.65 L139.47 452.54 L139.88 452.54 L140.29 452.49 L140.7 452.35 L141.11 452.13 L141.52 451.88 L141.93 451.62 L142.34 451.36 L142.76 451.12 L143.17 450.89 L143.58 450.64 L143.99 450.38 L144.4 450.07 L144.83 449.72 L145.27 449.33 L145.7 448.92 L146.13 448.51 L146.57 448.08 L147 447.64 L147.43 447.17 L147.87 446.66 L148.3 446.17 L148.7 445.71 L149.1 445.31 L149.5 444.92 L149.9 444.52 L150.3 444.12 L150.7 443.66 L151.1 443.19 L151.5 442.71 L151.9 442.23 L152.3 441.75 L152.7 441.26 L153.1 440.78 L153.5 440.3 L153.9 439.91 L154.3 439.55 L154.76 439.17 L155.22 438.82 L155.68 438.33 L156.14 437.8 L156.6 437.18 L157.01 436.54 L157.43 435.82 L157.84 435.02 L158.26 434.15 L158.67 433.24 L159.09 432.3 L159.5 431.35 L159.93 430.26 L160.37 429.1 L160.8 427.88 L161.23 426.68 L161.67 425.53 L162.1 424.45 L162.5 423.55 L162.9 422.67 L163.3 421.85 L163.7 421.18 L164.1 420.6 L164.5 420.12 L164.9 419.67 L165.3 419.17 L165.7 418.71 L166.1 418.33 L166.5 418.06 L166.9 417.89 L167.38 417.85 L167.85 417.89 L168.33 418.04 L168.8 418.26 L169.33 418.77 L169.87 419.61 L170.4 420.53 L170.81 421.21 L171.22 421.95 L171.63 422.65 L172.04 423.37 L172.45 424.1 L172.86 424.82 L173.27 425.58 L173.68 426.3 L174.09 426.95 L174.5 427.52 L174.92 428.07 L175.34 428.63 L175.76 429.19 L176.18 429.7 L176.6 430.12 L177.02 430.49 L177.44 430.8 L177.86 431.07 L178.28 431.27 L178.7 431.35 L179.11 431.35 L179.52 431.36 L179.93 431.36 L180.34 431.34 L180.75 431.31 L181.16 431.18 L181.57 431.03 L181.98 430.87 L182.39 430.7 L182.8 430.57 L183.22 430.41 L183.64 430.23 L184.06 430.02 L184.48 429.84 L184.9 429.61 L185.32 429.35 L185.74 429.02 L186.16 428.61 L186.58 428.14 L187 427.63 L187.45 426.77 L187.9 425.44 L188.35 423.79 L188.8 422.01 L189.25 420.22 L189.7 418.61 L190.15 417.09 L190.6 415.54 L191.05 414.12 L191.5 413 L191.97 412.01 L192.43 411.23 L192.9 410.93 L193.33 411.03 L193.77 411.25 L194.2 411.6 L194.6 413.13 L195 415.83 L195.53 420.81 L196.07 427.08 L196.6 432.37 L197.02 435.44 L197.44 438.25 L197.86 440.76 L198.28 442.89 L198.7 444.6 L199.14 446.1 L199.57 447.49 L200.01 448.77 L200.45 449.93 L200.89 450.95 L201.32 451.8 L201.76 452.49 L202.2 453.02 L202.62 453.41 L203.05 453.78 L203.47 454.07 L203.89 454.32 L204.32 454.54 L204.74 454.73 L205.16 454.93 L205.58 455.11 L206.01 455.28 L206.43 455.43 L206.85 455.6 L207.28 455.76 L207.7 455.91 L208.11 456.03 L208.51 456.06 L208.92 456.1 L209.32 456.12 L209.73 456.19 L210.13 456.34 L210.54 456.48 L210.94 456.62 L211.35 456.72 L211.76 456.77 L212.16 456.81 L212.57 456.85 L212.97 456.9 L213.38 456.98 L213.78 457.06 L214.19 457.13 L214.59 457.2 L215 457.43 L215.4 457.56 L215.8 457.69 L216.2 457.67 L216.6 457.5 L217 457.33 L217.4 457.15 L217.8 457.2 L218.2 457.48 L218.6 457.76 L219 458.04 L219.4 458.04 L219.8 457.76 L220.2 457.48 L220.6 457.21 L221 457.17 L221.4 457.36 L221.8 457.56 L222.2 457.76 L222.6 457.86 L223 457.88 L223.4 457.9 L223.8 457.91 L224.2 457.88 L224.6 457.79 L225 457.71 L225.4 457.62 L225.8 457.65 L226.2 457.78 L226.6 457.91 L227 458.04 L227.4 458.1 L227.8 458.09 L228.2 458.07 L228.6 458.05 L229 458.05 L229.4 458.06 L229.8 458.06 L230.2 458.06 L230.6 458.12 L231 458.22 L231.4 458.33 L231.8 458.43 L232.2 458.36 L232.6 458.11 L233 457.87 L233.4 457.62 L233.8 457.57 L234.2 457.7 L234.6 457.83 L235 457.96 L235.41 458.1 L235.82 458.24 L236.23 458.39 L236.64 458.52 L237.05 458.43 L237.46 458.19 L237.87 457.95 L238.27 457.7 L238.68 457.79 L239.09 458.04 L239.5 458.28 L239.91 458.51 L240.32 458.36 L240.73 458.1 L241.14 457.84 L241.55 457.57 L241.96 457.66 L242.37 457.81 L242.78 457.95 L243.19 458.09 L243.6 457.89 L244 457.67 L244.41 457.46 L244.82 457.26 L245.23 457.33 L245.64 457.39 L246.05 457.46 L246.46 457.51 L246.87 457.46 L247.28 457.42 L247.69 457.38 L248.1 457.31 L248.51 457.15 L248.92 456.99 L249.33 456.84 L249.73 456.8 L250.14 456.99 L250.55 457.18 L250.96 457.37 L251.37 457.43 L251.78 457.32 L252.19 457.22 L252.6 457.11 L253 457.08 L253.41 457.13 L253.81 457.18 L254.22 457.23 L254.62 457.21 L255.03 457.13 L255.43 457.06 L255.84 456.98 L256.24 456.94 L256.65 456.93 L257.05 456.91 L257.46 456.89 L257.86 456.87 L258.27 456.84 L258.67 456.8 L259.07 456.77 L259.48 456.69 L259.88 456.59 L260.29 456.48 L260.69 456.38 L261.1 456.49 L261.5 456.68 L261.91 456.87 L262.31 457.06 L262.72 456.86 L263.12 456.54 L263.53 456.23 L263.93 455.91 L264.33 456.07 L264.74 456.32 L265.14 456.57 L265.55 456.82 L265.95 456.81 L266.36 456.78 L266.76 456.74 L267.17 456.7 L267.57 456.54 L267.98 456.37 L268.38 456.2 L268.79 456.03 L269.19 456.08 L269.6 456.14 L270 456.19 L270.41 456.24 L270.82 456.14 L271.23 456.04 L271.64 455.93 L272.05 455.81 L272.46 455.7 L272.87 455.59 L273.28 455.47 L273.69 455.32 L274.1 455.1 L274.51 454.88 L274.92 454.65 L275.33 454.46 L275.74 454.34 L276.15 454.23 L276.56 454.11 L276.97 453.98 L277.38 453.86 L277.79 453.73 L278.2 453.6 L278.61 453.46 L279.02 453.3 L279.43 453.14 L279.84 452.98 L280.25 452.98 L280.66 453.07 L281.07 453.16 L281.48 453.26 L281.89 453.03 L282.3 452.66 L282.72 452.3 L283.15 451.93 L283.57 451.79 L283.99 451.68 L284.42 451.57 L284.84 451.45 L285.26 451.33 L285.69 451.2 L286.11 451.06 L286.54 450.96 L286.96 450.94 L287.38 450.91 L287.81 450.86 L288.23 450.64 L288.65 450.28 L289.08 449.9 L289.5 449.5 L289.9 449.02 L290.3 448.39 L290.7 447.83 L291.1 447.61 L291.57 447.8 L292.03 448.27 L292.5 448.59 L292.93 448.71 L293.36 448.95 L293.79 449.17 L294.21 449.36 L294.64 449.43 L295.07 449.41 L295.5 449.33 L295.9 449.21 L296.3 449.2 L296.7 449.22 L297.1 449.21 L297.5 449.19 L297.9 449.12 L298.3 449.03 L298.7 448.92 L299.1 448.81 L299.5 448.91 L299.9 449.07 L300.3 449.23 L300.7 449.39 L301.1 449.16 L301.5 448.81 L301.9 448.45 L302.3 448.1 L302.7 447.74 L303.1 447.38 L303.5 447.03 L303.9 446.69 L304.3 446.66 L304.7 446.76 L305.1 446.88 L305.5 447 L305.91 446.84 L306.31 446.58 L306.71 446.33 L307.11 446.08 L307.52 446.18 L307.92 446.37 L308.32 446.56 L308.72 446.76 L309.13 446.7 L309.53 446.59 L309.93 446.47 L310.34 446.36 L310.74 446.5 L311.14 446.68 L311.54 446.87 L311.95 447.06 L312.35 446.77 L312.75 446.39 L313.15 446.02 L313.56 445.65 L313.96 445.87 L314.36 446.16 L314.76 446.44 L315.17 446.73 L315.57 446.41 L315.97 446.03 L316.38 445.65 L316.78 445.28 L317.18 445.6 L317.58 445.96 L317.99 446.32 L318.39 446.67 L318.79 446.44 L319.19 446.2 L319.6 445.95 L320 445.7 L320.4 445.3 L320.81 444.91 L321.21 444.5 L321.61 444.12 L322.02 444.45 L322.42 444.79 L322.82 445.12 L323.23 445.39 L323.63 445 L324.03 444.6 L324.44 444.21 L324.84 443.85 L325.24 443.79 L325.65 443.74 L326.05 443.69 L326.46 443.62 L326.86 443.41 L327.26 443.2 L327.67 442.99 L328.07 442.88 L328.47 443.19 L328.88 443.5 L329.28 443.82 L329.68 443.99 L330.09 443.53 L330.49 443.08 L330.89 442.64 L331.3 442.39 L331.7 442.74 L332.11 443.12 L332.52 443.52 L332.94 443.75 L333.35 443.61 L333.76 443.49 L334.18 443.38 L334.59 443.44 L335 443.7 L335.41 444.02 L335.82 444.43 L336.23 444.7 L336.64 444.86 L337.05 445.05 L337.45 445.27 L337.86 445.54 L338.27 445.83 L338.68 446.08 L339.09 446.27 L339.5 446.82 L339.9 447.46 L340.3 448.09 L340.7 448.72 L341.1 448.89 L341.5 448.9 L341.9 448.91 L342.3 448.91 L342.7 448.81 L343.1 448.68 L343.5 448.54 L343.9 448.4 L344.3 448.78 L344.7 449.34 L345.1 449.89 L345.5 450.44 L345.9 450.63 L346.3 450.7 L346.7 450.76 L347.1 450.82 L347.5 450.61 L347.9 450.3 L348.3 449.99 L348.7 449.68 L349.1 449.6 L349.5 449.6 L349.9 449.6 L350.3 449.6 L350.7 449.91 L351.1 450.32 L351.5 450.74 L351.9 451.15 L352.31 451.12 L352.71 450.93 L353.11 450.75 L353.51 450.56 L353.92 450.83 L354.32 451.22 L354.72 451.61 L355.13 452 L355.53 452 L355.93 451.91 L356.34 451.81 L356.74 451.72 L357.14 451.87 L357.54 452.05 L357.95 452.24 L358.35 452.43 L358.75 452.43 L359.16 452.41 L359.56 452.39 L359.96 452.38 L360.36 452.54 L360.77 452.71 L361.17 452.9 L361.57 453.08 L361.98 453.19 L362.38 453.31 L362.78 453.42 L363.19 453.54 L363.59 453.53 L363.99 453.51 L364.39 453.5 L364.8 453.5 L365.2 453.62 L365.62 453.79 L366.05 454.04 L366.48 454.31 L366.9 454.51 L367.32 454.74 L367.75 454.98 L368.18 455.24 L368.6 455.52 L369.02 455.77 L369.45 455.97 L369.88 456.18 L370.3 456.35 L370.7 456.48 L371.11 456.59 L371.51 457.04 L371.91 457.59 L372.31 458.14 L372.72 458.67 L373.12 458.58 L373.52 458.33 L373.93 458.07 L374.33 457.8 L374.73 457.93 L375.14 458.14 L375.54 458.35 L375.94 458.55 L376.34 458.59 L376.75 458.61 L377.15 458.62 L377.55 458.63 L377.96 458.85 L378.36 459.08 L378.76 459.32 L379.16 459.56 L379.57 459.59 L379.97 459.62 L380.37 459.64 L380.78 459.66 L381.18 459.89 L381.58 460.15 L381.99 460.4 L382.39 460.66 L382.79 460.51 L383.19 460.36 L383.6 460.21 L384 460.06" fill="none" stroke="#1414e6" stroke-width="1.5" stroke-linejoin="round"/>
<line x1="167.2" y1="355" x2="167.2" y2="478.3" stroke="#222" stroke-width="1.0" stroke-dasharray="4 3.9"/>
<line x1="194.6" y1="317" x2="194.6" y2="478.3" stroke="#222" stroke-width="1.0" stroke-dasharray="4 3.9"/>
<rect x="31.7" y="293.5" width="352.5" height="184.8" fill="none" stroke="#222" stroke-width="1.1"/>
<line x1="52.25" y1="478.3" x2="52.25" y2="476.3" stroke="#222" stroke-width="0.9"/>
<line x1="78.6" y1="478.3" x2="78.6" y2="474.9" stroke="#222" stroke-width="0.9"/>
<line x1="104.95" y1="478.3" x2="104.95" y2="476.3" stroke="#222" stroke-width="0.9"/>
<line x1="131.3" y1="478.3" x2="131.3" y2="474.9" stroke="#222" stroke-width="0.9"/>
<line x1="157.65" y1="478.3" x2="157.65" y2="476.3" stroke="#222" stroke-width="0.9"/>
<line x1="184" y1="478.3" x2="184" y2="474.9" stroke="#222" stroke-width="0.9"/>
<line x1="210.35" y1="478.3" x2="210.35" y2="476.3" stroke="#222" stroke-width="0.9"/>
<line x1="236.7" y1="478.3" x2="236.7" y2="474.9" stroke="#222" stroke-width="0.9"/>
<line x1="263.05" y1="478.3" x2="263.05" y2="476.3" stroke="#222" stroke-width="0.9"/>
<line x1="289.4" y1="478.3" x2="289.4" y2="474.9" stroke="#222" stroke-width="0.9"/>
<line x1="315.75" y1="478.3" x2="315.75" y2="476.3" stroke="#222" stroke-width="0.9"/>
<line x1="342.1" y1="478.3" x2="342.1" y2="474.9" stroke="#222" stroke-width="0.9"/>
<line x1="368.45" y1="478.3" x2="368.45" y2="476.3" stroke="#222" stroke-width="0.9"/>
<text x="78.6" y="491.2" font-family="Liberation Serif" font-size="11" text-anchor="middle" fill="#222" textLength="15.3" lengthAdjust="spacingAndGlyphs">500</text>
<text x="131.3" y="491.2" font-family="Liberation Serif" font-size="11" text-anchor="middle" fill="#222" textLength="20.4" lengthAdjust="spacingAndGlyphs">1000</text>
<text x="184" y="491.2" font-family="Liberation Serif" font-size="11" text-anchor="middle" fill="#222" textLength="20.4" lengthAdjust="spacingAndGlyphs">1500</text>
<text x="236.7" y="491.2" font-family="Liberation Serif" font-size="11" text-anchor="middle" fill="#222" textLength="20.4" lengthAdjust="spacingAndGlyphs">2000</text>
<text x="289.4" y="491.2" font-family="Liberation Serif" font-size="11" text-anchor="middle" fill="#222" textLength="20.4" lengthAdjust="spacingAndGlyphs">2500</text>
<text x="342.1" y="491.2" font-family="Liberation Serif" font-size="11" text-anchor="middle" fill="#222" textLength="20.4" lengthAdjust="spacingAndGlyphs">3000</text>
<line x1="31.7" y1="459.5" x2="35.3" y2="459.5" stroke="#222" stroke-width="0.9"/>
<line x1="31.7" y1="440.6" x2="33.7" y2="440.6" stroke="#222" stroke-width="0.9"/>
<line x1="31.7" y1="421.7" x2="35.3" y2="421.7" stroke="#222" stroke-width="0.9"/>
<line x1="31.7" y1="402.8" x2="33.7" y2="402.8" stroke="#222" stroke-width="0.9"/>
<line x1="31.7" y1="383.9" x2="35.3" y2="383.9" stroke="#222" stroke-width="0.9"/>
<line x1="31.7" y1="365" x2="33.7" y2="365" stroke="#222" stroke-width="0.9"/>
<line x1="31.7" y1="346.1" x2="35.3" y2="346.1" stroke="#222" stroke-width="0.9"/>
<line x1="31.7" y1="327.2" x2="33.7" y2="327.2" stroke="#222" stroke-width="0.9"/>
<line x1="31.7" y1="308.3" x2="35.3" y2="308.3" stroke="#222" stroke-width="0.9"/>
<text x="27.3" y="463.2" font-family="Liberation Serif" font-size="11" text-anchor="end" fill="#222" textLength="5.1" lengthAdjust="spacingAndGlyphs">0</text>
<text x="27.3" y="425.4" font-family="Liberation Serif" font-size="11" text-anchor="end" fill="#222" textLength="10.2" lengthAdjust="spacingAndGlyphs">50</text>
<text x="27.3" y="387.6" font-family="Liberation Serif" font-size="11" text-anchor="end" fill="#222" textLength="15.3" lengthAdjust="spacingAndGlyphs">100</text>
<text x="27.3" y="349.8" font-family="Liberation Serif" font-size="11" text-anchor="end" fill="#222" textLength="15.3" lengthAdjust="spacingAndGlyphs">150</text>
<text x="27.3" y="312" font-family="Liberation Serif" font-size="11" text-anchor="end" fill="#222" textLength="15.3" lengthAdjust="spacingAndGlyphs">200</text>
<text x="40.9" y="309.1" font-family="Liberation Serif" font-size="12.6" font-weight="bold" text-anchor="start" fill="#111" textLength="13.4" lengthAdjust="spacingAndGlyphs">(c)</text>
<text x="166.6" y="348.2" font-family="Liberation Serif" font-size="9.8" font-weight="bold" text-anchor="middle" fill="#111">D</text>
<text x="193.7" y="314.4" font-family="Liberation Serif" font-size="9.8" font-weight="bold" text-anchor="middle" fill="#111">G</text>
<text x="320.9" y="434.8" font-family="Liberation Serif" font-size="10.2" font-weight="bold" text-anchor="middle" fill="#111">2D</text>
<text x="206.7" y="503.4" font-family="Liberation Serif" font-size="10.8" font-weight="bold" text-anchor="middle" fill="#111" textLength="86" lengthAdjust="spacingAndGlyphs">Raman shift (cm<tspan dy="-4.1" font-size="7.34">-1</tspan><tspan dy="4.1">)</tspan></text>
<text x="8.9" y="380.7" font-family="Liberation Serif" font-size="11.5" font-weight="bold" text-anchor="middle" fill="#111" textLength="101.2" lengthAdjust="spacingAndGlyphs" transform="rotate(-90 8.9 380.7)">Raman intensity (a.u.)</text>
<rect x="266.3" y="298.2" width="116.1" height="55.2" fill="#fff" stroke="#222" stroke-width="1.0"/>
<line x1="381.6" y1="299" x2="381.6" y2="353" stroke="#999" stroke-width="1.0"/>
<line x1="267.4" y1="305.7" x2="289.9" y2="305.7" stroke="#ee2424" stroke-width="1.5"/>
<line x1="267.4" y1="323.7" x2="289.9" y2="323.7" stroke="#3fe33a" stroke-width="1.5"/>
<line x1="267.4" y1="344.2" x2="289.9" y2="344.2" stroke="#1414e6" stroke-width="1.5"/>
<text x="292.5" y="309.4" font-family="Liberation Serif" font-size="10.8" font-weight="bold" text-anchor="start" fill="#111" textLength="22.5" lengthAdjust="spacingAndGlyphs">ACB</text>
<text x="292.5" y="327.4" font-family="Liberation Serif" font-size="10.8" font-weight="bold" text-anchor="start" fill="#111" textLength="67.9" lengthAdjust="spacingAndGlyphs">Ag<tspan dy="2.38" font-size="7.34">3</tspan><tspan dy="-2.38">PO</tspan><tspan dy="2.38" font-size="7.34">4</tspan><tspan dy="-2.38">@ACB</tspan></text>
<text x="292.5" y="347.8" font-family="Liberation Serif" font-size="10.8" font-weight="bold" text-anchor="start" fill="#111" textLength="87.9" lengthAdjust="spacingAndGlyphs">N,S-Ag<tspan dy="2.38" font-size="7.34">3</tspan><tspan dy="-2.38">PO</tspan><tspan dy="2.38" font-size="7.34">4</tspan><tspan dy="-2.38">@ACB</tspan></text>
<path d="M454.5 461 L462.4 444.7 L469.8 435.6 L477.3 432.2 L484.7 428.9 L492 426.6 L499.6 424.9 L506.6 423.7 L513.9 422.4 L520.9 421.7 L528.5 421 L536 420.1 L543.4 419.3 L550.7 418.6 L557.9 417.9 L565.4 417.2 L572.8 416.5 L580.1 415.9 L587 415.5 L593.8 415 L600.8 414.2 L608.7 413.3 L616 412.4 L623.3 410.9 L630.7 409.1 L637.8 406.5 L645 401.8 L652.1 391.8 L659.7 343.8 L661.6 312.3" fill="none" stroke="#111" stroke-width="0.9" stroke-linejoin="round"/>
<rect x="452.65" y="459.15" width="3.7" height="3.7" fill="#000" stroke="none" stroke-width="0"/>
<rect x="460.55" y="442.85" width="3.7" height="3.7" fill="#000" stroke="none" stroke-width="0"/>
<rect x="467.95" y="433.75" width="3.7" height="3.7" fill="#000" stroke="none" stroke-width="0"/>
<rect x="475.45" y="430.35" width="3.7" height="3.7" fill="#000" stroke="none" stroke-width="0"/>
<rect x="482.85" y="427.05" width="3.7" height="3.7" fill="#000" stroke="none" stroke-width="0"/>
<rect x="490.15" y="424.75" width="3.7" height="3.7" fill="#000" stroke="none" stroke-width="0"/>
<rect x="497.75" y="423.05" width="3.7" height="3.7" fill="#000" stroke="none" stroke-width="0"/>
<rect x="504.75" y="421.85" width="3.7" height="3.7" fill="#000" stroke="none" stroke-width="0"/>
<rect x="512.05" y="420.55" width="3.7" height="3.7" fill="#000" stroke="none" stroke-width="0"/>
<rect x="519.05" y="419.85" width="3.7" height="3.7" fill="#000" stroke="none" stroke-width="0"/>
<rect x="526.65" y="419.15" width="3.7" height="3.7" fill="#000" stroke="none" stroke-width="0"/>
<rect x="534.15" y="418.25" width="3.7" height="3.7" fill="#000" stroke="none" stroke-width="0"/>
<rect x="541.55" y="417.45" width="3.7" height="3.7" fill="#000" stroke="none" stroke-width="0"/>
<rect x="548.85" y="416.75" width="3.7" height="3.7" fill="#000" stroke="none" stroke-width="0"/>
<rect x="556.05" y="416.05" width="3.7" height="3.7" fill="#000" stroke="none" stroke-width="0"/>
<rect x="563.55" y="415.35" width="3.7" height="3.7" fill="#000" stroke="none" stroke-width="0"/>
<rect x="570.95" y="414.65" width="3.7" height="3.7" fill="#000" stroke="none" stroke-width="0"/>
<rect x="578.25" y="414.05" width="3.7" height="3.7" fill="#000" stroke="none" stroke-width="0"/>
<rect x="585.15" y="413.65" width="3.7" height="3.7" fill="#000" stroke="none" stroke-width="0"/>
<rect x="591.95" y="413.15" width="3.7" height="3.7" fill="#000" stroke="none" stroke-width="0"/>
<rect x="598.95" y="412.35" width="3.7" height="3.7" fill="#000" stroke="none" stroke-width="0"/>
<rect x="606.85" y="411.45" width="3.7" height="3.7" fill="#000" stroke="none" stroke-width="0"/>
<rect x="614.15" y="410.55" width="3.7" height="3.7" fill="#000" stroke="none" stroke-width="0"/>
<rect x="621.45" y="409.05" width="3.7" height="3.7" fill="#000" stroke="none" stroke-width="0"/>
<rect x="628.85" y="407.25" width="3.7" height="3.7" fill="#000" stroke="none" stroke-width="0"/>
<rect x="635.95" y="404.65" width="3.7" height="3.7" fill="#000" stroke="none" stroke-width="0"/>
<rect x="643.15" y="399.95" width="3.7" height="3.7" fill="#000" stroke="none" stroke-width="0"/>
<rect x="650.25" y="389.95" width="3.7" height="3.7" fill="#000" stroke="none" stroke-width="0"/>
<rect x="657.85" y="341.95" width="3.7" height="3.7" fill="#000" stroke="none" stroke-width="0"/>
<rect x="659.75" y="310.45" width="3.7" height="3.7" fill="#000" stroke="none" stroke-width="0"/>
<path d="M462.4 444.7 L470.1 436.8 L477.3 432.4 L484.7 428.9 L492 426.6 L499.6 424.9 L506.6 423.7 L513.9 422.4 L520.9 421.7 L528.5 421 L536 420.1 L543.4 419.3 L550.7 418.6 L557.9 417.9 L565.4 416.8 L572.8 415.9 L580.1 415 L587.7 414.2 L595.2 412.9 L602.2 412 L605.7 411.5 L613.3 410.2 L620.6 408.2 L628.3 405.5 L636.4 401.3 L645.5 391.8 L653.1 371 L661.6 312.3" fill="none" stroke="#ff1f1f" stroke-width="0.9" stroke-linejoin="round"/>
<circle cx="462.4" cy="444.7" r="2.2" fill="#ff1f1f"/>
<circle cx="470.1" cy="436.8" r="2.2" fill="#ff1f1f"/>
<circle cx="477.3" cy="432.4" r="2.2" fill="#ff1f1f"/>
<circle cx="484.7" cy="428.9" r="2.2" fill="#ff1f1f"/>
<circle cx="492" cy="426.6" r="2.2" fill="#ff1f1f"/>
<circle cx="499.6" cy="424.9" r="2.2" fill="#ff1f1f"/>
<circle cx="506.6" cy="423.7" r="2.2" fill="#ff1f1f"/>
<circle cx="513.9" cy="422.4" r="2.2" fill="#ff1f1f"/>
<circle cx="520.9" cy="421.7" r="2.2" fill="#ff1f1f"/>
<circle cx="528.5" cy="421" r="2.2" fill="#ff1f1f"/>
<circle cx="536" cy="420.1" r="2.2" fill="#ff1f1f"/>
<circle cx="543.4" cy="419.3" r="2.2" fill="#ff1f1f"/>
<circle cx="550.7" cy="418.6" r="2.2" fill="#ff1f1f"/>
<circle cx="557.9" cy="417.9" r="2.2" fill="#ff1f1f"/>
<circle cx="565.4" cy="416.8" r="2.2" fill="#ff1f1f"/>
<circle cx="572.8" cy="415.9" r="2.2" fill="#ff1f1f"/>
<circle cx="580.1" cy="415" r="2.2" fill="#ff1f1f"/>
<circle cx="587.7" cy="414.2" r="2.2" fill="#ff1f1f"/>
<circle cx="595.2" cy="412.9" r="2.2" fill="#ff1f1f"/>
<circle cx="602.2" cy="412" r="2.2" fill="#ff1f1f"/>
<circle cx="605.7" cy="411.5" r="2.2" fill="#ff1f1f"/>
<circle cx="613.3" cy="410.2" r="2.2" fill="#ff1f1f"/>
<circle cx="620.6" cy="408.2" r="2.2" fill="#ff1f1f"/>
<circle cx="628.3" cy="405.5" r="2.2" fill="#ff1f1f"/>
<circle cx="636.4" cy="401.3" r="2.2" fill="#ff1f1f"/>
<circle cx="645.5" cy="391.8" r="2.2" fill="#ff1f1f"/>
<circle cx="653.1" cy="371" r="2.2" fill="#ff1f1f"/>
<circle cx="661.6" cy="312.3" r="2.2" fill="#ff1f1f"/>
<rect x="431.3" y="292.2" width="252.1" height="184.1" fill="none" stroke="#222" stroke-width="1.1"/>
<line x1="452.3" y1="476.3" x2="452.3" y2="472.9" stroke="#222" stroke-width="0.9"/>
<line x1="473.3" y1="476.3" x2="473.3" y2="474.3" stroke="#222" stroke-width="0.9"/>
<line x1="494.3" y1="476.3" x2="494.3" y2="472.9" stroke="#222" stroke-width="0.9"/>
<line x1="515.3" y1="476.3" x2="515.3" y2="474.3" stroke="#222" stroke-width="0.9"/>
<line x1="536.3" y1="476.3" x2="536.3" y2="472.9" stroke="#222" stroke-width="0.9"/>
<line x1="557.3" y1="476.3" x2="557.3" y2="474.3" stroke="#222" stroke-width="0.9"/>
<line x1="578.3" y1="476.3" x2="578.3" y2="472.9" stroke="#222" stroke-width="0.9"/>
<line x1="599.3" y1="476.3" x2="599.3" y2="474.3" stroke="#222" stroke-width="0.9"/>
<line x1="620.3" y1="476.3" x2="620.3" y2="472.9" stroke="#222" stroke-width="0.9"/>
<line x1="641.3" y1="476.3" x2="641.3" y2="474.3" stroke="#222" stroke-width="0.9"/>
<line x1="662.3" y1="476.3" x2="662.3" y2="472.9" stroke="#222" stroke-width="0.9"/>
<text x="452.3" y="489.2" font-family="Liberation Serif" font-size="11.2" text-anchor="middle" fill="#222" textLength="13.2" lengthAdjust="spacingAndGlyphs">0.0</text>
<text x="494.3" y="489.2" font-family="Liberation Serif" font-size="11.2" text-anchor="middle" fill="#222" textLength="13.2" lengthAdjust="spacingAndGlyphs">0.2</text>
<text x="536.3" y="489.2" font-family="Liberation Serif" font-size="11.2" text-anchor="middle" fill="#222" textLength="13.2" lengthAdjust="spacingAndGlyphs">0.4</text>
<text x="578.3" y="489.2" font-family="Liberation Serif" font-size="11.2" text-anchor="middle" fill="#222" textLength="13.2" lengthAdjust="spacingAndGlyphs">0.6</text>
<text x="620.3" y="489.2" font-family="Liberation Serif" font-size="11.2" text-anchor="middle" fill="#222" textLength="13.2" lengthAdjust="spacingAndGlyphs">0.8</text>
<text x="662.3" y="489.2" font-family="Liberation Serif" font-size="11.2" text-anchor="middle" fill="#222" textLength="13.2" lengthAdjust="spacingAndGlyphs">1.0</text>
<line x1="431.3" y1="460.3" x2="434.7" y2="460.3" stroke="#222" stroke-width="0.9"/>
<line x1="431.3" y1="445" x2="433.3" y2="445" stroke="#222" stroke-width="0.9"/>
<line x1="431.3" y1="429.7" x2="434.7" y2="429.7" stroke="#222" stroke-width="0.9"/>
<line x1="431.3" y1="414.4" x2="433.3" y2="414.4" stroke="#222" stroke-width="0.9"/>
<line x1="431.3" y1="399.1" x2="434.7" y2="399.1" stroke="#222" stroke-width="0.9"/>
<line x1="431.3" y1="383.8" x2="433.3" y2="383.8" stroke="#222" stroke-width="0.9"/>
<line x1="431.3" y1="368.5" x2="434.7" y2="368.5" stroke="#222" stroke-width="0.9"/>
<line x1="431.3" y1="353.2" x2="433.3" y2="353.2" stroke="#222" stroke-width="0.9"/>
<line x1="431.3" y1="337.9" x2="434.7" y2="337.9" stroke="#222" stroke-width="0.9"/>
<line x1="431.3" y1="322.6" x2="433.3" y2="322.6" stroke="#222" stroke-width="0.9"/>
<line x1="431.3" y1="307.3" x2="434.7" y2="307.3" stroke="#222" stroke-width="0.9"/>
<text x="427.3" y="464.1" font-family="Liberation Serif" font-size="11.2" text-anchor="end" fill="#222" textLength="10.4" lengthAdjust="spacingAndGlyphs">60</text>
<text x="427.3" y="433.5" font-family="Liberation Serif" font-size="11.2" text-anchor="end" fill="#222" textLength="10.4" lengthAdjust="spacingAndGlyphs">80</text>
<text x="427.3" y="402.9" font-family="Liberation Serif" font-size="11.2" text-anchor="end" fill="#222" textLength="15.6" lengthAdjust="spacingAndGlyphs">100</text>
<text x="427.3" y="372.3" font-family="Liberation Serif" font-size="11.2" text-anchor="end" fill="#222" textLength="15.6" lengthAdjust="spacingAndGlyphs">120</text>
<text x="427.3" y="341.7" font-family="Liberation Serif" font-size="11.2" text-anchor="end" fill="#222" textLength="15.6" lengthAdjust="spacingAndGlyphs">140</text>
<text x="427.3" y="311.1" font-family="Liberation Serif" font-size="11.2" text-anchor="end" fill="#222" textLength="15.6" lengthAdjust="spacingAndGlyphs">160</text>
<text x="442.2" y="307.2" font-family="Liberation Serif" font-size="12.4" font-weight="bold" text-anchor="start" fill="#111" textLength="14.8" lengthAdjust="spacingAndGlyphs">(d)</text>
<text x="558.2" y="502.4" font-family="Liberation Serif" font-size="10.9" font-weight="bold" text-anchor="middle" fill="#111" textLength="111.7" lengthAdjust="spacingAndGlyphs">Relative pressure (<tspan font-style="italic">P</tspan>/<tspan font-style="italic">P</tspan><tspan dy="2.4" font-size="7.41">0</tspan><tspan dy="-2.4">)</tspan></text>
<text x="405.6" y="384.1" font-family="Liberation Serif" font-size="11.3" font-weight="bold" text-anchor="middle" fill="#111" textLength="146.4" lengthAdjust="spacingAndGlyphs" transform="rotate(-90 405.6 384.1)">Quantity Adsorbed (cm<tspan dy="-4.29" font-size="7.68">3</tspan><tspan dy="4.29">/g STP)</tspan></text>
<rect x="561.5" y="301.4" width="82.1" height="27.9" fill="#fff" stroke="#222" stroke-width="1.0"/>
<line x1="562.5" y1="307.8" x2="585.5" y2="307.8" stroke="#111" stroke-width="0.9"/>
<rect x="571.7" y="305.5" width="4" height="4" fill="#000" stroke="none" stroke-width="0"/>
<line x1="562.5" y1="321.1" x2="585.5" y2="321.1" stroke="#ff1f1f" stroke-width="0.9"/>
<circle cx="573.7" cy="321.0" r="2.35" fill="#ff1f1f"/>
<text x="589.4" y="311.2" font-family="Liberation Serif" font-size="11" text-anchor="start" fill="#222" textLength="47.8" lengthAdjust="spacingAndGlyphs">Absorption</text>
<text x="589.4" y="324.6" font-family="Liberation Serif" font-size="11" text-anchor="start" fill="#222" textLength="47.2" lengthAdjust="spacingAndGlyphs">Desorption</text>
</svg>
</body></html>
